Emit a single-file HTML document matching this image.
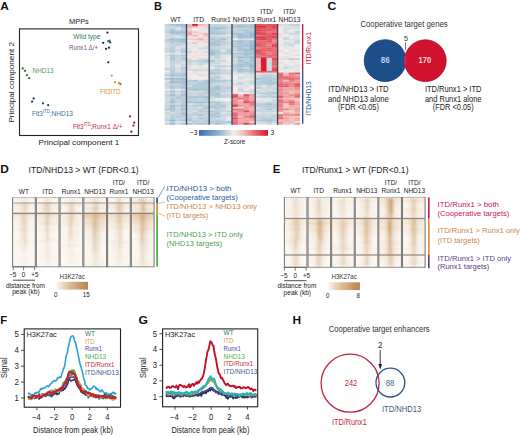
<!DOCTYPE html>
<html><head><meta charset="utf-8"><style>
html,body{margin:0;padding:0;background:#fff;}
svg{display:block;}
text{font-family:"Liberation Sans", sans-serif;}
</style></head><body>
<svg width="520" height="436" viewBox="0 0 520 436" font-family='"Liberation Sans", sans-serif'>
<rect width="520" height="436" fill="#fff"/>
<text x="0.2" y="9.8" font-size="11.8" font-weight="bold" fill="#111" textLength="8.6" lengthAdjust="spacingAndGlyphs">A</text>
<text x="69" y="23.8" font-size="7.7" fill="#222" textLength="19.8" lengthAdjust="spacingAndGlyphs">MPPs</text>
<rect x="19.5" y="28.9" width="119" height="106.6" fill="none" stroke="#222" stroke-width="1.1"/>
<text x="38.5" y="145.0" font-size="7.7" fill="#222" textLength="80.9" lengthAdjust="spacingAndGlyphs">Principal component 1</text>
<text transform="translate(14.4,122.6) rotate(-90)" font-size="7.7" fill="#222" textLength="80.6" lengthAdjust="spacingAndGlyphs">Principal component 2</text>
<text x="73.3" y="38.8" font-size="7.37" fill="#2f7a66" textLength="27.1" lengthAdjust="spacingAndGlyphs">Wild type</text>
<text x="69" y="50.0" font-size="7.37" fill="#6e4f86" textLength="29.1" lengthAdjust="spacingAndGlyphs">Runx1 &#916;/+</text>
<text x="32.6" y="73.3" font-size="7.37" fill="#4f9a4f" textLength="21" lengthAdjust="spacingAndGlyphs">NHD13</text>
<text x="100" y="94.4" font-size="7.37" fill="#d9903a" textLength="20.5" lengthAdjust="spacingAndGlyphs">Flt3ITD</text>
<text x="32" y="115.8" font-size="7.3" fill="#3a6ea5" textLength="41" lengthAdjust="spacingAndGlyphs">Flt3<tspan font-size="4.8" dy="-3.0">ITD</tspan><tspan dy="3.0">;NHD13</tspan></text>
<text x="72.9" y="129.4" font-size="7.3" fill="#c8284a" textLength="49.6" lengthAdjust="spacingAndGlyphs">Flt3<tspan font-size="4.8" dy="-3.0">ITD</tspan><tspan dy="3.0">;Runx1 &#916;/+</tspan></text>
<circle cx="107.4" cy="32.6" r="1.15" fill="#1a2a3a"/>
<circle cx="103.2" cy="42.8" r="1.15" fill="#1a2a3a"/>
<circle cx="108.2" cy="41.2" r="1.15" fill="#2f7a66"/>
<circle cx="109.5" cy="40.6" r="1.15" fill="#2f7a66"/>
<circle cx="110.2" cy="42.3" r="1.15" fill="#1a2a3a"/>
<circle cx="106.1" cy="48.8" r="1.15" fill="#1a2a3a"/>
<circle cx="109.0" cy="47.7" r="1.15" fill="#1a2a3a"/>
<circle cx="108.3" cy="62.3" r="1.15" fill="#3a1f3a"/>
<circle cx="111.7" cy="75.6" r="1.15" fill="#d9903a"/>
<circle cx="114.9" cy="82.2" r="1.15" fill="#d9903a"/>
<circle cx="118.9" cy="83.0" r="1.15" fill="#d9903a"/>
<circle cx="120.5" cy="84.0" r="1.15" fill="#c07030"/>
<circle cx="22.7" cy="68.5" r="1.15" fill="#2a6e35"/>
<circle cx="25.0" cy="70.8" r="1.15" fill="#2a6e35"/>
<circle cx="26.9" cy="75.1" r="1.15" fill="#2a6e35"/>
<circle cx="29.2" cy="78.2" r="1.15" fill="#2a6e35"/>
<circle cx="33.7" cy="98.5" r="1.15" fill="#1d3a6a"/>
<circle cx="32.1" cy="101.7" r="1.15" fill="#1d3a6a"/>
<circle cx="43.0" cy="103.3" r="1.15" fill="#1d3a6a"/>
<circle cx="48.2" cy="105.2" r="1.15" fill="#1d3a6a"/>
<circle cx="130.0" cy="116.4" r="1.15" fill="#b01838"/>
<circle cx="134.2" cy="122.7" r="1.15" fill="#b01838"/>
<circle cx="133.4" cy="125.6" r="1.15" fill="#b01838"/>
<circle cx="131.3" cy="131.7" r="1.15" fill="#8a1030"/>
<text x="153.9" y="9.8" font-size="11.8" font-weight="bold" fill="#111" textLength="7.9" lengthAdjust="spacingAndGlyphs">B</text>
<defs><filter id="hblr" x="-3%" y="-3%" width="106%" height="106%"><feGaussianBlur stdDeviation="0.45"/></filter><clipPath id="hclip"><rect x="164.4" y="24" width="135.8" height="100.8"/></clipPath></defs>
<g clip-path="url(#hclip)"><g filter="url(#hblr)">
<rect x="164.40" y="24.00" width="5.82" height="2.10" fill="#bccfdb"/>
<rect x="164.40" y="25.80" width="5.82" height="2.10" fill="#ced9e1"/>
<rect x="164.40" y="27.60" width="5.82" height="2.10" fill="#ccd9e0"/>
<rect x="164.40" y="29.40" width="5.82" height="2.10" fill="#c8d6df"/>
<rect x="164.40" y="31.20" width="5.82" height="2.10" fill="#b9cdda"/>
<rect x="164.40" y="33.00" width="5.82" height="2.10" fill="#d8dfe4"/>
<rect x="164.40" y="34.80" width="5.82" height="2.10" fill="#c9d7df"/>
<rect x="164.40" y="36.60" width="5.82" height="2.10" fill="#dce2e5"/>
<rect x="164.40" y="38.40" width="5.82" height="2.10" fill="#bbcfdb"/>
<rect x="164.40" y="40.20" width="5.82" height="2.10" fill="#b8cdda"/>
<rect x="164.40" y="42.00" width="5.82" height="2.10" fill="#d3dce2"/>
<rect x="164.40" y="43.80" width="5.82" height="2.10" fill="#cfdae1"/>
<rect x="164.40" y="45.60" width="5.82" height="2.10" fill="#d6dee3"/>
<rect x="164.40" y="47.40" width="5.82" height="2.10" fill="#cad7df"/>
<rect x="164.40" y="49.20" width="5.82" height="2.10" fill="#c1d2dd"/>
<rect x="164.40" y="51.00" width="5.82" height="2.10" fill="#c9d7df"/>
<rect x="164.40" y="52.80" width="5.82" height="2.10" fill="#f2e7e6"/>
<rect x="164.40" y="54.60" width="5.82" height="2.10" fill="#cdd9e0"/>
<rect x="164.40" y="56.40" width="5.82" height="2.10" fill="#dee2e6"/>
<rect x="164.40" y="58.20" width="5.82" height="2.10" fill="#d6dee3"/>
<rect x="164.40" y="60.00" width="5.82" height="2.10" fill="#e6e7e8"/>
<rect x="164.40" y="61.80" width="5.82" height="2.10" fill="#e1e4e7"/>
<rect x="164.40" y="63.60" width="5.82" height="2.10" fill="#e1e4e7"/>
<rect x="164.40" y="65.40" width="5.82" height="2.10" fill="#f0edeb"/>
<rect x="164.40" y="67.20" width="5.82" height="2.10" fill="#c7d5df"/>
<rect x="164.40" y="69.00" width="5.82" height="2.10" fill="#c9d7df"/>
<rect x="164.40" y="70.80" width="5.82" height="2.10" fill="#eceaea"/>
<rect x="164.40" y="72.60" width="5.82" height="2.10" fill="#ccd9e0"/>
<rect x="164.40" y="74.40" width="5.82" height="2.10" fill="#b8cdda"/>
<rect x="164.40" y="76.20" width="5.82" height="2.10" fill="#dae0e5"/>
<rect x="164.40" y="78.00" width="5.82" height="2.10" fill="#a8c3d5"/>
<rect x="164.40" y="79.80" width="5.82" height="2.10" fill="#dfe3e6"/>
<rect x="164.40" y="81.60" width="5.82" height="2.10" fill="#c5d4de"/>
<rect x="164.40" y="83.40" width="5.82" height="2.10" fill="#c9d6df"/>
<rect x="164.40" y="85.20" width="5.82" height="2.10" fill="#c4d4de"/>
<rect x="164.40" y="87.00" width="5.82" height="2.10" fill="#cbd8e0"/>
<rect x="164.40" y="88.80" width="5.82" height="2.10" fill="#ecebea"/>
<rect x="164.40" y="90.60" width="5.82" height="2.10" fill="#c5d4de"/>
<rect x="164.40" y="92.40" width="5.82" height="2.10" fill="#d7dee3"/>
<rect x="164.40" y="94.20" width="5.82" height="2.10" fill="#c0d1dc"/>
<rect x="164.40" y="96.00" width="5.82" height="2.10" fill="#cad7e0"/>
<rect x="164.40" y="97.80" width="5.82" height="2.10" fill="#d1dbe2"/>
<rect x="164.40" y="99.60" width="5.82" height="2.10" fill="#d4dde3"/>
<rect x="164.40" y="101.40" width="5.82" height="2.10" fill="#c4d4dd"/>
<rect x="164.40" y="103.20" width="5.82" height="2.10" fill="#d1dbe2"/>
<rect x="164.40" y="105.00" width="5.82" height="2.10" fill="#c5d4de"/>
<rect x="164.40" y="106.80" width="5.82" height="2.10" fill="#ccd8e0"/>
<rect x="164.40" y="108.60" width="5.82" height="2.10" fill="#a9c4d5"/>
<rect x="164.40" y="110.40" width="5.82" height="2.10" fill="#d7dfe4"/>
<rect x="164.40" y="112.20" width="5.82" height="2.10" fill="#c2d3dd"/>
<rect x="164.40" y="114.00" width="5.82" height="2.10" fill="#d6dee3"/>
<rect x="164.40" y="115.80" width="5.82" height="2.10" fill="#d8dfe4"/>
<rect x="164.40" y="117.60" width="5.82" height="2.10" fill="#c9d7df"/>
<rect x="164.40" y="119.40" width="5.82" height="2.10" fill="#bed0dc"/>
<rect x="164.40" y="121.20" width="5.82" height="2.10" fill="#dce1e5"/>
<rect x="164.40" y="123.00" width="5.82" height="2.10" fill="#c3d3dd"/>
<rect x="169.93" y="24.00" width="5.82" height="2.10" fill="#a7c3d5"/>
<rect x="169.93" y="25.80" width="5.82" height="2.10" fill="#cdd9e0"/>
<rect x="169.93" y="27.60" width="5.82" height="2.10" fill="#c8d6df"/>
<rect x="169.93" y="29.40" width="5.82" height="2.10" fill="#a1bfd4"/>
<rect x="169.93" y="31.20" width="5.82" height="2.10" fill="#9cbcd3"/>
<rect x="169.93" y="33.00" width="5.82" height="2.10" fill="#b0c8d7"/>
<rect x="169.93" y="34.80" width="5.82" height="2.10" fill="#d0dbe1"/>
<rect x="169.93" y="36.60" width="5.82" height="2.10" fill="#c5d4de"/>
<rect x="169.93" y="38.40" width="5.82" height="2.10" fill="#a2bfd4"/>
<rect x="169.93" y="40.20" width="5.82" height="2.10" fill="#adc7d6"/>
<rect x="169.93" y="42.00" width="5.82" height="2.10" fill="#b8cdda"/>
<rect x="169.93" y="43.80" width="5.82" height="2.10" fill="#c9d7df"/>
<rect x="169.93" y="45.60" width="5.82" height="2.10" fill="#bdd0db"/>
<rect x="169.93" y="47.40" width="5.82" height="2.10" fill="#b7ccda"/>
<rect x="169.93" y="49.20" width="5.82" height="2.10" fill="#b5cbd9"/>
<rect x="169.93" y="51.00" width="5.82" height="2.10" fill="#baceda"/>
<rect x="169.93" y="52.80" width="5.82" height="2.10" fill="#dae0e4"/>
<rect x="169.93" y="54.60" width="5.82" height="2.10" fill="#aec7d7"/>
<rect x="169.93" y="56.40" width="5.82" height="2.10" fill="#a8c3d5"/>
<rect x="169.93" y="58.20" width="5.82" height="2.10" fill="#adc7d6"/>
<rect x="169.93" y="60.00" width="5.82" height="2.10" fill="#c0d1dc"/>
<rect x="169.93" y="61.80" width="5.82" height="2.10" fill="#c1d2dd"/>
<rect x="169.93" y="63.60" width="5.82" height="2.10" fill="#c7d5de"/>
<rect x="169.93" y="65.40" width="5.82" height="2.10" fill="#c1d2dc"/>
<rect x="169.93" y="67.20" width="5.82" height="2.10" fill="#bbcfdb"/>
<rect x="169.93" y="69.00" width="5.82" height="2.10" fill="#b9ceda"/>
<rect x="169.93" y="70.80" width="5.82" height="2.10" fill="#bacedb"/>
<rect x="169.93" y="72.60" width="5.82" height="2.10" fill="#b3cad8"/>
<rect x="169.93" y="74.40" width="5.82" height="2.10" fill="#9ebdd4"/>
<rect x="169.93" y="76.20" width="5.82" height="2.10" fill="#c2d2dd"/>
<rect x="169.93" y="78.00" width="5.82" height="2.10" fill="#9bbbd3"/>
<rect x="169.93" y="79.80" width="5.82" height="2.10" fill="#aac5d6"/>
<rect x="169.93" y="81.60" width="5.82" height="2.10" fill="#93b5d2"/>
<rect x="169.93" y="83.40" width="5.82" height="2.10" fill="#c0d1dc"/>
<rect x="169.93" y="85.20" width="5.82" height="2.10" fill="#b3cad8"/>
<rect x="169.93" y="87.00" width="5.82" height="2.10" fill="#b0c8d7"/>
<rect x="169.93" y="88.80" width="5.82" height="2.10" fill="#d8dfe4"/>
<rect x="169.93" y="90.60" width="5.82" height="2.10" fill="#a3c0d5"/>
<rect x="169.93" y="92.40" width="5.82" height="2.10" fill="#bccfdb"/>
<rect x="169.93" y="94.20" width="5.82" height="2.10" fill="#a2bfd4"/>
<rect x="169.93" y="96.00" width="5.82" height="2.10" fill="#c2d3dd"/>
<rect x="169.93" y="97.80" width="5.82" height="2.10" fill="#bbcedb"/>
<rect x="169.93" y="99.60" width="5.82" height="2.10" fill="#a7c2d5"/>
<rect x="169.93" y="101.40" width="5.82" height="2.10" fill="#9ebdd4"/>
<rect x="169.93" y="103.20" width="5.82" height="2.10" fill="#bfd1dc"/>
<rect x="169.93" y="105.00" width="5.82" height="2.10" fill="#a5c1d5"/>
<rect x="169.93" y="106.80" width="5.82" height="2.10" fill="#a7c3d5"/>
<rect x="169.93" y="108.60" width="5.82" height="2.10" fill="#a7c2d5"/>
<rect x="169.93" y="110.40" width="5.82" height="2.10" fill="#b8cdda"/>
<rect x="169.93" y="112.20" width="5.82" height="2.10" fill="#cdd9e0"/>
<rect x="169.93" y="114.00" width="5.82" height="2.10" fill="#c4d4de"/>
<rect x="169.93" y="115.80" width="5.82" height="2.10" fill="#b5cbd9"/>
<rect x="169.93" y="117.60" width="5.82" height="2.10" fill="#baceda"/>
<rect x="169.93" y="119.40" width="5.82" height="2.10" fill="#96b7d2"/>
<rect x="169.93" y="121.20" width="5.82" height="2.10" fill="#bbcfdb"/>
<rect x="169.93" y="123.00" width="5.82" height="2.10" fill="#a0bed4"/>
<rect x="175.45" y="24.00" width="5.82" height="2.10" fill="#9ebdd4"/>
<rect x="175.45" y="25.80" width="5.82" height="2.10" fill="#bed0dc"/>
<rect x="175.45" y="27.60" width="5.82" height="2.10" fill="#dee2e6"/>
<rect x="175.45" y="29.40" width="5.82" height="2.10" fill="#cdd9e0"/>
<rect x="175.45" y="31.20" width="5.82" height="2.10" fill="#a5c1d5"/>
<rect x="175.45" y="33.00" width="5.82" height="2.10" fill="#b1c9d7"/>
<rect x="175.45" y="34.80" width="5.82" height="2.10" fill="#d3dce2"/>
<rect x="175.45" y="36.60" width="5.82" height="2.10" fill="#dbe1e5"/>
<rect x="175.45" y="38.40" width="5.82" height="2.10" fill="#a8c3d5"/>
<rect x="175.45" y="40.20" width="5.82" height="2.10" fill="#a9c4d6"/>
<rect x="175.45" y="42.00" width="5.82" height="2.10" fill="#c5d4de"/>
<rect x="175.45" y="43.80" width="5.82" height="2.10" fill="#bccfdb"/>
<rect x="175.45" y="45.60" width="5.82" height="2.10" fill="#d1dbe2"/>
<rect x="175.45" y="47.40" width="5.82" height="2.10" fill="#dee2e6"/>
<rect x="175.45" y="49.20" width="5.82" height="2.10" fill="#c8d6df"/>
<rect x="175.45" y="51.00" width="5.82" height="2.10" fill="#d5dde3"/>
<rect x="175.45" y="52.80" width="5.82" height="2.10" fill="#e6e7e8"/>
<rect x="175.45" y="54.60" width="5.82" height="2.10" fill="#bdd0db"/>
<rect x="175.45" y="56.40" width="5.82" height="2.10" fill="#c3d3dd"/>
<rect x="175.45" y="58.20" width="5.82" height="2.10" fill="#c7d6df"/>
<rect x="175.45" y="60.00" width="5.82" height="2.10" fill="#ccd8e0"/>
<rect x="175.45" y="61.80" width="5.82" height="2.10" fill="#c8d6df"/>
<rect x="175.45" y="63.60" width="5.82" height="2.10" fill="#dbe1e5"/>
<rect x="175.45" y="65.40" width="5.82" height="2.10" fill="#e8e8e9"/>
<rect x="175.45" y="67.20" width="5.82" height="2.10" fill="#cfdae1"/>
<rect x="175.45" y="69.00" width="5.82" height="2.10" fill="#dbe1e5"/>
<rect x="175.45" y="70.80" width="5.82" height="2.10" fill="#d5dde3"/>
<rect x="175.45" y="72.60" width="5.82" height="2.10" fill="#bdd0db"/>
<rect x="175.45" y="74.40" width="5.82" height="2.10" fill="#aac5d6"/>
<rect x="175.45" y="76.20" width="5.82" height="2.10" fill="#c8d6df"/>
<rect x="175.45" y="78.00" width="5.82" height="2.10" fill="#a5c1d5"/>
<rect x="175.45" y="79.80" width="5.82" height="2.10" fill="#aec7d6"/>
<rect x="175.45" y="81.60" width="5.82" height="2.10" fill="#a1bfd4"/>
<rect x="175.45" y="83.40" width="5.82" height="2.10" fill="#c2d3dd"/>
<rect x="175.45" y="85.20" width="5.82" height="2.10" fill="#b9cdda"/>
<rect x="175.45" y="87.00" width="5.82" height="2.10" fill="#c0d2dc"/>
<rect x="175.45" y="88.80" width="5.82" height="2.10" fill="#f2e4e2"/>
<rect x="175.45" y="90.60" width="5.82" height="2.10" fill="#c4d3dd"/>
<rect x="175.45" y="92.40" width="5.82" height="2.10" fill="#d5dde3"/>
<rect x="175.45" y="94.20" width="5.82" height="2.10" fill="#bdd0db"/>
<rect x="175.45" y="96.00" width="5.82" height="2.10" fill="#b5cbd9"/>
<rect x="175.45" y="97.80" width="5.82" height="2.10" fill="#b6ccd9"/>
<rect x="175.45" y="99.60" width="5.82" height="2.10" fill="#c9d7df"/>
<rect x="175.45" y="101.40" width="5.82" height="2.10" fill="#c0d1dc"/>
<rect x="175.45" y="103.20" width="5.82" height="2.10" fill="#d2dce2"/>
<rect x="175.45" y="105.00" width="5.82" height="2.10" fill="#b8cdda"/>
<rect x="175.45" y="106.80" width="5.82" height="2.10" fill="#d5dee3"/>
<rect x="175.45" y="108.60" width="5.82" height="2.10" fill="#bfd1dc"/>
<rect x="175.45" y="110.40" width="5.82" height="2.10" fill="#c6d5de"/>
<rect x="175.45" y="112.20" width="5.82" height="2.10" fill="#c3d3dd"/>
<rect x="175.45" y="114.00" width="5.82" height="2.10" fill="#c5d4de"/>
<rect x="175.45" y="115.80" width="5.82" height="2.10" fill="#baceda"/>
<rect x="175.45" y="117.60" width="5.82" height="2.10" fill="#cbd8e0"/>
<rect x="175.45" y="119.40" width="5.82" height="2.10" fill="#c2d3dd"/>
<rect x="175.45" y="121.20" width="5.82" height="2.10" fill="#dae0e4"/>
<rect x="175.45" y="123.00" width="5.82" height="2.10" fill="#ccd8e0"/>
<rect x="180.97" y="24.00" width="5.82" height="2.10" fill="#a0bed4"/>
<rect x="180.97" y="25.80" width="5.82" height="2.10" fill="#a2bfd4"/>
<rect x="180.97" y="27.60" width="5.82" height="2.10" fill="#c0d2dc"/>
<rect x="180.97" y="29.40" width="5.82" height="2.10" fill="#b2cad8"/>
<rect x="180.97" y="31.20" width="5.82" height="2.10" fill="#9dbcd4"/>
<rect x="180.97" y="33.00" width="5.82" height="2.10" fill="#b5cbd9"/>
<rect x="180.97" y="34.80" width="5.82" height="2.10" fill="#bdcfdb"/>
<rect x="180.97" y="36.60" width="5.82" height="2.10" fill="#ced9e1"/>
<rect x="180.97" y="38.40" width="5.82" height="2.10" fill="#9ebdd4"/>
<rect x="180.97" y="40.20" width="5.82" height="2.10" fill="#9dbcd3"/>
<rect x="180.97" y="42.00" width="5.82" height="2.10" fill="#b5cbd9"/>
<rect x="180.97" y="43.80" width="5.82" height="2.10" fill="#cdd9e0"/>
<rect x="180.97" y="45.60" width="5.82" height="2.10" fill="#d5dde3"/>
<rect x="180.97" y="47.40" width="5.82" height="2.10" fill="#c0d1dc"/>
<rect x="180.97" y="49.20" width="5.82" height="2.10" fill="#b4cbd9"/>
<rect x="180.97" y="51.00" width="5.82" height="2.10" fill="#b1c9d7"/>
<rect x="180.97" y="52.80" width="5.82" height="2.10" fill="#dae0e4"/>
<rect x="180.97" y="54.60" width="5.82" height="2.10" fill="#adc7d6"/>
<rect x="180.97" y="56.40" width="5.82" height="2.10" fill="#bbcfdb"/>
<rect x="180.97" y="58.20" width="5.82" height="2.10" fill="#acc6d6"/>
<rect x="180.97" y="60.00" width="5.82" height="2.10" fill="#c4d4de"/>
<rect x="180.97" y="61.80" width="5.82" height="2.10" fill="#dee2e6"/>
<rect x="180.97" y="63.60" width="5.82" height="2.10" fill="#cbd8e0"/>
<rect x="180.97" y="65.40" width="5.82" height="2.10" fill="#cad7df"/>
<rect x="180.97" y="67.20" width="5.82" height="2.10" fill="#b5cbd9"/>
<rect x="180.97" y="69.00" width="5.82" height="2.10" fill="#bed0dc"/>
<rect x="180.97" y="70.80" width="5.82" height="2.10" fill="#c7d5de"/>
<rect x="180.97" y="72.60" width="5.82" height="2.10" fill="#afc8d7"/>
<rect x="180.97" y="74.40" width="5.82" height="2.10" fill="#a0bed4"/>
<rect x="180.97" y="76.20" width="5.82" height="2.10" fill="#c0d1dc"/>
<rect x="180.97" y="78.00" width="5.82" height="2.10" fill="#9cbcd3"/>
<rect x="180.97" y="79.80" width="5.82" height="2.10" fill="#a9c4d6"/>
<rect x="180.97" y="81.60" width="5.82" height="2.10" fill="#9abad3"/>
<rect x="180.97" y="83.40" width="5.82" height="2.10" fill="#a9c4d5"/>
<rect x="180.97" y="85.20" width="5.82" height="2.10" fill="#b2c9d8"/>
<rect x="180.97" y="87.00" width="5.82" height="2.10" fill="#a1bed4"/>
<rect x="180.97" y="88.80" width="5.82" height="2.10" fill="#dfe3e6"/>
<rect x="180.97" y="90.60" width="5.82" height="2.10" fill="#acc6d6"/>
<rect x="180.97" y="92.40" width="5.82" height="2.10" fill="#b8cdda"/>
<rect x="180.97" y="94.20" width="5.82" height="2.10" fill="#a4c1d5"/>
<rect x="180.97" y="96.00" width="5.82" height="2.10" fill="#bbcfdb"/>
<rect x="180.97" y="97.80" width="5.82" height="2.10" fill="#bdd0db"/>
<rect x="180.97" y="99.60" width="5.82" height="2.10" fill="#b0c9d7"/>
<rect x="180.97" y="101.40" width="5.82" height="2.10" fill="#b2c9d8"/>
<rect x="180.97" y="103.20" width="5.82" height="2.10" fill="#b3cad8"/>
<rect x="180.97" y="105.00" width="5.82" height="2.10" fill="#afc8d7"/>
<rect x="180.97" y="106.80" width="5.82" height="2.10" fill="#b7ccd9"/>
<rect x="180.97" y="108.60" width="5.82" height="2.10" fill="#a0bed4"/>
<rect x="180.97" y="110.40" width="5.82" height="2.10" fill="#c0d1dc"/>
<rect x="180.97" y="112.20" width="5.82" height="2.10" fill="#a3c0d5"/>
<rect x="180.97" y="114.00" width="5.82" height="2.10" fill="#aec7d7"/>
<rect x="180.97" y="115.80" width="5.82" height="2.10" fill="#bfd1dc"/>
<rect x="180.97" y="117.60" width="5.82" height="2.10" fill="#c5d4de"/>
<rect x="180.97" y="119.40" width="5.82" height="2.10" fill="#a9c4d6"/>
<rect x="180.97" y="121.20" width="5.82" height="2.10" fill="#d1dbe2"/>
<rect x="180.97" y="123.00" width="5.82" height="2.10" fill="#abc5d6"/>
<rect x="186.50" y="24.00" width="5.97" height="2.10" fill="#f1b4b5"/>
<rect x="186.50" y="25.80" width="5.97" height="2.10" fill="#efaaac"/>
<rect x="186.50" y="27.60" width="5.97" height="2.10" fill="#d4dde2"/>
<rect x="186.50" y="29.40" width="5.97" height="2.10" fill="#f2d5d4"/>
<rect x="186.50" y="31.20" width="5.97" height="2.10" fill="#f0afb0"/>
<rect x="186.50" y="33.00" width="5.97" height="2.10" fill="#efa9ab"/>
<rect x="186.50" y="34.80" width="5.97" height="2.10" fill="#f2c8c8"/>
<rect x="186.50" y="36.60" width="5.97" height="2.10" fill="#f2e8e6"/>
<rect x="186.50" y="38.40" width="5.97" height="2.10" fill="#f2cccb"/>
<rect x="186.50" y="40.20" width="5.97" height="2.10" fill="#f2ebe9"/>
<rect x="186.50" y="42.00" width="5.97" height="2.10" fill="#f2d9d8"/>
<rect x="186.50" y="43.80" width="5.97" height="2.10" fill="#e6e7e8"/>
<rect x="186.50" y="45.60" width="5.97" height="2.10" fill="#e9e9e9"/>
<rect x="186.50" y="47.40" width="5.97" height="2.10" fill="#e3e5e7"/>
<rect x="186.50" y="49.20" width="5.97" height="2.10" fill="#dfe3e6"/>
<rect x="186.50" y="51.00" width="5.97" height="2.10" fill="#cedae1"/>
<rect x="186.50" y="52.80" width="5.97" height="2.10" fill="#f2e3e2"/>
<rect x="186.50" y="54.60" width="5.97" height="2.10" fill="#f2e3e2"/>
<rect x="186.50" y="56.40" width="5.97" height="2.10" fill="#f2e7e5"/>
<rect x="186.50" y="58.20" width="5.97" height="2.10" fill="#d4dde3"/>
<rect x="186.50" y="60.00" width="5.97" height="2.10" fill="#bfd1dc"/>
<rect x="186.50" y="61.80" width="5.97" height="2.10" fill="#cad7df"/>
<rect x="186.50" y="63.60" width="5.97" height="2.10" fill="#cbd8e0"/>
<rect x="186.50" y="65.40" width="5.97" height="2.10" fill="#f2dad9"/>
<rect x="186.50" y="67.20" width="5.97" height="2.10" fill="#dce2e5"/>
<rect x="186.50" y="69.00" width="5.97" height="2.10" fill="#cfdae1"/>
<rect x="186.50" y="70.80" width="5.97" height="2.10" fill="#f2edeb"/>
<rect x="186.50" y="72.60" width="5.97" height="2.10" fill="#f2dcdb"/>
<rect x="186.50" y="74.40" width="5.97" height="2.10" fill="#edebeb"/>
<rect x="186.50" y="76.20" width="5.97" height="2.10" fill="#f2e6e4"/>
<rect x="186.50" y="78.00" width="5.97" height="2.10" fill="#e3e6e7"/>
<rect x="186.50" y="79.80" width="5.97" height="2.10" fill="#b4cbd9"/>
<rect x="186.50" y="81.60" width="5.97" height="2.10" fill="#c1d2dd"/>
<rect x="186.50" y="83.40" width="5.97" height="2.10" fill="#bed0dc"/>
<rect x="186.50" y="85.20" width="5.97" height="2.10" fill="#cedae1"/>
<rect x="186.50" y="87.00" width="5.97" height="2.10" fill="#baceda"/>
<rect x="186.50" y="88.80" width="5.97" height="2.10" fill="#aec7d7"/>
<rect x="186.50" y="90.60" width="5.97" height="2.10" fill="#d3dde2"/>
<rect x="186.50" y="92.40" width="5.97" height="2.10" fill="#c0d2dc"/>
<rect x="186.50" y="94.20" width="5.97" height="2.10" fill="#c6d5de"/>
<rect x="186.50" y="96.00" width="5.97" height="2.10" fill="#aec7d7"/>
<rect x="186.50" y="97.80" width="5.97" height="2.10" fill="#b7cdda"/>
<rect x="186.50" y="99.60" width="5.97" height="2.10" fill="#c0d2dc"/>
<rect x="186.50" y="101.40" width="5.97" height="2.10" fill="#a4c1d5"/>
<rect x="186.50" y="103.20" width="5.97" height="2.10" fill="#d9e0e4"/>
<rect x="186.50" y="105.00" width="5.97" height="2.10" fill="#c6d5de"/>
<rect x="186.50" y="106.80" width="5.97" height="2.10" fill="#ced9e1"/>
<rect x="186.50" y="108.60" width="5.97" height="2.10" fill="#c5d4de"/>
<rect x="186.50" y="110.40" width="5.97" height="2.10" fill="#cad7df"/>
<rect x="186.50" y="112.20" width="5.97" height="2.10" fill="#cfdae1"/>
<rect x="186.50" y="114.00" width="5.97" height="2.10" fill="#bfd1dc"/>
<rect x="186.50" y="115.80" width="5.97" height="2.10" fill="#c8d6df"/>
<rect x="186.50" y="117.60" width="5.97" height="2.10" fill="#b0c8d7"/>
<rect x="186.50" y="119.40" width="5.97" height="2.10" fill="#a9c4d6"/>
<rect x="186.50" y="121.20" width="5.97" height="2.10" fill="#cfdae1"/>
<rect x="186.50" y="123.00" width="5.97" height="2.10" fill="#a9c4d6"/>
<rect x="192.18" y="24.00" width="5.97" height="2.10" fill="#da2231"/>
<rect x="192.18" y="25.80" width="5.97" height="2.10" fill="#efa4a7"/>
<rect x="192.18" y="27.60" width="5.97" height="2.10" fill="#f2eeec"/>
<rect x="192.18" y="29.40" width="5.97" height="2.10" fill="#eeeceb"/>
<rect x="192.18" y="31.20" width="5.97" height="2.10" fill="#f2c8c7"/>
<rect x="192.18" y="33.00" width="5.97" height="2.10" fill="#f2dcdb"/>
<rect x="192.18" y="34.80" width="5.97" height="2.10" fill="#f1b7b8"/>
<rect x="192.18" y="36.60" width="5.97" height="2.10" fill="#f2e6e5"/>
<rect x="192.18" y="38.40" width="5.97" height="2.10" fill="#f2c7c7"/>
<rect x="192.18" y="40.20" width="5.97" height="2.10" fill="#e5e6e8"/>
<rect x="192.18" y="42.00" width="5.97" height="2.10" fill="#f2c5c4"/>
<rect x="192.18" y="43.80" width="5.97" height="2.10" fill="#e4e6e8"/>
<rect x="192.18" y="45.60" width="5.97" height="2.10" fill="#e3e5e7"/>
<rect x="192.18" y="47.40" width="5.97" height="2.10" fill="#eeeceb"/>
<rect x="192.18" y="49.20" width="5.97" height="2.10" fill="#ebeaea"/>
<rect x="192.18" y="51.00" width="5.97" height="2.10" fill="#f2e0df"/>
<rect x="192.18" y="52.80" width="5.97" height="2.10" fill="#f2e7e5"/>
<rect x="192.18" y="54.60" width="5.97" height="2.10" fill="#f2dddc"/>
<rect x="192.18" y="56.40" width="5.97" height="2.10" fill="#f2e1e0"/>
<rect x="192.18" y="58.20" width="5.97" height="2.10" fill="#e9e9e9"/>
<rect x="192.18" y="60.00" width="5.97" height="2.10" fill="#c4d4dd"/>
<rect x="192.18" y="61.80" width="5.97" height="2.10" fill="#dce1e5"/>
<rect x="192.18" y="63.60" width="5.97" height="2.10" fill="#d5dde3"/>
<rect x="192.18" y="65.40" width="5.97" height="2.10" fill="#efeceb"/>
<rect x="192.18" y="67.20" width="5.97" height="2.10" fill="#e6e7e8"/>
<rect x="192.18" y="69.00" width="5.97" height="2.10" fill="#cdd9e0"/>
<rect x="192.18" y="70.80" width="5.97" height="2.10" fill="#dce2e5"/>
<rect x="192.18" y="72.60" width="5.97" height="2.10" fill="#f2dad9"/>
<rect x="192.18" y="74.40" width="5.97" height="2.10" fill="#eeeceb"/>
<rect x="192.18" y="76.20" width="5.97" height="2.10" fill="#f2ebe9"/>
<rect x="192.18" y="78.00" width="5.97" height="2.10" fill="#f1edec"/>
<rect x="192.18" y="79.80" width="5.97" height="2.10" fill="#aac5d6"/>
<rect x="192.18" y="81.60" width="5.97" height="2.10" fill="#c6d5de"/>
<rect x="192.18" y="83.40" width="5.97" height="2.10" fill="#b9ceda"/>
<rect x="192.18" y="85.20" width="5.97" height="2.10" fill="#b0c8d7"/>
<rect x="192.18" y="87.00" width="5.97" height="2.10" fill="#b6ccd9"/>
<rect x="192.18" y="88.80" width="5.97" height="2.10" fill="#a5c1d5"/>
<rect x="192.18" y="90.60" width="5.97" height="2.10" fill="#d4dde3"/>
<rect x="192.18" y="92.40" width="5.97" height="2.10" fill="#c6d5de"/>
<rect x="192.18" y="94.20" width="5.97" height="2.10" fill="#c9d7df"/>
<rect x="192.18" y="96.00" width="5.97" height="2.10" fill="#abc6d6"/>
<rect x="192.18" y="97.80" width="5.97" height="2.10" fill="#bfd1dc"/>
<rect x="192.18" y="99.60" width="5.97" height="2.10" fill="#bfd1dc"/>
<rect x="192.18" y="101.40" width="5.97" height="2.10" fill="#aac4d6"/>
<rect x="192.18" y="103.20" width="5.97" height="2.10" fill="#c9d7df"/>
<rect x="192.18" y="105.00" width="5.97" height="2.10" fill="#b7ccda"/>
<rect x="192.18" y="106.80" width="5.97" height="2.10" fill="#c8d6df"/>
<rect x="192.18" y="108.60" width="5.97" height="2.10" fill="#c4d4de"/>
<rect x="192.18" y="110.40" width="5.97" height="2.10" fill="#d4dde3"/>
<rect x="192.18" y="112.20" width="5.97" height="2.10" fill="#b4cbd9"/>
<rect x="192.18" y="114.00" width="5.97" height="2.10" fill="#bed0dc"/>
<rect x="192.18" y="115.80" width="5.97" height="2.10" fill="#d3dce2"/>
<rect x="192.18" y="117.60" width="5.97" height="2.10" fill="#cdd9e0"/>
<rect x="192.18" y="119.40" width="5.97" height="2.10" fill="#bccfdb"/>
<rect x="192.18" y="121.20" width="5.97" height="2.10" fill="#b7cdda"/>
<rect x="192.18" y="123.00" width="5.97" height="2.10" fill="#b5cbd9"/>
<rect x="197.85" y="24.00" width="5.97" height="2.10" fill="#f0b2b3"/>
<rect x="197.85" y="25.80" width="5.97" height="2.10" fill="#f2dedd"/>
<rect x="197.85" y="27.60" width="5.97" height="2.10" fill="#f2e2e1"/>
<rect x="197.85" y="29.40" width="5.97" height="2.10" fill="#f2e3e1"/>
<rect x="197.85" y="31.20" width="5.97" height="2.10" fill="#f2dcdb"/>
<rect x="197.85" y="33.00" width="5.97" height="2.10" fill="#f2d4d3"/>
<rect x="197.85" y="34.80" width="5.97" height="2.10" fill="#f2e9e7"/>
<rect x="197.85" y="36.60" width="5.97" height="2.10" fill="#f2d4d3"/>
<rect x="197.85" y="38.40" width="5.97" height="2.10" fill="#f0aeaf"/>
<rect x="197.85" y="40.20" width="5.97" height="2.10" fill="#f2d6d5"/>
<rect x="197.85" y="42.00" width="5.97" height="2.10" fill="#f2e9e7"/>
<rect x="197.85" y="43.80" width="5.97" height="2.10" fill="#e9e9e9"/>
<rect x="197.85" y="45.60" width="5.97" height="2.10" fill="#f0edeb"/>
<rect x="197.85" y="47.40" width="5.97" height="2.10" fill="#d3dce2"/>
<rect x="197.85" y="49.20" width="5.97" height="2.10" fill="#e0e4e6"/>
<rect x="197.85" y="51.00" width="5.97" height="2.10" fill="#ecebea"/>
<rect x="197.85" y="52.80" width="5.97" height="2.10" fill="#e9e9e9"/>
<rect x="197.85" y="54.60" width="5.97" height="2.10" fill="#f2e0df"/>
<rect x="197.85" y="56.40" width="5.97" height="2.10" fill="#eceaea"/>
<rect x="197.85" y="58.20" width="5.97" height="2.10" fill="#cdd9e0"/>
<rect x="197.85" y="60.00" width="5.97" height="2.10" fill="#b9ceda"/>
<rect x="197.85" y="61.80" width="5.97" height="2.10" fill="#cad7df"/>
<rect x="197.85" y="63.60" width="5.97" height="2.10" fill="#c5d4de"/>
<rect x="197.85" y="65.40" width="5.97" height="2.10" fill="#f2dedd"/>
<rect x="197.85" y="67.20" width="5.97" height="2.10" fill="#e0e4e6"/>
<rect x="197.85" y="69.00" width="5.97" height="2.10" fill="#cedae1"/>
<rect x="197.85" y="70.80" width="5.97" height="2.10" fill="#f2e5e4"/>
<rect x="197.85" y="72.60" width="5.97" height="2.10" fill="#f2e3e2"/>
<rect x="197.85" y="74.40" width="5.97" height="2.10" fill="#d1dbe2"/>
<rect x="197.85" y="76.20" width="5.97" height="2.10" fill="#f2eae8"/>
<rect x="197.85" y="78.00" width="5.97" height="2.10" fill="#edebeb"/>
<rect x="197.85" y="79.80" width="5.97" height="2.10" fill="#cfdae1"/>
<rect x="197.85" y="81.60" width="5.97" height="2.10" fill="#b1c9d8"/>
<rect x="197.85" y="83.40" width="5.97" height="2.10" fill="#b1c9d8"/>
<rect x="197.85" y="85.20" width="5.97" height="2.10" fill="#aec7d7"/>
<rect x="197.85" y="87.00" width="5.97" height="2.10" fill="#b5cbd9"/>
<rect x="197.85" y="88.80" width="5.97" height="2.10" fill="#a7c2d5"/>
<rect x="197.85" y="90.60" width="5.97" height="2.10" fill="#d1dbe2"/>
<rect x="197.85" y="92.40" width="5.97" height="2.10" fill="#bed0dc"/>
<rect x="197.85" y="94.20" width="5.97" height="2.10" fill="#bccfdb"/>
<rect x="197.85" y="96.00" width="5.97" height="2.10" fill="#b0c8d7"/>
<rect x="197.85" y="97.80" width="5.97" height="2.10" fill="#c4d4de"/>
<rect x="197.85" y="99.60" width="5.97" height="2.10" fill="#c9d6df"/>
<rect x="197.85" y="101.40" width="5.97" height="2.10" fill="#a3c0d5"/>
<rect x="197.85" y="103.20" width="5.97" height="2.10" fill="#c0d2dc"/>
<rect x="197.85" y="105.00" width="5.97" height="2.10" fill="#baceda"/>
<rect x="197.85" y="106.80" width="5.97" height="2.10" fill="#dce2e5"/>
<rect x="197.85" y="108.60" width="5.97" height="2.10" fill="#b6ccd9"/>
<rect x="197.85" y="110.40" width="5.97" height="2.10" fill="#b7ccd9"/>
<rect x="197.85" y="112.20" width="5.97" height="2.10" fill="#c6d5de"/>
<rect x="197.85" y="114.00" width="5.97" height="2.10" fill="#abc5d6"/>
<rect x="197.85" y="115.80" width="5.97" height="2.10" fill="#c8d6df"/>
<rect x="197.85" y="117.60" width="5.97" height="2.10" fill="#afc8d7"/>
<rect x="197.85" y="119.40" width="5.97" height="2.10" fill="#bfd1dc"/>
<rect x="197.85" y="121.20" width="5.97" height="2.10" fill="#c7d5de"/>
<rect x="197.85" y="123.00" width="5.97" height="2.10" fill="#a9c4d5"/>
<rect x="203.52" y="24.00" width="5.97" height="2.10" fill="#f2caca"/>
<rect x="203.52" y="25.80" width="5.97" height="2.10" fill="#f2cfce"/>
<rect x="203.52" y="27.60" width="5.97" height="2.10" fill="#dbe1e5"/>
<rect x="203.52" y="29.40" width="5.97" height="2.10" fill="#dfe3e6"/>
<rect x="203.52" y="31.20" width="5.97" height="2.10" fill="#f2e0de"/>
<rect x="203.52" y="33.00" width="5.97" height="2.10" fill="#f1b7b7"/>
<rect x="203.52" y="34.80" width="5.97" height="2.10" fill="#f2bcbc"/>
<rect x="203.52" y="36.60" width="5.97" height="2.10" fill="#f2dedc"/>
<rect x="203.52" y="38.40" width="5.97" height="2.10" fill="#f2d2d1"/>
<rect x="203.52" y="40.20" width="5.97" height="2.10" fill="#f2d3d2"/>
<rect x="203.52" y="42.00" width="5.97" height="2.10" fill="#f2dad9"/>
<rect x="203.52" y="43.80" width="5.97" height="2.10" fill="#f2ebe9"/>
<rect x="203.52" y="45.60" width="5.97" height="2.10" fill="#d6dee3"/>
<rect x="203.52" y="47.40" width="5.97" height="2.10" fill="#c9d7df"/>
<rect x="203.52" y="49.20" width="5.97" height="2.10" fill="#e7e8e8"/>
<rect x="203.52" y="51.00" width="5.97" height="2.10" fill="#d3dce2"/>
<rect x="203.52" y="52.80" width="5.97" height="2.10" fill="#f2e6e4"/>
<rect x="203.52" y="54.60" width="5.97" height="2.10" fill="#f2e1e0"/>
<rect x="203.52" y="56.40" width="5.97" height="2.10" fill="#f2e8e6"/>
<rect x="203.52" y="58.20" width="5.97" height="2.10" fill="#cad7df"/>
<rect x="203.52" y="60.00" width="5.97" height="2.10" fill="#abc6d6"/>
<rect x="203.52" y="61.80" width="5.97" height="2.10" fill="#c2d3dd"/>
<rect x="203.52" y="63.60" width="5.97" height="2.10" fill="#dde2e5"/>
<rect x="203.52" y="65.40" width="5.97" height="2.10" fill="#f2ecea"/>
<rect x="203.52" y="67.20" width="5.97" height="2.10" fill="#e1e4e7"/>
<rect x="203.52" y="69.00" width="5.97" height="2.10" fill="#d2dce2"/>
<rect x="203.52" y="70.80" width="5.97" height="2.10" fill="#e6e7e8"/>
<rect x="203.52" y="72.60" width="5.97" height="2.10" fill="#f2e0df"/>
<rect x="203.52" y="74.40" width="5.97" height="2.10" fill="#dae0e4"/>
<rect x="203.52" y="76.20" width="5.97" height="2.10" fill="#eae9e9"/>
<rect x="203.52" y="78.00" width="5.97" height="2.10" fill="#f2e8e6"/>
<rect x="203.52" y="79.80" width="5.97" height="2.10" fill="#b2c9d8"/>
<rect x="203.52" y="81.60" width="5.97" height="2.10" fill="#aac4d6"/>
<rect x="203.52" y="83.40" width="5.97" height="2.10" fill="#aec7d7"/>
<rect x="203.52" y="85.20" width="5.97" height="2.10" fill="#b2c9d8"/>
<rect x="203.52" y="87.00" width="5.97" height="2.10" fill="#b4cad8"/>
<rect x="203.52" y="88.80" width="5.97" height="2.10" fill="#a4c0d5"/>
<rect x="203.52" y="90.60" width="5.97" height="2.10" fill="#bfd1dc"/>
<rect x="203.52" y="92.40" width="5.97" height="2.10" fill="#b7ccd9"/>
<rect x="203.52" y="94.20" width="5.97" height="2.10" fill="#ccd8e0"/>
<rect x="203.52" y="96.00" width="5.97" height="2.10" fill="#a2bfd4"/>
<rect x="203.52" y="97.80" width="5.97" height="2.10" fill="#b5cbd9"/>
<rect x="203.52" y="99.60" width="5.97" height="2.10" fill="#c1d2dd"/>
<rect x="203.52" y="101.40" width="5.97" height="2.10" fill="#a8c3d5"/>
<rect x="203.52" y="103.20" width="5.97" height="2.10" fill="#cfdae1"/>
<rect x="203.52" y="105.00" width="5.97" height="2.10" fill="#bfd1dc"/>
<rect x="203.52" y="106.80" width="5.97" height="2.10" fill="#aac5d6"/>
<rect x="203.52" y="108.60" width="5.97" height="2.10" fill="#c2d3dd"/>
<rect x="203.52" y="110.40" width="5.97" height="2.10" fill="#b8cdda"/>
<rect x="203.52" y="112.20" width="5.97" height="2.10" fill="#c3d3dd"/>
<rect x="203.52" y="114.00" width="5.97" height="2.10" fill="#cad7df"/>
<rect x="203.52" y="115.80" width="5.97" height="2.10" fill="#cad7df"/>
<rect x="203.52" y="117.60" width="5.97" height="2.10" fill="#bfd1dc"/>
<rect x="203.52" y="119.40" width="5.97" height="2.10" fill="#b3cad8"/>
<rect x="203.52" y="121.20" width="5.97" height="2.10" fill="#b4cbd9"/>
<rect x="203.52" y="123.00" width="5.97" height="2.10" fill="#acc6d6"/>
<rect x="209.20" y="24.00" width="6.00" height="2.10" fill="#ccd8e0"/>
<rect x="209.20" y="25.80" width="6.00" height="2.10" fill="#baceda"/>
<rect x="209.20" y="27.60" width="6.00" height="2.10" fill="#a4c1d5"/>
<rect x="209.20" y="29.40" width="6.00" height="2.10" fill="#b3cad8"/>
<rect x="209.20" y="31.20" width="6.00" height="2.10" fill="#a4c1d5"/>
<rect x="209.20" y="33.00" width="6.00" height="2.10" fill="#aec7d7"/>
<rect x="209.20" y="34.80" width="6.00" height="2.10" fill="#d5dee3"/>
<rect x="209.20" y="36.60" width="6.00" height="2.10" fill="#bbcfdb"/>
<rect x="209.20" y="38.40" width="6.00" height="2.10" fill="#a7c3d5"/>
<rect x="209.20" y="40.20" width="6.00" height="2.10" fill="#b6ccd9"/>
<rect x="209.20" y="42.00" width="6.00" height="2.10" fill="#a8c3d5"/>
<rect x="209.20" y="43.80" width="6.00" height="2.10" fill="#a8c3d5"/>
<rect x="209.20" y="45.60" width="6.00" height="2.10" fill="#bed0dc"/>
<rect x="209.20" y="47.40" width="6.00" height="2.10" fill="#c1d2dd"/>
<rect x="209.20" y="49.20" width="6.00" height="2.10" fill="#a9c4d6"/>
<rect x="209.20" y="51.00" width="6.00" height="2.10" fill="#a7c3d5"/>
<rect x="209.20" y="52.80" width="6.00" height="2.10" fill="#93b5d2"/>
<rect x="209.20" y="54.60" width="6.00" height="2.10" fill="#baceda"/>
<rect x="209.20" y="56.40" width="6.00" height="2.10" fill="#d1dbe2"/>
<rect x="209.20" y="58.20" width="6.00" height="2.10" fill="#d2dce2"/>
<rect x="209.20" y="60.00" width="6.00" height="2.10" fill="#abc5d6"/>
<rect x="209.20" y="61.80" width="6.00" height="2.10" fill="#bfd1dc"/>
<rect x="209.20" y="63.60" width="6.00" height="2.10" fill="#d7dfe4"/>
<rect x="209.20" y="65.40" width="6.00" height="2.10" fill="#d0dbe1"/>
<rect x="209.20" y="67.20" width="6.00" height="2.10" fill="#e9e9e9"/>
<rect x="209.20" y="69.00" width="6.00" height="2.10" fill="#bccfdb"/>
<rect x="209.20" y="70.80" width="6.00" height="2.10" fill="#baceda"/>
<rect x="209.20" y="72.60" width="6.00" height="2.10" fill="#a5c2d5"/>
<rect x="209.20" y="74.40" width="6.00" height="2.10" fill="#cbd8e0"/>
<rect x="209.20" y="76.20" width="6.00" height="2.10" fill="#c9d7df"/>
<rect x="209.20" y="78.00" width="6.00" height="2.10" fill="#b5cbd9"/>
<rect x="209.20" y="79.80" width="6.00" height="2.10" fill="#a8c3d5"/>
<rect x="209.20" y="81.60" width="6.00" height="2.10" fill="#aec7d7"/>
<rect x="209.20" y="83.40" width="6.00" height="2.10" fill="#c5d5de"/>
<rect x="209.20" y="85.20" width="6.00" height="2.10" fill="#c1d2dd"/>
<rect x="209.20" y="87.00" width="6.00" height="2.10" fill="#b0c8d7"/>
<rect x="209.20" y="88.80" width="6.00" height="2.10" fill="#adc6d6"/>
<rect x="209.20" y="90.60" width="6.00" height="2.10" fill="#acc6d6"/>
<rect x="209.20" y="92.40" width="6.00" height="2.10" fill="#aac4d6"/>
<rect x="209.20" y="94.20" width="6.00" height="2.10" fill="#afc7d7"/>
<rect x="209.20" y="96.00" width="6.00" height="2.10" fill="#bfd1dc"/>
<rect x="209.20" y="97.80" width="6.00" height="2.10" fill="#d6dee3"/>
<rect x="209.20" y="99.60" width="6.00" height="2.10" fill="#e0e4e6"/>
<rect x="209.20" y="101.40" width="6.00" height="2.10" fill="#a8c3d5"/>
<rect x="209.20" y="103.20" width="6.00" height="2.10" fill="#c2d3dd"/>
<rect x="209.20" y="105.00" width="6.00" height="2.10" fill="#b7ccd9"/>
<rect x="209.20" y="106.80" width="6.00" height="2.10" fill="#aac5d6"/>
<rect x="209.20" y="108.60" width="6.00" height="2.10" fill="#dee3e6"/>
<rect x="209.20" y="110.40" width="6.00" height="2.10" fill="#a9c4d5"/>
<rect x="209.20" y="112.20" width="6.00" height="2.10" fill="#bed0dc"/>
<rect x="209.20" y="114.00" width="6.00" height="2.10" fill="#aec7d7"/>
<rect x="209.20" y="115.80" width="6.00" height="2.10" fill="#bbcedb"/>
<rect x="209.20" y="117.60" width="6.00" height="2.10" fill="#c3d3dd"/>
<rect x="209.20" y="119.40" width="6.00" height="2.10" fill="#c0d1dc"/>
<rect x="209.20" y="121.20" width="6.00" height="2.10" fill="#b0c8d7"/>
<rect x="209.20" y="123.00" width="6.00" height="2.10" fill="#c8d6df"/>
<rect x="214.90" y="24.00" width="6.00" height="2.10" fill="#c3d3dd"/>
<rect x="214.90" y="25.80" width="6.00" height="2.10" fill="#c1d2dd"/>
<rect x="214.90" y="27.60" width="6.00" height="2.10" fill="#98b8d3"/>
<rect x="214.90" y="29.40" width="6.00" height="2.10" fill="#bccfdb"/>
<rect x="214.90" y="31.20" width="6.00" height="2.10" fill="#adc7d6"/>
<rect x="214.90" y="33.00" width="6.00" height="2.10" fill="#b0c8d7"/>
<rect x="214.90" y="34.80" width="6.00" height="2.10" fill="#d7dfe4"/>
<rect x="214.90" y="36.60" width="6.00" height="2.10" fill="#c2d3dd"/>
<rect x="214.90" y="38.40" width="6.00" height="2.10" fill="#b7ccd9"/>
<rect x="214.90" y="40.20" width="6.00" height="2.10" fill="#a9c4d5"/>
<rect x="214.90" y="42.00" width="6.00" height="2.10" fill="#b5cbd9"/>
<rect x="214.90" y="43.80" width="6.00" height="2.10" fill="#a4c1d5"/>
<rect x="214.90" y="45.60" width="6.00" height="2.10" fill="#c2d3dd"/>
<rect x="214.90" y="47.40" width="6.00" height="2.10" fill="#cdd9e1"/>
<rect x="214.90" y="49.20" width="6.00" height="2.10" fill="#b8cdda"/>
<rect x="214.90" y="51.00" width="6.00" height="2.10" fill="#b1c9d8"/>
<rect x="214.90" y="52.80" width="6.00" height="2.10" fill="#b2c9d8"/>
<rect x="214.90" y="54.60" width="6.00" height="2.10" fill="#c2d3dd"/>
<rect x="214.90" y="56.40" width="6.00" height="2.10" fill="#b7ccd9"/>
<rect x="214.90" y="58.20" width="6.00" height="2.10" fill="#cedae1"/>
<rect x="214.90" y="60.00" width="6.00" height="2.10" fill="#d2dce2"/>
<rect x="214.90" y="61.80" width="6.00" height="2.10" fill="#c5d4de"/>
<rect x="214.90" y="63.60" width="6.00" height="2.10" fill="#d4dde2"/>
<rect x="214.90" y="65.40" width="6.00" height="2.10" fill="#baceda"/>
<rect x="214.90" y="67.20" width="6.00" height="2.10" fill="#c9d7df"/>
<rect x="214.90" y="69.00" width="6.00" height="2.10" fill="#b3cad8"/>
<rect x="214.90" y="70.80" width="6.00" height="2.10" fill="#bccfdb"/>
<rect x="214.90" y="72.60" width="6.00" height="2.10" fill="#b1c9d7"/>
<rect x="214.90" y="74.40" width="6.00" height="2.10" fill="#cdd9e0"/>
<rect x="214.90" y="76.20" width="6.00" height="2.10" fill="#b5cbd9"/>
<rect x="214.90" y="78.00" width="6.00" height="2.10" fill="#cad7df"/>
<rect x="214.90" y="79.80" width="6.00" height="2.10" fill="#adc7d6"/>
<rect x="214.90" y="81.60" width="6.00" height="2.10" fill="#bdd0db"/>
<rect x="214.90" y="83.40" width="6.00" height="2.10" fill="#d0dae1"/>
<rect x="214.90" y="85.20" width="6.00" height="2.10" fill="#adc6d6"/>
<rect x="214.90" y="87.00" width="6.00" height="2.10" fill="#a4c1d5"/>
<rect x="214.90" y="88.80" width="6.00" height="2.10" fill="#abc6d6"/>
<rect x="214.90" y="90.60" width="6.00" height="2.10" fill="#c0d1dc"/>
<rect x="214.90" y="92.40" width="6.00" height="2.10" fill="#a8c3d5"/>
<rect x="214.90" y="94.20" width="6.00" height="2.10" fill="#adc7d6"/>
<rect x="214.90" y="96.00" width="6.00" height="2.10" fill="#b1c9d8"/>
<rect x="214.90" y="97.80" width="6.00" height="2.10" fill="#e6e7e8"/>
<rect x="214.90" y="99.60" width="6.00" height="2.10" fill="#e2e5e7"/>
<rect x="214.90" y="101.40" width="6.00" height="2.10" fill="#a8c3d5"/>
<rect x="214.90" y="103.20" width="6.00" height="2.10" fill="#b0c8d7"/>
<rect x="214.90" y="105.00" width="6.00" height="2.10" fill="#bacedb"/>
<rect x="214.90" y="106.80" width="6.00" height="2.10" fill="#b4cad8"/>
<rect x="214.90" y="108.60" width="6.00" height="2.10" fill="#b7ccd9"/>
<rect x="214.90" y="110.40" width="6.00" height="2.10" fill="#bed0dc"/>
<rect x="214.90" y="112.20" width="6.00" height="2.10" fill="#aec7d7"/>
<rect x="214.90" y="114.00" width="6.00" height="2.10" fill="#bbcedb"/>
<rect x="214.90" y="115.80" width="6.00" height="2.10" fill="#aac5d6"/>
<rect x="214.90" y="117.60" width="6.00" height="2.10" fill="#d7dee3"/>
<rect x="214.90" y="119.40" width="6.00" height="2.10" fill="#b4cbd9"/>
<rect x="214.90" y="121.20" width="6.00" height="2.10" fill="#b1c9d8"/>
<rect x="214.90" y="123.00" width="6.00" height="2.10" fill="#a2bfd4"/>
<rect x="220.60" y="24.00" width="6.00" height="2.10" fill="#ced9e1"/>
<rect x="220.60" y="25.80" width="6.00" height="2.10" fill="#b5cbd9"/>
<rect x="220.60" y="27.60" width="6.00" height="2.10" fill="#a6c2d5"/>
<rect x="220.60" y="29.40" width="6.00" height="2.10" fill="#c6d5de"/>
<rect x="220.60" y="31.20" width="6.00" height="2.10" fill="#baceda"/>
<rect x="220.60" y="33.00" width="6.00" height="2.10" fill="#b2cad8"/>
<rect x="220.60" y="34.80" width="6.00" height="2.10" fill="#e4e6e8"/>
<rect x="220.60" y="36.60" width="6.00" height="2.10" fill="#c2d3dd"/>
<rect x="220.60" y="38.40" width="6.00" height="2.10" fill="#a4c0d5"/>
<rect x="220.60" y="40.20" width="6.00" height="2.10" fill="#bfd1dc"/>
<rect x="220.60" y="42.00" width="6.00" height="2.10" fill="#c1d2dd"/>
<rect x="220.60" y="43.80" width="6.00" height="2.10" fill="#c0d1dc"/>
<rect x="220.60" y="45.60" width="6.00" height="2.10" fill="#d4dde3"/>
<rect x="220.60" y="47.40" width="6.00" height="2.10" fill="#c4d4de"/>
<rect x="220.60" y="49.20" width="6.00" height="2.10" fill="#dce1e5"/>
<rect x="220.60" y="51.00" width="6.00" height="2.10" fill="#cfdae1"/>
<rect x="220.60" y="52.80" width="6.00" height="2.10" fill="#b7ccda"/>
<rect x="220.60" y="54.60" width="6.00" height="2.10" fill="#dbe1e5"/>
<rect x="220.60" y="56.40" width="6.00" height="2.10" fill="#dee2e6"/>
<rect x="220.60" y="58.20" width="6.00" height="2.10" fill="#e2e5e7"/>
<rect x="220.60" y="60.00" width="6.00" height="2.10" fill="#cad7e0"/>
<rect x="220.60" y="61.80" width="6.00" height="2.10" fill="#e2e5e7"/>
<rect x="220.60" y="63.60" width="6.00" height="2.10" fill="#e6e7e8"/>
<rect x="220.60" y="65.40" width="6.00" height="2.10" fill="#b8cdda"/>
<rect x="220.60" y="67.20" width="6.00" height="2.10" fill="#dfe3e6"/>
<rect x="220.60" y="69.00" width="6.00" height="2.10" fill="#ccd8e0"/>
<rect x="220.60" y="70.80" width="6.00" height="2.10" fill="#c8d6df"/>
<rect x="220.60" y="72.60" width="6.00" height="2.10" fill="#c0d2dc"/>
<rect x="220.60" y="74.40" width="6.00" height="2.10" fill="#e5e7e8"/>
<rect x="220.60" y="76.20" width="6.00" height="2.10" fill="#dde2e5"/>
<rect x="220.60" y="78.00" width="6.00" height="2.10" fill="#dde2e5"/>
<rect x="220.60" y="79.80" width="6.00" height="2.10" fill="#aec7d7"/>
<rect x="220.60" y="81.60" width="6.00" height="2.10" fill="#bccfdb"/>
<rect x="220.60" y="83.40" width="6.00" height="2.10" fill="#d4dde2"/>
<rect x="220.60" y="85.20" width="6.00" height="2.10" fill="#c8d6df"/>
<rect x="220.60" y="87.00" width="6.00" height="2.10" fill="#bfd1dc"/>
<rect x="220.60" y="88.80" width="6.00" height="2.10" fill="#c7d5de"/>
<rect x="220.60" y="90.60" width="6.00" height="2.10" fill="#b7cdda"/>
<rect x="220.60" y="92.40" width="6.00" height="2.10" fill="#d4dde3"/>
<rect x="220.60" y="94.20" width="6.00" height="2.10" fill="#c3d3dd"/>
<rect x="220.60" y="96.00" width="6.00" height="2.10" fill="#bccfdb"/>
<rect x="220.60" y="97.80" width="6.00" height="2.10" fill="#eeebeb"/>
<rect x="220.60" y="99.60" width="6.00" height="2.10" fill="#f2eae9"/>
<rect x="220.60" y="101.40" width="6.00" height="2.10" fill="#c1d2dd"/>
<rect x="220.60" y="103.20" width="6.00" height="2.10" fill="#c7d6df"/>
<rect x="220.60" y="105.00" width="6.00" height="2.10" fill="#afc8d7"/>
<rect x="220.60" y="106.80" width="6.00" height="2.10" fill="#bed0dc"/>
<rect x="220.60" y="108.60" width="6.00" height="2.10" fill="#cfdae1"/>
<rect x="220.60" y="110.40" width="6.00" height="2.10" fill="#c4d4dd"/>
<rect x="220.60" y="112.20" width="6.00" height="2.10" fill="#dce1e5"/>
<rect x="220.60" y="114.00" width="6.00" height="2.10" fill="#cad7e0"/>
<rect x="220.60" y="115.80" width="6.00" height="2.10" fill="#cad7df"/>
<rect x="220.60" y="117.60" width="6.00" height="2.10" fill="#d0dae1"/>
<rect x="220.60" y="119.40" width="6.00" height="2.10" fill="#c6d5de"/>
<rect x="220.60" y="121.20" width="6.00" height="2.10" fill="#b2cad8"/>
<rect x="220.60" y="123.00" width="6.00" height="2.10" fill="#bccfdb"/>
<rect x="226.30" y="24.00" width="6.00" height="2.10" fill="#d8dfe4"/>
<rect x="226.30" y="25.80" width="6.00" height="2.10" fill="#cad7df"/>
<rect x="226.30" y="27.60" width="6.00" height="2.10" fill="#bed0dc"/>
<rect x="226.30" y="29.40" width="6.00" height="2.10" fill="#cedae1"/>
<rect x="226.30" y="31.20" width="6.00" height="2.10" fill="#c2d3dd"/>
<rect x="226.30" y="33.00" width="6.00" height="2.10" fill="#d1dbe2"/>
<rect x="226.30" y="34.80" width="6.00" height="2.10" fill="#e9e9e9"/>
<rect x="226.30" y="36.60" width="6.00" height="2.10" fill="#c1d2dc"/>
<rect x="226.30" y="38.40" width="6.00" height="2.10" fill="#d0dbe1"/>
<rect x="226.30" y="40.20" width="6.00" height="2.10" fill="#d3dde2"/>
<rect x="226.30" y="42.00" width="6.00" height="2.10" fill="#c4d3dd"/>
<rect x="226.30" y="43.80" width="6.00" height="2.10" fill="#cfdae1"/>
<rect x="226.30" y="45.60" width="6.00" height="2.10" fill="#dde2e5"/>
<rect x="226.30" y="47.40" width="6.00" height="2.10" fill="#cdd9e0"/>
<rect x="226.30" y="49.20" width="6.00" height="2.10" fill="#b5cbd9"/>
<rect x="226.30" y="51.00" width="6.00" height="2.10" fill="#b7ccda"/>
<rect x="226.30" y="52.80" width="6.00" height="2.10" fill="#bdd0db"/>
<rect x="226.30" y="54.60" width="6.00" height="2.10" fill="#e7e8e9"/>
<rect x="226.30" y="56.40" width="6.00" height="2.10" fill="#e9e9e9"/>
<rect x="226.30" y="58.20" width="6.00" height="2.10" fill="#f2e8e6"/>
<rect x="226.30" y="60.00" width="6.00" height="2.10" fill="#f0edeb"/>
<rect x="226.30" y="61.80" width="6.00" height="2.10" fill="#e2e5e7"/>
<rect x="226.30" y="63.60" width="6.00" height="2.10" fill="#f2eae8"/>
<rect x="226.30" y="65.40" width="6.00" height="2.10" fill="#c7d6df"/>
<rect x="226.30" y="67.20" width="6.00" height="2.10" fill="#f2e7e5"/>
<rect x="226.30" y="69.00" width="6.00" height="2.10" fill="#d6dee3"/>
<rect x="226.30" y="70.80" width="6.00" height="2.10" fill="#d0dbe1"/>
<rect x="226.30" y="72.60" width="6.00" height="2.10" fill="#c3d3dd"/>
<rect x="226.30" y="74.40" width="6.00" height="2.10" fill="#dde2e5"/>
<rect x="226.30" y="76.20" width="6.00" height="2.10" fill="#e8e8e9"/>
<rect x="226.30" y="78.00" width="6.00" height="2.10" fill="#e4e6e8"/>
<rect x="226.30" y="79.80" width="6.00" height="2.10" fill="#bbcfdb"/>
<rect x="226.30" y="81.60" width="6.00" height="2.10" fill="#d1dbe2"/>
<rect x="226.30" y="83.40" width="6.00" height="2.10" fill="#d4dde3"/>
<rect x="226.30" y="85.20" width="6.00" height="2.10" fill="#ced9e1"/>
<rect x="226.30" y="87.00" width="6.00" height="2.10" fill="#b7ccd9"/>
<rect x="226.30" y="88.80" width="6.00" height="2.10" fill="#c6d5de"/>
<rect x="226.30" y="90.60" width="6.00" height="2.10" fill="#c5d4de"/>
<rect x="226.30" y="92.40" width="6.00" height="2.10" fill="#d6dee3"/>
<rect x="226.30" y="94.20" width="6.00" height="2.10" fill="#c3d3dd"/>
<rect x="226.30" y="96.00" width="6.00" height="2.10" fill="#c6d5de"/>
<rect x="226.30" y="97.80" width="6.00" height="2.10" fill="#f2ebe9"/>
<rect x="226.30" y="99.60" width="6.00" height="2.10" fill="#f2ebe9"/>
<rect x="226.30" y="101.40" width="6.00" height="2.10" fill="#d5dde3"/>
<rect x="226.30" y="103.20" width="6.00" height="2.10" fill="#d4dde2"/>
<rect x="226.30" y="105.00" width="6.00" height="2.10" fill="#dce2e5"/>
<rect x="226.30" y="106.80" width="6.00" height="2.10" fill="#d9e0e4"/>
<rect x="226.30" y="108.60" width="6.00" height="2.10" fill="#e5e7e8"/>
<rect x="226.30" y="110.40" width="6.00" height="2.10" fill="#bdd0db"/>
<rect x="226.30" y="112.20" width="6.00" height="2.10" fill="#d1dbe2"/>
<rect x="226.30" y="114.00" width="6.00" height="2.10" fill="#c3d3dd"/>
<rect x="226.30" y="115.80" width="6.00" height="2.10" fill="#dee2e6"/>
<rect x="226.30" y="117.60" width="6.00" height="2.10" fill="#edebea"/>
<rect x="226.30" y="119.40" width="6.00" height="2.10" fill="#e4e6e8"/>
<rect x="226.30" y="121.20" width="6.00" height="2.10" fill="#a6c2d5"/>
<rect x="226.30" y="123.00" width="6.00" height="2.10" fill="#d3dce2"/>
<rect x="232.00" y="24.00" width="6.10" height="2.10" fill="#c3d3dd"/>
<rect x="232.00" y="25.80" width="6.10" height="2.10" fill="#a4c0d5"/>
<rect x="232.00" y="27.60" width="6.10" height="2.10" fill="#bccfdb"/>
<rect x="232.00" y="29.40" width="6.10" height="2.10" fill="#c6d5de"/>
<rect x="232.00" y="31.20" width="6.10" height="2.10" fill="#baceda"/>
<rect x="232.00" y="33.00" width="6.10" height="2.10" fill="#a9c4d6"/>
<rect x="232.00" y="34.80" width="6.10" height="2.10" fill="#baceda"/>
<rect x="232.00" y="36.60" width="6.10" height="2.10" fill="#bdd0db"/>
<rect x="232.00" y="38.40" width="6.10" height="2.10" fill="#edebeb"/>
<rect x="232.00" y="40.20" width="6.10" height="2.10" fill="#abc5d6"/>
<rect x="232.00" y="42.00" width="6.10" height="2.10" fill="#bdd0db"/>
<rect x="232.00" y="43.80" width="6.10" height="2.10" fill="#b9cdda"/>
<rect x="232.00" y="45.60" width="6.10" height="2.10" fill="#a7c3d5"/>
<rect x="232.00" y="47.40" width="6.10" height="2.10" fill="#bdd0db"/>
<rect x="232.00" y="49.20" width="6.10" height="2.10" fill="#bed0dc"/>
<rect x="232.00" y="51.00" width="6.10" height="2.10" fill="#d3dce2"/>
<rect x="232.00" y="52.80" width="6.10" height="2.10" fill="#afc8d7"/>
<rect x="232.00" y="54.60" width="6.10" height="2.10" fill="#c0d1dc"/>
<rect x="232.00" y="56.40" width="6.10" height="2.10" fill="#b5cbd9"/>
<rect x="232.00" y="58.20" width="6.10" height="2.10" fill="#d3dce2"/>
<rect x="232.00" y="60.00" width="6.10" height="2.10" fill="#c8d6df"/>
<rect x="232.00" y="61.80" width="6.10" height="2.10" fill="#d1dbe2"/>
<rect x="232.00" y="63.60" width="6.10" height="2.10" fill="#b8cdda"/>
<rect x="232.00" y="65.40" width="6.10" height="2.10" fill="#abc5d6"/>
<rect x="232.00" y="67.20" width="6.10" height="2.10" fill="#b8cdda"/>
<rect x="232.00" y="69.00" width="6.10" height="2.10" fill="#bdd0db"/>
<rect x="232.00" y="70.80" width="6.10" height="2.10" fill="#d2dbe2"/>
<rect x="232.00" y="72.60" width="6.10" height="2.10" fill="#dbe1e5"/>
<rect x="232.00" y="74.40" width="6.10" height="2.10" fill="#ebeaea"/>
<rect x="232.00" y="76.20" width="6.10" height="2.10" fill="#efeceb"/>
<rect x="232.00" y="78.00" width="6.10" height="2.10" fill="#f2ecea"/>
<rect x="232.00" y="79.80" width="6.10" height="2.10" fill="#e3e5e7"/>
<rect x="232.00" y="81.60" width="6.10" height="2.10" fill="#dce1e5"/>
<rect x="232.00" y="83.40" width="6.10" height="2.10" fill="#cdd9e0"/>
<rect x="232.00" y="85.20" width="6.10" height="2.10" fill="#f2dedd"/>
<rect x="232.00" y="87.00" width="6.10" height="2.10" fill="#f2eeec"/>
<rect x="232.00" y="88.80" width="6.10" height="2.10" fill="#f2e4e3"/>
<rect x="232.00" y="90.60" width="6.10" height="2.10" fill="#f2eeec"/>
<rect x="232.00" y="92.40" width="6.10" height="2.10" fill="#f2dddc"/>
<rect x="232.00" y="94.20" width="6.10" height="2.10" fill="#e3555f"/>
<rect x="232.00" y="96.00" width="6.10" height="2.10" fill="#e3515b"/>
<rect x="232.00" y="97.80" width="6.10" height="2.10" fill="#ee9da1"/>
<rect x="232.00" y="99.60" width="6.10" height="2.10" fill="#ec8e93"/>
<rect x="232.00" y="101.40" width="6.10" height="2.10" fill="#ec9296"/>
<rect x="232.00" y="103.20" width="6.10" height="2.10" fill="#ea7b82"/>
<rect x="232.00" y="105.00" width="6.10" height="2.10" fill="#e0414e"/>
<rect x="232.00" y="106.80" width="6.10" height="2.10" fill="#f2c3c2"/>
<rect x="232.00" y="108.60" width="6.10" height="2.10" fill="#e87178"/>
<rect x="232.00" y="110.40" width="6.10" height="2.10" fill="#eea1a4"/>
<rect x="232.00" y="112.20" width="6.10" height="2.10" fill="#e9737a"/>
<rect x="232.00" y="114.00" width="6.10" height="2.10" fill="#e6656e"/>
<rect x="232.00" y="115.80" width="6.10" height="2.10" fill="#eb868c"/>
<rect x="232.00" y="117.60" width="6.10" height="2.10" fill="#e14b56"/>
<rect x="232.00" y="119.40" width="6.10" height="2.10" fill="#ea7c83"/>
<rect x="232.00" y="121.20" width="6.10" height="2.10" fill="#e86c74"/>
<rect x="232.00" y="123.00" width="6.10" height="2.10" fill="#e76a73"/>
<rect x="237.80" y="24.00" width="6.10" height="2.10" fill="#b1c9d8"/>
<rect x="237.80" y="25.80" width="6.10" height="2.10" fill="#9dbcd4"/>
<rect x="237.80" y="27.60" width="6.10" height="2.10" fill="#c0d1dc"/>
<rect x="237.80" y="29.40" width="6.10" height="2.10" fill="#aec7d7"/>
<rect x="237.80" y="31.20" width="6.10" height="2.10" fill="#c3d3dd"/>
<rect x="237.80" y="33.00" width="6.10" height="2.10" fill="#a3c0d4"/>
<rect x="237.80" y="34.80" width="6.10" height="2.10" fill="#9dbcd4"/>
<rect x="237.80" y="36.60" width="6.10" height="2.10" fill="#a1bfd4"/>
<rect x="237.80" y="38.40" width="6.10" height="2.10" fill="#cfdae1"/>
<rect x="237.80" y="40.20" width="6.10" height="2.10" fill="#a2bfd4"/>
<rect x="237.80" y="42.00" width="6.10" height="2.10" fill="#a6c2d5"/>
<rect x="237.80" y="43.80" width="6.10" height="2.10" fill="#acc6d6"/>
<rect x="237.80" y="45.60" width="6.10" height="2.10" fill="#a6c2d5"/>
<rect x="237.80" y="47.40" width="6.10" height="2.10" fill="#a4c1d5"/>
<rect x="237.80" y="49.20" width="6.10" height="2.10" fill="#a5c1d5"/>
<rect x="237.80" y="51.00" width="6.10" height="2.10" fill="#c4d3dd"/>
<rect x="237.80" y="52.80" width="6.10" height="2.10" fill="#aec7d7"/>
<rect x="237.80" y="54.60" width="6.10" height="2.10" fill="#c0d2dc"/>
<rect x="237.80" y="56.40" width="6.10" height="2.10" fill="#9bbbd3"/>
<rect x="237.80" y="58.20" width="6.10" height="2.10" fill="#b6ccd9"/>
<rect x="237.80" y="60.00" width="6.10" height="2.10" fill="#a5c1d5"/>
<rect x="237.80" y="61.80" width="6.10" height="2.10" fill="#b4cbd9"/>
<rect x="237.80" y="63.60" width="6.10" height="2.10" fill="#a4c1d5"/>
<rect x="237.80" y="65.40" width="6.10" height="2.10" fill="#9fbdd4"/>
<rect x="237.80" y="67.20" width="6.10" height="2.10" fill="#bbcedb"/>
<rect x="237.80" y="69.00" width="6.10" height="2.10" fill="#a5c2d5"/>
<rect x="237.80" y="70.80" width="6.10" height="2.10" fill="#a8c3d5"/>
<rect x="237.80" y="72.60" width="6.10" height="2.10" fill="#ccd8e0"/>
<rect x="237.80" y="74.40" width="6.10" height="2.10" fill="#efeceb"/>
<rect x="237.80" y="76.20" width="6.10" height="2.10" fill="#d4dde3"/>
<rect x="237.80" y="78.00" width="6.10" height="2.10" fill="#d7dee3"/>
<rect x="237.80" y="79.80" width="6.10" height="2.10" fill="#e5e6e8"/>
<rect x="237.80" y="81.60" width="6.10" height="2.10" fill="#c8d6df"/>
<rect x="237.80" y="83.40" width="6.10" height="2.10" fill="#bed0dc"/>
<rect x="237.80" y="85.20" width="6.10" height="2.10" fill="#e5e6e8"/>
<rect x="237.80" y="87.00" width="6.10" height="2.10" fill="#d9dfe4"/>
<rect x="237.80" y="88.80" width="6.10" height="2.10" fill="#c5d4de"/>
<rect x="237.80" y="90.60" width="6.10" height="2.10" fill="#d0dbe1"/>
<rect x="237.80" y="92.40" width="6.10" height="2.10" fill="#f1eeec"/>
<rect x="237.80" y="94.20" width="6.10" height="2.10" fill="#f2babb"/>
<rect x="237.80" y="96.00" width="6.10" height="2.10" fill="#efa5a8"/>
<rect x="237.80" y="97.80" width="6.10" height="2.10" fill="#e9787f"/>
<rect x="237.80" y="99.60" width="6.10" height="2.10" fill="#f2c9c8"/>
<rect x="237.80" y="101.40" width="6.10" height="2.10" fill="#efa5a8"/>
<rect x="237.80" y="103.20" width="6.10" height="2.10" fill="#efa5a7"/>
<rect x="237.80" y="105.00" width="6.10" height="2.10" fill="#ee9c9f"/>
<rect x="237.80" y="106.80" width="6.10" height="2.10" fill="#f2d3d2"/>
<rect x="237.80" y="108.60" width="6.10" height="2.10" fill="#e9767d"/>
<rect x="237.80" y="110.40" width="6.10" height="2.10" fill="#ec9095"/>
<rect x="237.80" y="112.20" width="6.10" height="2.10" fill="#eea0a3"/>
<rect x="237.80" y="114.00" width="6.10" height="2.10" fill="#efa2a5"/>
<rect x="237.80" y="115.80" width="6.10" height="2.10" fill="#f2c2c2"/>
<rect x="237.80" y="117.60" width="6.10" height="2.10" fill="#ed959a"/>
<rect x="237.80" y="119.40" width="6.10" height="2.10" fill="#f1b5b6"/>
<rect x="237.80" y="121.20" width="6.10" height="2.10" fill="#eea0a3"/>
<rect x="237.80" y="123.00" width="6.10" height="2.10" fill="#ee9b9e"/>
<rect x="243.60" y="24.00" width="6.10" height="2.10" fill="#b5cbd9"/>
<rect x="243.60" y="25.80" width="6.10" height="2.10" fill="#a6c2d5"/>
<rect x="243.60" y="27.60" width="6.10" height="2.10" fill="#c3d3dd"/>
<rect x="243.60" y="29.40" width="6.10" height="2.10" fill="#a6c2d5"/>
<rect x="243.60" y="31.20" width="6.10" height="2.10" fill="#abc5d6"/>
<rect x="243.60" y="33.00" width="6.10" height="2.10" fill="#b3cad8"/>
<rect x="243.60" y="34.80" width="6.10" height="2.10" fill="#a6c2d5"/>
<rect x="243.60" y="36.60" width="6.10" height="2.10" fill="#a2c0d4"/>
<rect x="243.60" y="38.40" width="6.10" height="2.10" fill="#d8dfe4"/>
<rect x="243.60" y="40.20" width="6.10" height="2.10" fill="#acc6d6"/>
<rect x="243.60" y="42.00" width="6.10" height="2.10" fill="#bacedb"/>
<rect x="243.60" y="43.80" width="6.10" height="2.10" fill="#a6c2d5"/>
<rect x="243.60" y="45.60" width="6.10" height="2.10" fill="#a9c4d6"/>
<rect x="243.60" y="47.40" width="6.10" height="2.10" fill="#bdd0db"/>
<rect x="243.60" y="49.20" width="6.10" height="2.10" fill="#98b9d3"/>
<rect x="243.60" y="51.00" width="6.10" height="2.10" fill="#afc8d7"/>
<rect x="243.60" y="52.80" width="6.10" height="2.10" fill="#9cbbd3"/>
<rect x="243.60" y="54.60" width="6.10" height="2.10" fill="#a9c4d6"/>
<rect x="243.60" y="56.40" width="6.10" height="2.10" fill="#a8c3d5"/>
<rect x="243.60" y="58.20" width="6.10" height="2.10" fill="#bed0dc"/>
<rect x="243.60" y="60.00" width="6.10" height="2.10" fill="#bfd1dc"/>
<rect x="243.60" y="61.80" width="6.10" height="2.10" fill="#a4c1d5"/>
<rect x="243.60" y="63.60" width="6.10" height="2.10" fill="#a5c1d5"/>
<rect x="243.60" y="65.40" width="6.10" height="2.10" fill="#b0c8d7"/>
<rect x="243.60" y="67.20" width="6.10" height="2.10" fill="#cad7df"/>
<rect x="243.60" y="69.00" width="6.10" height="2.10" fill="#b1c9d7"/>
<rect x="243.60" y="70.80" width="6.10" height="2.10" fill="#b5cbd9"/>
<rect x="243.60" y="72.60" width="6.10" height="2.10" fill="#d3dce2"/>
<rect x="243.60" y="74.40" width="6.10" height="2.10" fill="#e2e5e7"/>
<rect x="243.60" y="76.20" width="6.10" height="2.10" fill="#dae0e4"/>
<rect x="243.60" y="78.00" width="6.10" height="2.10" fill="#ecebea"/>
<rect x="243.60" y="79.80" width="6.10" height="2.10" fill="#e2e5e7"/>
<rect x="243.60" y="81.60" width="6.10" height="2.10" fill="#d9e0e4"/>
<rect x="243.60" y="83.40" width="6.10" height="2.10" fill="#dbe1e5"/>
<rect x="243.60" y="85.20" width="6.10" height="2.10" fill="#d9e0e4"/>
<rect x="243.60" y="87.00" width="6.10" height="2.10" fill="#e4e6e8"/>
<rect x="243.60" y="88.80" width="6.10" height="2.10" fill="#efeceb"/>
<rect x="243.60" y="90.60" width="6.10" height="2.10" fill="#ccd8e0"/>
<rect x="243.60" y="92.40" width="6.10" height="2.10" fill="#e6e7e8"/>
<rect x="243.60" y="94.20" width="6.10" height="2.10" fill="#e2505a"/>
<rect x="243.60" y="96.00" width="6.10" height="2.10" fill="#ea7d84"/>
<rect x="243.60" y="97.80" width="6.10" height="2.10" fill="#ed9398"/>
<rect x="243.60" y="99.60" width="6.10" height="2.10" fill="#e87279"/>
<rect x="243.60" y="101.40" width="6.10" height="2.10" fill="#e14753"/>
<rect x="243.60" y="103.20" width="6.10" height="2.10" fill="#eea1a3"/>
<rect x="243.60" y="105.00" width="6.10" height="2.10" fill="#efa8aa"/>
<rect x="243.60" y="106.80" width="6.10" height="2.10" fill="#ee9ea1"/>
<rect x="243.60" y="108.60" width="6.10" height="2.10" fill="#eea1a4"/>
<rect x="243.60" y="110.40" width="6.10" height="2.10" fill="#e2505b"/>
<rect x="243.60" y="112.20" width="6.10" height="2.10" fill="#ed989c"/>
<rect x="243.60" y="114.00" width="6.10" height="2.10" fill="#efa2a5"/>
<rect x="243.60" y="115.80" width="6.10" height="2.10" fill="#e9777e"/>
<rect x="243.60" y="117.60" width="6.10" height="2.10" fill="#efa7a9"/>
<rect x="243.60" y="119.40" width="6.10" height="2.10" fill="#ee9ea1"/>
<rect x="243.60" y="121.20" width="6.10" height="2.10" fill="#ee9c9f"/>
<rect x="243.60" y="123.00" width="6.10" height="2.10" fill="#e0424e"/>
<rect x="249.40" y="24.00" width="6.10" height="2.10" fill="#afc8d7"/>
<rect x="249.40" y="25.80" width="6.10" height="2.10" fill="#a1bed4"/>
<rect x="249.40" y="27.60" width="6.10" height="2.10" fill="#b6ccd9"/>
<rect x="249.40" y="29.40" width="6.10" height="2.10" fill="#b6ccd9"/>
<rect x="249.40" y="31.20" width="6.10" height="2.10" fill="#a5c1d5"/>
<rect x="249.40" y="33.00" width="6.10" height="2.10" fill="#9dbcd3"/>
<rect x="249.40" y="34.80" width="6.10" height="2.10" fill="#97b8d3"/>
<rect x="249.40" y="36.60" width="6.10" height="2.10" fill="#98b8d3"/>
<rect x="249.40" y="38.40" width="6.10" height="2.10" fill="#dee2e6"/>
<rect x="249.40" y="40.20" width="6.10" height="2.10" fill="#9cbbd3"/>
<rect x="249.40" y="42.00" width="6.10" height="2.10" fill="#a4c1d5"/>
<rect x="249.40" y="43.80" width="6.10" height="2.10" fill="#98b9d3"/>
<rect x="249.40" y="45.60" width="6.10" height="2.10" fill="#96b8d2"/>
<rect x="249.40" y="47.40" width="6.10" height="2.10" fill="#8bb0d1"/>
<rect x="249.40" y="49.20" width="6.10" height="2.10" fill="#97b8d2"/>
<rect x="249.40" y="51.00" width="6.10" height="2.10" fill="#aec7d7"/>
<rect x="249.40" y="52.80" width="6.10" height="2.10" fill="#a2bfd4"/>
<rect x="249.40" y="54.60" width="6.10" height="2.10" fill="#b6ccd9"/>
<rect x="249.40" y="56.40" width="6.10" height="2.10" fill="#96b7d2"/>
<rect x="249.40" y="58.20" width="6.10" height="2.10" fill="#a8c3d5"/>
<rect x="249.40" y="60.00" width="6.10" height="2.10" fill="#a5c2d5"/>
<rect x="249.40" y="61.80" width="6.10" height="2.10" fill="#b1c9d8"/>
<rect x="249.40" y="63.60" width="6.10" height="2.10" fill="#9bbbd3"/>
<rect x="249.40" y="65.40" width="6.10" height="2.10" fill="#8db2d1"/>
<rect x="249.40" y="67.20" width="6.10" height="2.10" fill="#a8c3d5"/>
<rect x="249.40" y="69.00" width="6.10" height="2.10" fill="#a7c3d5"/>
<rect x="249.40" y="70.80" width="6.10" height="2.10" fill="#aac5d6"/>
<rect x="249.40" y="72.60" width="6.10" height="2.10" fill="#bccfdb"/>
<rect x="249.40" y="74.40" width="6.10" height="2.10" fill="#d6dee3"/>
<rect x="249.40" y="76.20" width="6.10" height="2.10" fill="#d6dee3"/>
<rect x="249.40" y="78.00" width="6.10" height="2.10" fill="#e5e6e8"/>
<rect x="249.40" y="79.80" width="6.10" height="2.10" fill="#d0dbe1"/>
<rect x="249.40" y="81.60" width="6.10" height="2.10" fill="#c6d5de"/>
<rect x="249.40" y="83.40" width="6.10" height="2.10" fill="#ced9e1"/>
<rect x="249.40" y="85.20" width="6.10" height="2.10" fill="#f2eeec"/>
<rect x="249.40" y="87.00" width="6.10" height="2.10" fill="#f0edeb"/>
<rect x="249.40" y="88.80" width="6.10" height="2.10" fill="#d0dae1"/>
<rect x="249.40" y="90.60" width="6.10" height="2.10" fill="#c7d5de"/>
<rect x="249.40" y="92.40" width="6.10" height="2.10" fill="#d8dfe4"/>
<rect x="249.40" y="94.20" width="6.10" height="2.10" fill="#ed969a"/>
<rect x="249.40" y="96.00" width="6.10" height="2.10" fill="#efa9ac"/>
<rect x="249.40" y="97.80" width="6.10" height="2.10" fill="#efa2a5"/>
<rect x="249.40" y="99.60" width="6.10" height="2.10" fill="#ee9fa2"/>
<rect x="249.40" y="101.40" width="6.10" height="2.10" fill="#e6646d"/>
<rect x="249.40" y="103.20" width="6.10" height="2.10" fill="#e97980"/>
<rect x="249.40" y="105.00" width="6.10" height="2.10" fill="#ed9599"/>
<rect x="249.40" y="106.80" width="6.10" height="2.10" fill="#f0aeaf"/>
<rect x="249.40" y="108.60" width="6.10" height="2.10" fill="#f0b2b3"/>
<rect x="249.40" y="110.40" width="6.10" height="2.10" fill="#ee9ea1"/>
<rect x="249.40" y="112.20" width="6.10" height="2.10" fill="#ec9095"/>
<rect x="249.40" y="114.00" width="6.10" height="2.10" fill="#ec8c91"/>
<rect x="249.40" y="115.80" width="6.10" height="2.10" fill="#e55c65"/>
<rect x="249.40" y="117.60" width="6.10" height="2.10" fill="#ed9599"/>
<rect x="249.40" y="119.40" width="6.10" height="2.10" fill="#ed999d"/>
<rect x="249.40" y="121.20" width="6.10" height="2.10" fill="#f2d2d1"/>
<rect x="249.40" y="123.00" width="6.10" height="2.10" fill="#ea8288"/>
<rect x="255.20" y="24.00" width="5.90" height="2.10" fill="#e3535e"/>
<rect x="255.20" y="25.80" width="5.90" height="2.10" fill="#de3744"/>
<rect x="255.20" y="27.60" width="5.90" height="2.10" fill="#e24d58"/>
<rect x="255.20" y="29.40" width="5.90" height="2.10" fill="#e0434f"/>
<rect x="255.20" y="31.20" width="5.90" height="2.10" fill="#e24c57"/>
<rect x="255.20" y="33.00" width="5.90" height="2.10" fill="#e14a55"/>
<rect x="255.20" y="34.80" width="5.90" height="2.10" fill="#ea7d83"/>
<rect x="255.20" y="36.60" width="5.90" height="2.10" fill="#dd3543"/>
<rect x="255.20" y="38.40" width="5.90" height="2.10" fill="#e14b56"/>
<rect x="255.20" y="40.20" width="5.90" height="2.10" fill="#e86c74"/>
<rect x="255.20" y="42.00" width="5.90" height="2.10" fill="#e6646d"/>
<rect x="255.20" y="43.80" width="5.90" height="2.10" fill="#e3525d"/>
<rect x="255.20" y="45.60" width="5.90" height="2.10" fill="#e55e68"/>
<rect x="255.20" y="47.40" width="5.90" height="2.10" fill="#eb878d"/>
<rect x="255.20" y="49.20" width="5.90" height="2.10" fill="#e2505a"/>
<rect x="255.20" y="51.00" width="5.90" height="2.10" fill="#e3525c"/>
<rect x="255.20" y="52.80" width="5.90" height="2.10" fill="#e45a63"/>
<rect x="255.20" y="54.60" width="5.90" height="2.10" fill="#ea8187"/>
<rect x="255.20" y="56.40" width="5.90" height="2.10" fill="#e45a64"/>
<rect x="255.20" y="58.20" width="5.90" height="2.10" fill="#e3555f"/>
<rect x="255.20" y="60.00" width="5.90" height="2.10" fill="#e86d75"/>
<rect x="255.20" y="61.80" width="5.90" height="2.10" fill="#e24e59"/>
<rect x="255.20" y="63.60" width="5.90" height="2.10" fill="#e55f69"/>
<rect x="255.20" y="65.40" width="5.90" height="2.10" fill="#eb8288"/>
<rect x="255.20" y="67.20" width="5.90" height="2.10" fill="#e3555f"/>
<rect x="255.20" y="69.00" width="5.90" height="2.10" fill="#e45862"/>
<rect x="255.20" y="70.80" width="5.90" height="2.10" fill="#e45a64"/>
<rect x="255.20" y="72.60" width="5.90" height="2.10" fill="#f2e5e4"/>
<rect x="255.20" y="74.40" width="5.90" height="2.10" fill="#cdd9e0"/>
<rect x="255.20" y="76.20" width="5.90" height="2.10" fill="#cad7e0"/>
<rect x="255.20" y="78.00" width="5.90" height="2.10" fill="#a7c2d5"/>
<rect x="255.20" y="79.80" width="5.90" height="2.10" fill="#bdd0db"/>
<rect x="255.20" y="81.60" width="5.90" height="2.10" fill="#b7ccda"/>
<rect x="255.20" y="83.40" width="5.90" height="2.10" fill="#b5cbd9"/>
<rect x="255.20" y="85.20" width="5.90" height="2.10" fill="#cad7df"/>
<rect x="255.20" y="87.00" width="5.90" height="2.10" fill="#b8cdda"/>
<rect x="255.20" y="88.80" width="5.90" height="2.10" fill="#dfe3e6"/>
<rect x="255.20" y="90.60" width="5.90" height="2.10" fill="#c4d4de"/>
<rect x="255.20" y="92.40" width="5.90" height="2.10" fill="#c2d3dd"/>
<rect x="255.20" y="94.20" width="5.90" height="2.10" fill="#dee2e6"/>
<rect x="255.20" y="96.00" width="5.90" height="2.10" fill="#c5d4de"/>
<rect x="255.20" y="97.80" width="5.90" height="2.10" fill="#edebea"/>
<rect x="255.20" y="99.60" width="5.90" height="2.10" fill="#e7e8e9"/>
<rect x="255.20" y="101.40" width="5.90" height="2.10" fill="#d4dde3"/>
<rect x="255.20" y="103.20" width="5.90" height="2.10" fill="#b6ccd9"/>
<rect x="255.20" y="105.00" width="5.90" height="2.10" fill="#b8cdda"/>
<rect x="255.20" y="106.80" width="5.90" height="2.10" fill="#d9e0e4"/>
<rect x="255.20" y="108.60" width="5.90" height="2.10" fill="#c8d6df"/>
<rect x="255.20" y="110.40" width="5.90" height="2.10" fill="#c5d4de"/>
<rect x="255.20" y="112.20" width="5.90" height="2.10" fill="#dce1e5"/>
<rect x="255.20" y="114.00" width="5.90" height="2.10" fill="#cdd9e0"/>
<rect x="255.20" y="115.80" width="5.90" height="2.10" fill="#bccfdb"/>
<rect x="255.20" y="117.60" width="5.90" height="2.10" fill="#c9d7df"/>
<rect x="255.20" y="119.40" width="5.90" height="2.10" fill="#afc8d7"/>
<rect x="255.20" y="121.20" width="5.90" height="2.10" fill="#d4dde3"/>
<rect x="255.20" y="123.00" width="5.90" height="2.10" fill="#dee2e6"/>
<rect x="260.80" y="24.00" width="5.90" height="2.10" fill="#e55f69"/>
<rect x="260.80" y="25.80" width="5.90" height="2.10" fill="#dc2d3b"/>
<rect x="260.80" y="27.60" width="5.90" height="2.10" fill="#e45661"/>
<rect x="260.80" y="29.40" width="5.90" height="2.10" fill="#e24b56"/>
<rect x="260.80" y="31.20" width="5.90" height="2.10" fill="#e6626b"/>
<rect x="260.80" y="33.00" width="5.90" height="2.10" fill="#e14955"/>
<rect x="260.80" y="34.80" width="5.90" height="2.10" fill="#e76a72"/>
<rect x="260.80" y="36.60" width="5.90" height="2.10" fill="#de3845"/>
<rect x="260.80" y="38.40" width="5.90" height="2.10" fill="#de3b48"/>
<rect x="260.80" y="40.20" width="5.90" height="2.10" fill="#e76971"/>
<rect x="260.80" y="42.00" width="5.90" height="2.10" fill="#e76a72"/>
<rect x="260.80" y="43.80" width="5.90" height="2.10" fill="#e6656e"/>
<rect x="260.80" y="45.60" width="5.90" height="2.10" fill="#e7666f"/>
<rect x="260.80" y="47.40" width="5.90" height="2.10" fill="#e6656e"/>
<rect x="260.80" y="49.20" width="5.90" height="2.10" fill="#e55c65"/>
<rect x="260.80" y="51.00" width="5.90" height="2.10" fill="#e87077"/>
<rect x="260.80" y="52.80" width="5.90" height="2.10" fill="#e55d67"/>
<rect x="260.80" y="54.60" width="5.90" height="2.10" fill="#e6626b"/>
<rect x="260.80" y="56.40" width="5.90" height="2.10" fill="#e5606a"/>
<rect x="260.80" y="58.20" width="5.90" height="2.10" fill="#e45963"/>
<rect x="260.80" y="60.00" width="5.90" height="2.10" fill="#ed9a9e"/>
<rect x="260.80" y="61.80" width="5.90" height="2.10" fill="#df404c"/>
<rect x="260.80" y="63.60" width="5.90" height="2.10" fill="#e56069"/>
<rect x="260.80" y="65.40" width="5.90" height="2.10" fill="#eb898e"/>
<rect x="260.80" y="67.20" width="5.90" height="2.10" fill="#e76871"/>
<rect x="260.80" y="69.00" width="5.90" height="2.10" fill="#e24e59"/>
<rect x="260.80" y="70.80" width="5.90" height="2.10" fill="#e3525c"/>
<rect x="260.80" y="72.60" width="5.90" height="2.10" fill="#d3dce2"/>
<rect x="260.80" y="74.40" width="5.90" height="2.10" fill="#c2d3dd"/>
<rect x="260.80" y="76.20" width="5.90" height="2.10" fill="#b3cad8"/>
<rect x="260.80" y="78.00" width="5.90" height="2.10" fill="#b4cad8"/>
<rect x="260.80" y="79.80" width="5.90" height="2.10" fill="#b6ccd9"/>
<rect x="260.80" y="81.60" width="5.90" height="2.10" fill="#a7c3d5"/>
<rect x="260.80" y="83.40" width="5.90" height="2.10" fill="#c1d2dd"/>
<rect x="260.80" y="85.20" width="5.90" height="2.10" fill="#dbe1e5"/>
<rect x="260.80" y="87.00" width="5.90" height="2.10" fill="#d7dfe3"/>
<rect x="260.80" y="88.80" width="5.90" height="2.10" fill="#ccd8e0"/>
<rect x="260.80" y="90.60" width="5.90" height="2.10" fill="#d7dee3"/>
<rect x="260.80" y="92.40" width="5.90" height="2.10" fill="#b3cad8"/>
<rect x="260.80" y="94.20" width="5.90" height="2.10" fill="#cad7df"/>
<rect x="260.80" y="96.00" width="5.90" height="2.10" fill="#bccfdb"/>
<rect x="260.80" y="97.80" width="5.90" height="2.10" fill="#e3e5e7"/>
<rect x="260.80" y="99.60" width="5.90" height="2.10" fill="#e6e7e8"/>
<rect x="260.80" y="101.40" width="5.90" height="2.10" fill="#d4dde2"/>
<rect x="260.80" y="103.20" width="5.90" height="2.10" fill="#b2c9d8"/>
<rect x="260.80" y="105.00" width="5.90" height="2.10" fill="#bbcfdb"/>
<rect x="260.80" y="106.80" width="5.90" height="2.10" fill="#c3d3dd"/>
<rect x="260.80" y="108.60" width="5.90" height="2.10" fill="#c5d4de"/>
<rect x="260.80" y="110.40" width="5.90" height="2.10" fill="#c6d5de"/>
<rect x="260.80" y="112.20" width="5.90" height="2.10" fill="#ccd9e0"/>
<rect x="260.80" y="114.00" width="5.90" height="2.10" fill="#ced9e1"/>
<rect x="260.80" y="115.80" width="5.90" height="2.10" fill="#bfd1dc"/>
<rect x="260.80" y="117.60" width="5.90" height="2.10" fill="#b5cbd9"/>
<rect x="260.80" y="119.40" width="5.90" height="2.10" fill="#a9c4d6"/>
<rect x="260.80" y="121.20" width="5.90" height="2.10" fill="#c7d5de"/>
<rect x="260.80" y="123.00" width="5.90" height="2.10" fill="#dde2e5"/>
<rect x="266.40" y="24.00" width="5.90" height="2.10" fill="#e3545e"/>
<rect x="266.40" y="25.80" width="5.90" height="2.10" fill="#e45761"/>
<rect x="266.40" y="27.60" width="5.90" height="2.10" fill="#e45a63"/>
<rect x="266.40" y="29.40" width="5.90" height="2.10" fill="#e3545e"/>
<rect x="266.40" y="31.20" width="5.90" height="2.10" fill="#e97980"/>
<rect x="266.40" y="33.00" width="5.90" height="2.10" fill="#e76871"/>
<rect x="266.40" y="34.80" width="5.90" height="2.10" fill="#e45a64"/>
<rect x="266.40" y="36.60" width="5.90" height="2.10" fill="#e2505b"/>
<rect x="266.40" y="38.40" width="5.90" height="2.10" fill="#e45862"/>
<rect x="266.40" y="40.20" width="5.90" height="2.10" fill="#e35660"/>
<rect x="266.40" y="42.00" width="5.90" height="2.10" fill="#e9767d"/>
<rect x="266.40" y="43.80" width="5.90" height="2.10" fill="#eb8389"/>
<rect x="266.40" y="45.60" width="5.90" height="2.10" fill="#e9767e"/>
<rect x="266.40" y="47.40" width="5.90" height="2.10" fill="#e6616b"/>
<rect x="266.40" y="49.20" width="5.90" height="2.10" fill="#e55f68"/>
<rect x="266.40" y="51.00" width="5.90" height="2.10" fill="#ea7c82"/>
<rect x="266.40" y="52.80" width="5.90" height="2.10" fill="#ec8b90"/>
<rect x="266.40" y="54.60" width="5.90" height="2.10" fill="#e76770"/>
<rect x="266.40" y="56.40" width="5.90" height="2.10" fill="#e3525d"/>
<rect x="266.40" y="58.20" width="5.90" height="2.10" fill="#eb868c"/>
<rect x="266.40" y="60.00" width="5.90" height="2.10" fill="#efaaac"/>
<rect x="266.40" y="61.80" width="5.90" height="2.10" fill="#e45762"/>
<rect x="266.40" y="63.60" width="5.90" height="2.10" fill="#e86d75"/>
<rect x="266.40" y="65.40" width="5.90" height="2.10" fill="#eb878c"/>
<rect x="266.40" y="67.20" width="5.90" height="2.10" fill="#e86e76"/>
<rect x="266.40" y="69.00" width="5.90" height="2.10" fill="#e86d75"/>
<rect x="266.40" y="70.80" width="5.90" height="2.10" fill="#e5606a"/>
<rect x="266.40" y="72.60" width="5.90" height="2.10" fill="#d9dfe4"/>
<rect x="266.40" y="74.40" width="5.90" height="2.10" fill="#bccfdb"/>
<rect x="266.40" y="76.20" width="5.90" height="2.10" fill="#b6ccd9"/>
<rect x="266.40" y="78.00" width="5.90" height="2.10" fill="#b5cbd9"/>
<rect x="266.40" y="79.80" width="5.90" height="2.10" fill="#aec7d7"/>
<rect x="266.40" y="81.60" width="5.90" height="2.10" fill="#aac4d6"/>
<rect x="266.40" y="83.40" width="5.90" height="2.10" fill="#a7c3d5"/>
<rect x="266.40" y="85.20" width="5.90" height="2.10" fill="#c7d5de"/>
<rect x="266.40" y="87.00" width="5.90" height="2.10" fill="#ccd8e0"/>
<rect x="266.40" y="88.80" width="5.90" height="2.10" fill="#dbe1e5"/>
<rect x="266.40" y="90.60" width="5.90" height="2.10" fill="#bed1dc"/>
<rect x="266.40" y="92.40" width="5.90" height="2.10" fill="#b3cad8"/>
<rect x="266.40" y="94.20" width="5.90" height="2.10" fill="#bccfdb"/>
<rect x="266.40" y="96.00" width="5.90" height="2.10" fill="#c4d4dd"/>
<rect x="266.40" y="97.80" width="5.90" height="2.10" fill="#dee3e6"/>
<rect x="266.40" y="99.60" width="5.90" height="2.10" fill="#e4e6e8"/>
<rect x="266.40" y="101.40" width="5.90" height="2.10" fill="#c6d5de"/>
<rect x="266.40" y="103.20" width="5.90" height="2.10" fill="#a2c0d4"/>
<rect x="266.40" y="105.00" width="5.90" height="2.10" fill="#b4cbd9"/>
<rect x="266.40" y="106.80" width="5.90" height="2.10" fill="#bdd0db"/>
<rect x="266.40" y="108.60" width="5.90" height="2.10" fill="#abc5d6"/>
<rect x="266.40" y="110.40" width="5.90" height="2.10" fill="#cad7e0"/>
<rect x="266.40" y="112.20" width="5.90" height="2.10" fill="#d0dbe1"/>
<rect x="266.40" y="114.00" width="5.90" height="2.10" fill="#ccd9e0"/>
<rect x="266.40" y="115.80" width="5.90" height="2.10" fill="#ccd8e0"/>
<rect x="266.40" y="117.60" width="5.90" height="2.10" fill="#b4cbd9"/>
<rect x="266.40" y="119.40" width="5.90" height="2.10" fill="#a7c3d5"/>
<rect x="266.40" y="121.20" width="5.90" height="2.10" fill="#b4cbd9"/>
<rect x="266.40" y="123.00" width="5.90" height="2.10" fill="#cbd8e0"/>
<rect x="272.00" y="24.00" width="5.90" height="2.10" fill="#e45a63"/>
<rect x="272.00" y="25.80" width="5.90" height="2.10" fill="#e0414d"/>
<rect x="272.00" y="27.60" width="5.90" height="2.10" fill="#e24c57"/>
<rect x="272.00" y="29.40" width="5.90" height="2.10" fill="#e6656e"/>
<rect x="272.00" y="31.20" width="5.90" height="2.10" fill="#e76a72"/>
<rect x="272.00" y="33.00" width="5.90" height="2.10" fill="#e04450"/>
<rect x="272.00" y="34.80" width="5.90" height="2.10" fill="#e55c66"/>
<rect x="272.00" y="36.60" width="5.90" height="2.10" fill="#de3946"/>
<rect x="272.00" y="38.40" width="5.90" height="2.10" fill="#ea7a81"/>
<rect x="272.00" y="40.20" width="5.90" height="2.10" fill="#ec8b90"/>
<rect x="272.00" y="42.00" width="5.90" height="2.10" fill="#eb858b"/>
<rect x="272.00" y="43.80" width="5.90" height="2.10" fill="#e14b56"/>
<rect x="272.00" y="45.60" width="5.90" height="2.10" fill="#e14651"/>
<rect x="272.00" y="47.40" width="5.90" height="2.10" fill="#e9777e"/>
<rect x="272.00" y="49.20" width="5.90" height="2.10" fill="#e76871"/>
<rect x="272.00" y="51.00" width="5.90" height="2.10" fill="#e9737b"/>
<rect x="272.00" y="52.80" width="5.90" height="2.10" fill="#e86e76"/>
<rect x="272.00" y="54.60" width="5.90" height="2.10" fill="#e55d67"/>
<rect x="272.00" y="56.40" width="5.90" height="2.10" fill="#e86d75"/>
<rect x="272.00" y="58.20" width="5.90" height="2.10" fill="#e04551"/>
<rect x="272.00" y="60.00" width="5.90" height="2.10" fill="#e76871"/>
<rect x="272.00" y="61.80" width="5.90" height="2.10" fill="#e7676f"/>
<rect x="272.00" y="63.60" width="5.90" height="2.10" fill="#e45a64"/>
<rect x="272.00" y="65.40" width="5.90" height="2.10" fill="#ea7d84"/>
<rect x="272.00" y="67.20" width="5.90" height="2.10" fill="#e3555f"/>
<rect x="272.00" y="69.00" width="5.90" height="2.10" fill="#e14752"/>
<rect x="272.00" y="70.80" width="5.90" height="2.10" fill="#e76971"/>
<rect x="272.00" y="72.60" width="5.90" height="2.10" fill="#dfe3e6"/>
<rect x="272.00" y="74.40" width="5.90" height="2.10" fill="#c5d4de"/>
<rect x="272.00" y="76.20" width="5.90" height="2.10" fill="#c2d3dd"/>
<rect x="272.00" y="78.00" width="5.90" height="2.10" fill="#b3cad8"/>
<rect x="272.00" y="79.80" width="5.90" height="2.10" fill="#bdd0db"/>
<rect x="272.00" y="81.60" width="5.90" height="2.10" fill="#a7c3d5"/>
<rect x="272.00" y="83.40" width="5.90" height="2.10" fill="#afc8d7"/>
<rect x="272.00" y="85.20" width="5.90" height="2.10" fill="#d4dde3"/>
<rect x="272.00" y="87.00" width="5.90" height="2.10" fill="#cad7e0"/>
<rect x="272.00" y="88.80" width="5.90" height="2.10" fill="#cdd9e0"/>
<rect x="272.00" y="90.60" width="5.90" height="2.10" fill="#cad7df"/>
<rect x="272.00" y="92.40" width="5.90" height="2.10" fill="#a7c3d5"/>
<rect x="272.00" y="94.20" width="5.90" height="2.10" fill="#cad7df"/>
<rect x="272.00" y="96.00" width="5.90" height="2.10" fill="#b2cad8"/>
<rect x="272.00" y="97.80" width="5.90" height="2.10" fill="#d8dfe4"/>
<rect x="272.00" y="99.60" width="5.90" height="2.10" fill="#ccd8e0"/>
<rect x="272.00" y="101.40" width="5.90" height="2.10" fill="#c9d6df"/>
<rect x="272.00" y="103.20" width="5.90" height="2.10" fill="#bccfdb"/>
<rect x="272.00" y="105.00" width="5.90" height="2.10" fill="#baceda"/>
<rect x="272.00" y="106.80" width="5.90" height="2.10" fill="#b9cdda"/>
<rect x="272.00" y="108.60" width="5.90" height="2.10" fill="#cbd8e0"/>
<rect x="272.00" y="110.40" width="5.90" height="2.10" fill="#c4d3dd"/>
<rect x="272.00" y="112.20" width="5.90" height="2.10" fill="#dce2e5"/>
<rect x="272.00" y="114.00" width="5.90" height="2.10" fill="#c9d7df"/>
<rect x="272.00" y="115.80" width="5.90" height="2.10" fill="#b7ccd9"/>
<rect x="272.00" y="117.60" width="5.90" height="2.10" fill="#cad7df"/>
<rect x="272.00" y="119.40" width="5.90" height="2.10" fill="#b2cad8"/>
<rect x="272.00" y="121.20" width="5.90" height="2.10" fill="#c9d7df"/>
<rect x="272.00" y="123.00" width="5.90" height="2.10" fill="#e2e5e7"/>
<rect x="277.60" y="24.00" width="5.95" height="2.10" fill="#d4dde3"/>
<rect x="277.60" y="25.80" width="5.95" height="2.10" fill="#f2e1e0"/>
<rect x="277.60" y="27.60" width="5.95" height="2.10" fill="#f1edec"/>
<rect x="277.60" y="29.40" width="5.95" height="2.10" fill="#f2e5e4"/>
<rect x="277.60" y="31.20" width="5.95" height="2.10" fill="#f2ecea"/>
<rect x="277.60" y="33.00" width="5.95" height="2.10" fill="#dee3e6"/>
<rect x="277.60" y="34.80" width="5.95" height="2.10" fill="#f2e1df"/>
<rect x="277.60" y="36.60" width="5.95" height="2.10" fill="#f2e2e0"/>
<rect x="277.60" y="38.40" width="5.95" height="2.10" fill="#efeceb"/>
<rect x="277.60" y="40.20" width="5.95" height="2.10" fill="#f2e8e7"/>
<rect x="277.60" y="42.00" width="5.95" height="2.10" fill="#eeeceb"/>
<rect x="277.60" y="43.80" width="5.95" height="2.10" fill="#e7e8e9"/>
<rect x="277.60" y="45.60" width="5.95" height="2.10" fill="#f2ecea"/>
<rect x="277.60" y="47.40" width="5.95" height="2.10" fill="#efeceb"/>
<rect x="277.60" y="49.20" width="5.95" height="2.10" fill="#f2dcdb"/>
<rect x="277.60" y="51.00" width="5.95" height="2.10" fill="#f2dfde"/>
<rect x="277.60" y="52.80" width="5.95" height="2.10" fill="#eceaea"/>
<rect x="277.60" y="54.60" width="5.95" height="2.10" fill="#f2e8e6"/>
<rect x="277.60" y="56.40" width="5.95" height="2.10" fill="#f2e4e3"/>
<rect x="277.60" y="58.20" width="5.95" height="2.10" fill="#d6dee3"/>
<rect x="277.60" y="60.00" width="5.95" height="2.10" fill="#f2ebe9"/>
<rect x="277.60" y="61.80" width="5.95" height="2.10" fill="#f2d5d4"/>
<rect x="277.60" y="63.60" width="5.95" height="2.10" fill="#f2ecea"/>
<rect x="277.60" y="65.40" width="5.95" height="2.10" fill="#ebeaea"/>
<rect x="277.60" y="67.20" width="5.95" height="2.10" fill="#e6e7e8"/>
<rect x="277.60" y="69.00" width="5.95" height="2.10" fill="#f2e0df"/>
<rect x="277.60" y="70.80" width="5.95" height="2.10" fill="#f2eeec"/>
<rect x="277.60" y="72.60" width="5.95" height="2.10" fill="#e86d75"/>
<rect x="277.60" y="74.40" width="5.95" height="2.10" fill="#e55f69"/>
<rect x="277.60" y="76.20" width="5.95" height="2.10" fill="#e6616b"/>
<rect x="277.60" y="78.00" width="5.95" height="2.10" fill="#e9777e"/>
<rect x="277.60" y="79.80" width="5.95" height="2.10" fill="#eb888d"/>
<rect x="277.60" y="81.60" width="5.95" height="2.10" fill="#e97a81"/>
<rect x="277.60" y="83.40" width="5.95" height="2.10" fill="#e6616a"/>
<rect x="277.60" y="85.20" width="5.95" height="2.10" fill="#e6616a"/>
<rect x="277.60" y="87.00" width="5.95" height="2.10" fill="#ed9a9d"/>
<rect x="277.60" y="88.80" width="5.95" height="2.10" fill="#ec8b90"/>
<rect x="277.60" y="90.60" width="5.95" height="2.10" fill="#ec8f94"/>
<rect x="277.60" y="92.40" width="5.95" height="2.10" fill="#ec9095"/>
<rect x="277.60" y="94.20" width="5.95" height="2.10" fill="#ec8b90"/>
<rect x="277.60" y="96.00" width="5.95" height="2.10" fill="#e3555f"/>
<rect x="277.60" y="97.80" width="5.95" height="2.10" fill="#efa6a8"/>
<rect x="277.60" y="99.60" width="5.95" height="2.10" fill="#e76971"/>
<rect x="277.60" y="101.40" width="5.95" height="2.10" fill="#e87078"/>
<rect x="277.60" y="103.20" width="5.95" height="2.10" fill="#eb888d"/>
<rect x="277.60" y="105.00" width="5.95" height="2.10" fill="#ea7d84"/>
<rect x="277.60" y="106.80" width="5.95" height="2.10" fill="#ed999c"/>
<rect x="277.60" y="108.60" width="5.95" height="2.10" fill="#e97980"/>
<rect x="277.60" y="110.40" width="5.95" height="2.10" fill="#efa2a5"/>
<rect x="277.60" y="112.20" width="5.95" height="2.10" fill="#f2eeec"/>
<rect x="277.60" y="114.00" width="5.95" height="2.10" fill="#ea8086"/>
<rect x="277.60" y="115.80" width="5.95" height="2.10" fill="#eb848a"/>
<rect x="277.60" y="117.60" width="5.95" height="2.10" fill="#e6656e"/>
<rect x="277.60" y="119.40" width="5.95" height="2.10" fill="#f2c2c1"/>
<rect x="277.60" y="121.20" width="5.95" height="2.10" fill="#eea0a3"/>
<rect x="277.60" y="123.00" width="5.95" height="2.10" fill="#ee9c9f"/>
<rect x="283.25" y="24.00" width="5.95" height="2.10" fill="#d6dee3"/>
<rect x="283.25" y="25.80" width="5.95" height="2.10" fill="#e1e4e7"/>
<rect x="283.25" y="27.60" width="5.95" height="2.10" fill="#cbd8e0"/>
<rect x="283.25" y="29.40" width="5.95" height="2.10" fill="#d7dfe3"/>
<rect x="283.25" y="31.20" width="5.95" height="2.10" fill="#d7dee3"/>
<rect x="283.25" y="33.00" width="5.95" height="2.10" fill="#e3e5e7"/>
<rect x="283.25" y="34.80" width="5.95" height="2.10" fill="#f2edeb"/>
<rect x="283.25" y="36.60" width="5.95" height="2.10" fill="#ccd8e0"/>
<rect x="283.25" y="38.40" width="5.95" height="2.10" fill="#c4d4dd"/>
<rect x="283.25" y="40.20" width="5.95" height="2.10" fill="#eaeaea"/>
<rect x="283.25" y="42.00" width="5.95" height="2.10" fill="#d3dce2"/>
<rect x="283.25" y="43.80" width="5.95" height="2.10" fill="#d4dde3"/>
<rect x="283.25" y="45.60" width="5.95" height="2.10" fill="#e6e7e8"/>
<rect x="283.25" y="47.40" width="5.95" height="2.10" fill="#dee3e6"/>
<rect x="283.25" y="49.20" width="5.95" height="2.10" fill="#f0edeb"/>
<rect x="283.25" y="51.00" width="5.95" height="2.10" fill="#ebeaea"/>
<rect x="283.25" y="52.80" width="5.95" height="2.10" fill="#dbe1e5"/>
<rect x="283.25" y="54.60" width="5.95" height="2.10" fill="#f2edeb"/>
<rect x="283.25" y="56.40" width="5.95" height="2.10" fill="#d9dfe4"/>
<rect x="283.25" y="58.20" width="5.95" height="2.10" fill="#d7dfe4"/>
<rect x="283.25" y="60.00" width="5.95" height="2.10" fill="#f1eeec"/>
<rect x="283.25" y="61.80" width="5.95" height="2.10" fill="#f2edeb"/>
<rect x="283.25" y="63.60" width="5.95" height="2.10" fill="#e0e4e6"/>
<rect x="283.25" y="65.40" width="5.95" height="2.10" fill="#d7dfe4"/>
<rect x="283.25" y="67.20" width="5.95" height="2.10" fill="#c7d6df"/>
<rect x="283.25" y="69.00" width="5.95" height="2.10" fill="#e9e9e9"/>
<rect x="283.25" y="70.80" width="5.95" height="2.10" fill="#e4e6e8"/>
<rect x="283.25" y="72.60" width="5.95" height="2.10" fill="#f1b9ba"/>
<rect x="283.25" y="74.40" width="5.95" height="2.10" fill="#f0acae"/>
<rect x="283.25" y="76.20" width="5.95" height="2.10" fill="#e86d75"/>
<rect x="283.25" y="78.00" width="5.95" height="2.10" fill="#e86f77"/>
<rect x="283.25" y="79.80" width="5.95" height="2.10" fill="#f2bebe"/>
<rect x="283.25" y="81.60" width="5.95" height="2.10" fill="#eb868c"/>
<rect x="283.25" y="83.40" width="5.95" height="2.10" fill="#e9767d"/>
<rect x="283.25" y="85.20" width="5.95" height="2.10" fill="#e6626c"/>
<rect x="283.25" y="87.00" width="5.95" height="2.10" fill="#f0adae"/>
<rect x="283.25" y="88.80" width="5.95" height="2.10" fill="#efa3a6"/>
<rect x="283.25" y="90.60" width="5.95" height="2.10" fill="#f0adae"/>
<rect x="283.25" y="92.40" width="5.95" height="2.10" fill="#ed9397"/>
<rect x="283.25" y="94.20" width="5.95" height="2.10" fill="#f0acad"/>
<rect x="283.25" y="96.00" width="5.95" height="2.10" fill="#ee9da0"/>
<rect x="283.25" y="97.80" width="5.95" height="2.10" fill="#f1b9b9"/>
<rect x="283.25" y="99.60" width="5.95" height="2.10" fill="#efa6a9"/>
<rect x="283.25" y="101.40" width="5.95" height="2.10" fill="#ea8187"/>
<rect x="283.25" y="103.20" width="5.95" height="2.10" fill="#f2c0c0"/>
<rect x="283.25" y="105.00" width="5.95" height="2.10" fill="#f2cece"/>
<rect x="283.25" y="106.80" width="5.95" height="2.10" fill="#f2bdbd"/>
<rect x="283.25" y="108.60" width="5.95" height="2.10" fill="#eb8389"/>
<rect x="283.25" y="110.40" width="5.95" height="2.10" fill="#f2cccb"/>
<rect x="283.25" y="112.20" width="5.95" height="2.10" fill="#efa7a9"/>
<rect x="283.25" y="114.00" width="5.95" height="2.10" fill="#ec8e92"/>
<rect x="283.25" y="115.80" width="5.95" height="2.10" fill="#f2bcbc"/>
<rect x="283.25" y="117.60" width="5.95" height="2.10" fill="#ee9ea1"/>
<rect x="283.25" y="119.40" width="5.95" height="2.10" fill="#f0afb1"/>
<rect x="283.25" y="121.20" width="5.95" height="2.10" fill="#f2bdbd"/>
<rect x="283.25" y="123.00" width="5.95" height="2.10" fill="#f2cccb"/>
<rect x="288.90" y="24.00" width="5.95" height="2.10" fill="#c1d2dd"/>
<rect x="288.90" y="25.80" width="5.95" height="2.10" fill="#dfe3e6"/>
<rect x="288.90" y="27.60" width="5.95" height="2.10" fill="#d3dce2"/>
<rect x="288.90" y="29.40" width="5.95" height="2.10" fill="#eeeceb"/>
<rect x="288.90" y="31.20" width="5.95" height="2.10" fill="#e5e6e8"/>
<rect x="288.90" y="33.00" width="5.95" height="2.10" fill="#c9d6df"/>
<rect x="288.90" y="34.80" width="5.95" height="2.10" fill="#ebeaea"/>
<rect x="288.90" y="36.60" width="5.95" height="2.10" fill="#f2eae8"/>
<rect x="288.90" y="38.40" width="5.95" height="2.10" fill="#dee2e6"/>
<rect x="288.90" y="40.20" width="5.95" height="2.10" fill="#e1e4e7"/>
<rect x="288.90" y="42.00" width="5.95" height="2.10" fill="#dfe3e6"/>
<rect x="288.90" y="43.80" width="5.95" height="2.10" fill="#c6d5de"/>
<rect x="288.90" y="45.60" width="5.95" height="2.10" fill="#e0e4e6"/>
<rect x="288.90" y="47.40" width="5.95" height="2.10" fill="#e9e9e9"/>
<rect x="288.90" y="49.20" width="5.95" height="2.10" fill="#f2dfdd"/>
<rect x="288.90" y="51.00" width="5.95" height="2.10" fill="#e6e7e8"/>
<rect x="288.90" y="52.80" width="5.95" height="2.10" fill="#f2e6e5"/>
<rect x="288.90" y="54.60" width="5.95" height="2.10" fill="#f2e2e0"/>
<rect x="288.90" y="56.40" width="5.95" height="2.10" fill="#f2eae8"/>
<rect x="288.90" y="58.20" width="5.95" height="2.10" fill="#b8cdda"/>
<rect x="288.90" y="60.00" width="5.95" height="2.10" fill="#f2e7e6"/>
<rect x="288.90" y="61.80" width="5.95" height="2.10" fill="#f2e8e6"/>
<rect x="288.90" y="63.60" width="5.95" height="2.10" fill="#efeceb"/>
<rect x="288.90" y="65.40" width="5.95" height="2.10" fill="#dce1e5"/>
<rect x="288.90" y="67.20" width="5.95" height="2.10" fill="#dae0e4"/>
<rect x="288.90" y="69.00" width="5.95" height="2.10" fill="#efedeb"/>
<rect x="288.90" y="70.80" width="5.95" height="2.10" fill="#f2ecea"/>
<rect x="288.90" y="72.60" width="5.95" height="2.10" fill="#e86d75"/>
<rect x="288.90" y="74.40" width="5.95" height="2.10" fill="#eb848a"/>
<rect x="288.90" y="76.20" width="5.95" height="2.10" fill="#ea7b82"/>
<rect x="288.90" y="78.00" width="5.95" height="2.10" fill="#e76871"/>
<rect x="288.90" y="79.80" width="5.95" height="2.10" fill="#ea7b82"/>
<rect x="288.90" y="81.60" width="5.95" height="2.10" fill="#ec8f93"/>
<rect x="288.90" y="83.40" width="5.95" height="2.10" fill="#ea8288"/>
<rect x="288.90" y="85.20" width="5.95" height="2.10" fill="#ec8c91"/>
<rect x="288.90" y="87.00" width="5.95" height="2.10" fill="#f0aaac"/>
<rect x="288.90" y="88.80" width="5.95" height="2.10" fill="#efa7a9"/>
<rect x="288.90" y="90.60" width="5.95" height="2.10" fill="#f2bfbe"/>
<rect x="288.90" y="92.40" width="5.95" height="2.10" fill="#f2bbbb"/>
<rect x="288.90" y="94.20" width="5.95" height="2.10" fill="#eb898e"/>
<rect x="288.90" y="96.00" width="5.95" height="2.10" fill="#efa5a7"/>
<rect x="288.90" y="97.80" width="5.95" height="2.10" fill="#f2cac9"/>
<rect x="288.90" y="99.60" width="5.95" height="2.10" fill="#ec8c91"/>
<rect x="288.90" y="101.40" width="5.95" height="2.10" fill="#e6656e"/>
<rect x="288.90" y="103.20" width="5.95" height="2.10" fill="#e97980"/>
<rect x="288.90" y="105.00" width="5.95" height="2.10" fill="#f0b0b1"/>
<rect x="288.90" y="106.80" width="5.95" height="2.10" fill="#f1b9ba"/>
<rect x="288.90" y="108.60" width="5.95" height="2.10" fill="#f0acae"/>
<rect x="288.90" y="110.40" width="5.95" height="2.10" fill="#f2d0cf"/>
<rect x="288.90" y="112.20" width="5.95" height="2.10" fill="#f2c2c2"/>
<rect x="288.90" y="114.00" width="5.95" height="2.10" fill="#ec8f94"/>
<rect x="288.90" y="115.80" width="5.95" height="2.10" fill="#f2c4c4"/>
<rect x="288.90" y="117.60" width="5.95" height="2.10" fill="#f2c2c2"/>
<rect x="288.90" y="119.40" width="5.95" height="2.10" fill="#f2bfbf"/>
<rect x="288.90" y="121.20" width="5.95" height="2.10" fill="#f1b6b7"/>
<rect x="288.90" y="123.00" width="5.95" height="2.10" fill="#f2c9c9"/>
<rect x="294.55" y="24.00" width="5.95" height="2.10" fill="#bed0dc"/>
<rect x="294.55" y="25.80" width="5.95" height="2.10" fill="#d5dee3"/>
<rect x="294.55" y="27.60" width="5.95" height="2.10" fill="#dae0e4"/>
<rect x="294.55" y="29.40" width="5.95" height="2.10" fill="#e2e5e7"/>
<rect x="294.55" y="31.20" width="5.95" height="2.10" fill="#bbcedb"/>
<rect x="294.55" y="33.00" width="5.95" height="2.10" fill="#d1dbe2"/>
<rect x="294.55" y="34.80" width="5.95" height="2.10" fill="#dce2e5"/>
<rect x="294.55" y="36.60" width="5.95" height="2.10" fill="#dde2e6"/>
<rect x="294.55" y="38.40" width="5.95" height="2.10" fill="#d5dee3"/>
<rect x="294.55" y="40.20" width="5.95" height="2.10" fill="#c3d3dd"/>
<rect x="294.55" y="42.00" width="5.95" height="2.10" fill="#c3d3dd"/>
<rect x="294.55" y="43.80" width="5.95" height="2.10" fill="#e8e8e9"/>
<rect x="294.55" y="45.60" width="5.95" height="2.10" fill="#f2eae8"/>
<rect x="294.55" y="47.40" width="5.95" height="2.10" fill="#f2ebea"/>
<rect x="294.55" y="49.20" width="5.95" height="2.10" fill="#e6e7e8"/>
<rect x="294.55" y="51.00" width="5.95" height="2.10" fill="#eae9e9"/>
<rect x="294.55" y="52.80" width="5.95" height="2.10" fill="#f0edeb"/>
<rect x="294.55" y="54.60" width="5.95" height="2.10" fill="#d9e0e4"/>
<rect x="294.55" y="56.40" width="5.95" height="2.10" fill="#f1eeec"/>
<rect x="294.55" y="58.20" width="5.95" height="2.10" fill="#c4d4de"/>
<rect x="294.55" y="60.00" width="5.95" height="2.10" fill="#efeceb"/>
<rect x="294.55" y="61.80" width="5.95" height="2.10" fill="#e8e8e9"/>
<rect x="294.55" y="63.60" width="5.95" height="2.10" fill="#e3e6e7"/>
<rect x="294.55" y="65.40" width="5.95" height="2.10" fill="#d9dfe4"/>
<rect x="294.55" y="67.20" width="5.95" height="2.10" fill="#e7e8e9"/>
<rect x="294.55" y="69.00" width="5.95" height="2.10" fill="#e1e4e7"/>
<rect x="294.55" y="70.80" width="5.95" height="2.10" fill="#e0e4e6"/>
<rect x="294.55" y="72.60" width="5.95" height="2.10" fill="#e45963"/>
<rect x="294.55" y="74.40" width="5.95" height="2.10" fill="#efa4a6"/>
<rect x="294.55" y="76.20" width="5.95" height="2.10" fill="#ea8187"/>
<rect x="294.55" y="78.00" width="5.95" height="2.10" fill="#e9787f"/>
<rect x="294.55" y="79.80" width="5.95" height="2.10" fill="#ee9fa2"/>
<rect x="294.55" y="81.60" width="5.95" height="2.10" fill="#ee9a9e"/>
<rect x="294.55" y="83.40" width="5.95" height="2.10" fill="#e24f5a"/>
<rect x="294.55" y="85.20" width="5.95" height="2.10" fill="#e55d67"/>
<rect x="294.55" y="87.00" width="5.95" height="2.10" fill="#ec9296"/>
<rect x="294.55" y="88.80" width="5.95" height="2.10" fill="#ed9498"/>
<rect x="294.55" y="90.60" width="5.95" height="2.10" fill="#f1b7b8"/>
<rect x="294.55" y="92.40" width="5.95" height="2.10" fill="#ed9599"/>
<rect x="294.55" y="94.20" width="5.95" height="2.10" fill="#e9737a"/>
<rect x="294.55" y="96.00" width="5.95" height="2.10" fill="#e76b73"/>
<rect x="294.55" y="97.80" width="5.95" height="2.10" fill="#f2cece"/>
<rect x="294.55" y="99.60" width="5.95" height="2.10" fill="#f2c8c7"/>
<rect x="294.55" y="101.40" width="5.95" height="2.10" fill="#efa5a8"/>
<rect x="294.55" y="103.20" width="5.95" height="2.10" fill="#ee9ea1"/>
<rect x="294.55" y="105.00" width="5.95" height="2.10" fill="#f1b9b9"/>
<rect x="294.55" y="106.80" width="5.95" height="2.10" fill="#efa9ac"/>
<rect x="294.55" y="108.60" width="5.95" height="2.10" fill="#ed979b"/>
<rect x="294.55" y="110.40" width="5.95" height="2.10" fill="#efa8aa"/>
<rect x="294.55" y="112.20" width="5.95" height="2.10" fill="#f1b2b4"/>
<rect x="294.55" y="114.00" width="5.95" height="2.10" fill="#ea7d84"/>
<rect x="294.55" y="115.80" width="5.95" height="2.10" fill="#f2cece"/>
<rect x="294.55" y="117.60" width="5.95" height="2.10" fill="#efa5a8"/>
<rect x="294.55" y="119.40" width="5.95" height="2.10" fill="#f0b0b2"/>
<rect x="294.55" y="121.20" width="5.95" height="2.10" fill="#f2d9d8"/>
<rect x="294.55" y="123.00" width="5.95" height="2.10" fill="#ed999d"/>
<rect x="266.40" y="57.7" width="5.4" height="13.3" fill="#ccd9e0"/>
<rect x="260.80" y="57.7" width="5.6" height="13.3" fill="#d91f2e"/>
<rect x="255.20" y="57.7" width="5.6" height="13.3" fill="#f1b9ba"/>
</g></g>
<line x1="186.5" y1="24.0" x2="186.5" y2="124.8" stroke="#3b4654" stroke-width="1.35"/>
<line x1="209.2" y1="24.0" x2="209.2" y2="124.8" stroke="#3b4654" stroke-width="1.35"/>
<line x1="232.0" y1="24.0" x2="232.0" y2="124.8" stroke="#3b4654" stroke-width="1.35"/>
<line x1="255.2" y1="24.0" x2="255.2" y2="124.8" stroke="#3b4654" stroke-width="1.35"/>
<line x1="277.6" y1="24.0" x2="277.6" y2="124.8" stroke="#3b4654" stroke-width="1.35"/>
<line x1="302.7" y1="24" x2="302.7" y2="70.8" stroke="#c0153f" stroke-width="1.3"/>
<line x1="302.7" y1="70.8" x2="302.7" y2="123.8" stroke="#22508a" stroke-width="1.3"/>
<text transform="translate(310.8,64.4) rotate(-90)" font-size="7.37" fill="#c0153f" textLength="32.3" lengthAdjust="spacingAndGlyphs">ITD/Runx1</text>
<text transform="translate(310.8,115.8) rotate(-90)" font-size="7.37" fill="#2b5c9a" textLength="34.5" lengthAdjust="spacingAndGlyphs">ITD/NHD13</text>
<text x="175.6" y="22.0" font-size="7.37" fill="#222" text-anchor="middle" textLength="10.42" lengthAdjust="spacingAndGlyphs">WT</text>
<text x="198.6" y="22.0" font-size="7.37" fill="#222" text-anchor="middle" textLength="10.79" lengthAdjust="spacingAndGlyphs">ITD</text>
<text x="221.0" y="22.0" font-size="7.37" fill="#222" text-anchor="middle" textLength="19.37" lengthAdjust="spacingAndGlyphs">Runx1</text>
<text x="243.8" y="22.0" font-size="7.37" fill="#222" text-anchor="middle" textLength="21.97" lengthAdjust="spacingAndGlyphs">NHD13</text>
<text x="266.6" y="14.0" font-size="7.37" fill="#222" text-anchor="middle" textLength="12.65" lengthAdjust="spacingAndGlyphs">ITD/</text>
<text x="266.6" y="22.0" font-size="7.37" fill="#222" text-anchor="middle" textLength="19.37" lengthAdjust="spacingAndGlyphs">Runx1</text>
<text x="289.6" y="14.0" font-size="7.37" fill="#222" text-anchor="middle" textLength="12.65" lengthAdjust="spacingAndGlyphs">ITD/</text>
<text x="289.6" y="22.0" font-size="7.37" fill="#222" text-anchor="middle" textLength="21.97" lengthAdjust="spacingAndGlyphs">NHD13</text>
<defs><linearGradient id="zg" x1="0" x2="1" y1="0" y2="0"><stop offset="0.0" stop-color="rgb(58, 109, 181)"/><stop offset="0.2" stop-color="rgb(112, 158, 204)"/><stop offset="0.36" stop-color="rgb(172, 198, 214)"/><stop offset="0.5" stop-color="rgb(242, 238, 236)"/><stop offset="0.64" stop-color="rgb(242, 190, 190)"/><stop offset="0.8" stop-color="rgb(232, 110, 118)"/><stop offset="1.0" stop-color="rgb(216, 24, 40)"/></linearGradient></defs>
<rect x="199" y="130" width="69" height="5.8" fill="url(#zg)"/>
<text x="197.4" y="135.3" font-size="7.37" fill="#222" text-anchor="end" textLength="7.64" lengthAdjust="spacingAndGlyphs">&#8722;3</text>
<text x="270.6" y="135.3" font-size="7.37" fill="#222" textLength="3.73" lengthAdjust="spacingAndGlyphs">3</text>
<text x="234.7" y="144.0" font-size="6.93" fill="#222" text-anchor="middle" textLength="21.35" lengthAdjust="spacingAndGlyphs">Z-score</text>
<text x="327.6" y="9.8" font-size="11.8" font-weight="bold" fill="#111" textLength="8.9" lengthAdjust="spacingAndGlyphs">C</text>
<text x="360.4" y="27.4" font-size="8.58" fill="#333" textLength="87.3" lengthAdjust="spacingAndGlyphs">Cooperative target genes</text>
<defs><clipPath id="cb"><circle cx="385.1" cy="60.6" r="21.2"/></clipPath></defs>
<circle cx="385.1" cy="60.6" r="20.9" fill="#1f4f8b" stroke="#173e6c" stroke-width="0.8"/>
<circle cx="425.3" cy="60.7" r="20.9" fill="#d0122e" stroke="#a80f28" stroke-width="0.8"/>
<circle cx="425.3" cy="60.7" r="21.2" fill="#c42a80" clip-path="url(#cb)"/>
<text x="405.9" y="41.2" font-size="7.92" fill="#333" text-anchor="middle" textLength="4.0" lengthAdjust="spacingAndGlyphs">5</text>
<line x1="405.5" y1="42.3" x2="405.5" y2="49.9" stroke="#333" stroke-width="0.7"/>
<text x="385.3" y="62.9" font-size="9.02" fill="#b8d0f0" text-anchor="middle" textLength="9.0" lengthAdjust="spacingAndGlyphs" font-weight="bold">86</text>
<text x="424.8" y="62.9" font-size="9.02" fill="#fbd6dc" text-anchor="middle" textLength="12.5" lengthAdjust="spacingAndGlyphs" font-weight="bold">170</text>
<text x="358.4" y="92.3" font-size="8.36" fill="#222" text-anchor="middle" textLength="60.5" lengthAdjust="spacingAndGlyphs">ITD/NHD13 &gt; ITD</text>
<text x="453.2" y="92.3" font-size="8.36" fill="#222" text-anchor="middle" textLength="56.5" lengthAdjust="spacingAndGlyphs">ITD/Runx1 &gt; ITD</text>
<text x="358.4" y="101.5" font-size="8.36" fill="#222" text-anchor="middle" textLength="61.0" lengthAdjust="spacingAndGlyphs">and NHD13 alone</text>
<text x="453.2" y="101.5" font-size="8.36" fill="#222" text-anchor="middle" textLength="56.5" lengthAdjust="spacingAndGlyphs">and Runx1 alone</text>
<text x="358.4" y="110.0" font-size="8.36" fill="#222" text-anchor="middle" textLength="41.0" lengthAdjust="spacingAndGlyphs">(FDR &lt;0.05)</text>
<text x="453.2" y="110.0" font-size="8.36" fill="#222" text-anchor="middle" textLength="40.8" lengthAdjust="spacingAndGlyphs">(FDR &lt;0.05)</text>
<defs>
<linearGradient id="hg" x1="0" x2="1" y1="0" y2="0"><stop offset="0" stop-color="#fbf8f4"/><stop offset="0.35" stop-color="#e2c4a0"/><stop offset="0.75" stop-color="#c99a6c"/><stop offset="1" stop-color="#b9834f"/></linearGradient>
<linearGradient id="st" x1="0" x2="1" y1="0" y2="0">
<stop offset="0" stop-color="#c98e4e" stop-opacity="0.0"/>
<stop offset="0.2" stop-color="#c98e4e" stop-opacity="0.05"/>
<stop offset="0.35" stop-color="#c98e4e" stop-opacity="0.18"/>
<stop offset="0.44" stop-color="#c98e4e" stop-opacity="0.5"/>
<stop offset="0.5" stop-color="#c98e4e" stop-opacity="0.8"/>
<stop offset="0.56" stop-color="#c98e4e" stop-opacity="0.5"/>
<stop offset="0.65" stop-color="#c98e4e" stop-opacity="0.18"/>
<stop offset="0.8" stop-color="#c98e4e" stop-opacity="0.05"/>
<stop offset="1" stop-color="#c98e4e" stop-opacity="0.0"/>
</linearGradient>
<linearGradient id="topband" x1="0" x2="0" y1="0" y2="1"><stop offset="0" stop-color="#d8a868" stop-opacity="0.55"/><stop offset="0.35" stop-color="#d8a868" stop-opacity="0.25"/><stop offset="1" stop-color="#d8a868" stop-opacity="0"/></linearGradient>
<filter id="blr" x="-5%" y="-5%" width="110%" height="110%"><feGaussianBlur stdDeviation="0.8"/></filter>
<linearGradient id="fade" x1="0" x2="0" y1="0" y2="1"><stop offset="0" stop-color="#fff" stop-opacity="1"/><stop offset="1" stop-color="#fff" stop-opacity="0"/></linearGradient>
<linearGradient id="fadeD" x1="0" x2="0" y1="0" y2="1"><stop offset="0" stop-color="#fff" stop-opacity="0"/><stop offset="1" stop-color="#fff" stop-opacity="1"/></linearGradient>
</defs>
<text x="0.3" y="172.7" font-size="11.8" font-weight="bold" fill="#111" textLength="8.6" lengthAdjust="spacingAndGlyphs">D</text>
<text x="28.6" y="173.1" font-size="8.36" fill="#222" textLength="110" lengthAdjust="spacingAndGlyphs">ITD/NHD13 &gt; WT (FDR&lt;0.1)</text>
<g clip-path="url(#tc0_12)"><g filter="url(#blr)">
<clipPath id="tc0_12"><rect x="12.60" y="197.60" width="22.70" height="69.20"/></clipPath>
<rect x="12.60" y="197.60" width="22.70" height="69.20" fill="#fbf8f3"/>
<rect x="12.60" y="197.60" width="22.70" height="2.75" fill="url(#st)" opacity="0.13"/>
<rect x="12.60" y="200.30" width="22.70" height="2.75" fill="url(#st)" opacity="0.13"/>
<rect x="12.60" y="203.00" width="22.70" height="2.65" fill="url(#st)" opacity="0.37"/>
<rect x="12.60" y="205.60" width="22.70" height="2.65" fill="url(#st)" opacity="0.26"/>
<rect x="12.60" y="208.20" width="22.70" height="2.65" fill="url(#st)" opacity="0.31"/>
<rect x="12.60" y="210.80" width="22.70" height="2.65" fill="url(#st)" opacity="0.24"/>
<rect x="12.60" y="213.40" width="22.70" height="2.27" fill="url(#st)" opacity="0.56"/>
<rect x="12.60" y="215.62" width="22.70" height="2.27" fill="url(#st)" opacity="0.44"/>
<rect x="12.60" y="217.85" width="22.70" height="2.27" fill="url(#st)" opacity="0.42"/>
<rect x="12.60" y="220.08" width="22.70" height="2.27" fill="url(#st)" opacity="0.31"/>
<rect x="12.60" y="222.30" width="22.70" height="2.27" fill="url(#st)" opacity="0.29"/>
<rect x="12.60" y="224.53" width="22.70" height="2.27" fill="url(#st)" opacity="0.24"/>
<rect x="12.60" y="226.75" width="22.70" height="2.27" fill="url(#st)" opacity="0.20"/>
<rect x="12.60" y="228.97" width="22.70" height="2.27" fill="url(#st)" opacity="0.20"/>
<rect x="12.60" y="231.20" width="22.70" height="2.27" fill="url(#st)" opacity="0.15"/>
<rect x="12.60" y="233.43" width="22.70" height="2.27" fill="url(#st)" opacity="0.15"/>
<rect x="12.60" y="235.65" width="22.70" height="2.27" fill="url(#st)" opacity="0.15"/>
<rect x="12.60" y="237.88" width="22.70" height="2.27" fill="url(#st)" opacity="0.13"/>
<rect x="12.60" y="240.10" width="22.70" height="2.27" fill="url(#st)" opacity="0.12"/>
<rect x="12.60" y="242.33" width="22.70" height="2.27" fill="url(#st)" opacity="0.14"/>
<rect x="12.60" y="244.55" width="22.70" height="2.27" fill="url(#st)" opacity="0.11"/>
<rect x="12.60" y="246.78" width="22.70" height="2.27" fill="url(#st)" opacity="0.10"/>
<rect x="12.60" y="249.00" width="22.70" height="2.27" fill="url(#st)" opacity="0.10"/>
<rect x="12.60" y="251.23" width="22.70" height="2.27" fill="url(#st)" opacity="0.09"/>
<rect x="12.60" y="253.45" width="22.70" height="2.27" fill="url(#st)" opacity="0.09"/>
<rect x="12.60" y="255.68" width="22.70" height="2.27" fill="url(#st)" opacity="0.09"/>
<rect x="12.60" y="257.90" width="22.70" height="2.27" fill="url(#st)" opacity="0.11"/>
<rect x="12.60" y="260.12" width="22.70" height="2.27" fill="url(#st)" opacity="0.09"/>
<rect x="12.60" y="262.35" width="22.70" height="2.27" fill="url(#st)" opacity="0.09"/>
<rect x="12.60" y="264.57" width="22.70" height="2.27" fill="url(#st)" opacity="0.09"/>
<rect x="28.45" y="198.38" width="0.67" height="3.75" fill="#c08a50" opacity="0.05"/>
<rect x="23.10" y="198.36" width="0.62" height="3.52" fill="#c08a50" opacity="0.06"/>
<rect x="25.18" y="197.73" width="0.72" height="5.03" fill="#c08a50" opacity="0.02"/>
<rect x="22.36" y="198.09" width="0.68" height="4.91" fill="#c08a50" opacity="0.05"/>
<rect x="22.37" y="197.99" width="0.99" height="4.50" fill="#c08a50" opacity="0.04"/>
<rect x="25.25" y="197.65" width="0.92" height="3.77" fill="#c08a50" opacity="0.02"/>
<rect x="23.69" y="198.24" width="0.51" height="4.17" fill="#c08a50" opacity="0.04"/>
<rect x="19.06" y="197.64" width="0.51" height="5.07" fill="#c08a50" opacity="0.06"/>
<rect x="24.75" y="198.36" width="1.06" height="4.08" fill="#c08a50" opacity="0.03"/>
<rect x="27.35" y="198.23" width="0.81" height="4.60" fill="#c08a50" opacity="0.05"/>
<rect x="25.08" y="204.48" width="0.52" height="8.64" fill="#c08a50" opacity="0.07"/>
<rect x="18.97" y="204.43" width="0.87" height="7.91" fill="#c08a50" opacity="0.12"/>
<rect x="21.61" y="203.28" width="0.69" height="9.88" fill="#c08a50" opacity="0.05"/>
<rect x="22.91" y="204.55" width="0.91" height="8.34" fill="#c08a50" opacity="0.04"/>
<rect x="26.53" y="203.37" width="0.74" height="8.18" fill="#c08a50" opacity="0.11"/>
<rect x="23.32" y="203.66" width="0.77" height="9.57" fill="#c08a50" opacity="0.12"/>
<rect x="26.19" y="203.20" width="1.00" height="7.91" fill="#c08a50" opacity="0.13"/>
<rect x="24.08" y="204.23" width="0.88" height="8.84" fill="#c08a50" opacity="0.08"/>
<rect x="26.35" y="203.71" width="0.68" height="6.58" fill="#c08a50" opacity="0.12"/>
<rect x="27.14" y="203.71" width="1.09" height="8.17" fill="#c08a50" opacity="0.11"/>
<rect x="21.61" y="214.57" width="0.74" height="36.82" fill="#c08a50" opacity="0.12"/>
<rect x="23.67" y="218.42" width="1.08" height="29.71" fill="#c08a50" opacity="0.07"/>
<rect x="25.09" y="220.35" width="0.97" height="31.46" fill="#c08a50" opacity="0.11"/>
<rect x="24.48" y="218.96" width="0.96" height="24.77" fill="#c08a50" opacity="0.10"/>
<rect x="21.17" y="217.29" width="0.67" height="23.62" fill="#c08a50" opacity="0.10"/>
<rect x="26.45" y="220.97" width="0.68" height="23.14" fill="#c08a50" opacity="0.09"/>
<rect x="26.64" y="218.78" width="0.65" height="30.32" fill="#c08a50" opacity="0.11"/>
<rect x="23.73" y="219.79" width="0.89" height="32.38" fill="#c08a50" opacity="0.09"/>
<rect x="23.25" y="220.15" width="0.71" height="18.08" fill="#c08a50" opacity="0.10"/>
<rect x="18.92" y="221.06" width="1.09" height="26.56" fill="#c08a50" opacity="0.08"/>
<rect x="12.60" y="203.00" width="22.70" height="10.40" fill="url(#topband)" opacity="0.15"/>
<rect x="12.60" y="213.40" width="22.70" height="20.00" fill="url(#topband)" opacity="0.25"/>
<rect x="12.60" y="209.10" width="22.70" height="0.7" fill="#c09060" opacity="0.11"/>
<rect x="12.60" y="262.47" width="22.70" height="0.7" fill="#c09060" opacity="0.04"/>
<rect x="12.60" y="245.45" width="22.70" height="0.7" fill="#c09060" opacity="0.07"/>
<rect x="12.60" y="248.14" width="22.70" height="0.7" fill="#c09060" opacity="0.04"/>
<rect x="12.60" y="251.60" width="22.70" height="0.7" fill="#c09060" opacity="0.05"/>
<rect x="12.60" y="243.66" width="22.70" height="0.7" fill="#c09060" opacity="0.05"/>
<rect x="12.60" y="240.76" width="22.70" height="0.7" fill="#c09060" opacity="0.07"/>
<rect x="12.60" y="241.67" width="22.70" height="0.7" fill="#c09060" opacity="0.07"/>
<rect x="12.60" y="199.51" width="22.70" height="0.7" fill="#c09060" opacity="0.06"/>
<rect x="12.60" y="228.12" width="22.70" height="0.7" fill="#c09060" opacity="0.08"/>
<rect x="12.60" y="212.76" width="22.70" height="0.7" fill="#c09060" opacity="0.09"/>
<rect x="12.60" y="241.26" width="22.70" height="0.7" fill="#c09060" opacity="0.03"/>
<rect x="12.60" y="230.23" width="22.70" height="0.7" fill="#c09060" opacity="0.05"/>
<rect x="12.60" y="201.35" width="22.70" height="0.7" fill="#c09060" opacity="0.05"/>
<rect x="12.60" y="219.56" width="22.70" height="0.7" fill="#c09060" opacity="0.05"/>
<rect x="12.60" y="210.98" width="22.70" height="0.7" fill="#c09060" opacity="0.04"/>
<rect x="12.60" y="229.80" width="22.70" height="0.7" fill="#c09060" opacity="0.06"/>
<rect x="12.60" y="239.94" width="22.70" height="0.7" fill="#c09060" opacity="0.06"/>
<rect x="12.60" y="214.06" width="22.70" height="0.7" fill="#c09060" opacity="0.11"/>
<rect x="12.60" y="197.65" width="22.70" height="0.7" fill="#c09060" opacity="0.08"/>
<rect x="12.60" y="216.87" width="22.70" height="0.7" fill="#c09060" opacity="0.07"/>
<rect x="12.60" y="205.56" width="22.70" height="0.7" fill="#c09060" opacity="0.11"/>
<rect x="12.60" y="223.47" width="22.70" height="0.7" fill="#c09060" opacity="0.04"/>
<rect x="12.60" y="240.06" width="22.70" height="0.7" fill="#c09060" opacity="0.03"/>
<rect x="12.60" y="235.33" width="22.70" height="0.7" fill="#c09060" opacity="0.05"/>
</g></g>
<line x1="12.60" y1="197.60" x2="35.30" y2="197.60" stroke="#aaa6a2" stroke-width="0.8"/>
<line x1="12.60" y1="266.80" x2="35.30" y2="266.80" stroke="#8f8b88" stroke-width="1.0"/>
<line x1="12.60" y1="197.20" x2="12.60" y2="267.30" stroke="#7f7b78" stroke-width="1.1"/>
<line x1="35.30" y1="197.20" x2="35.30" y2="267.30" stroke="#7f7b78" stroke-width="1.1"/>
<line x1="12.60" y1="203.00" x2="35.30" y2="203.00" stroke="#8a8683" stroke-width="0.8"/>
<line x1="12.60" y1="213.40" x2="35.30" y2="213.40" stroke="#8a8683" stroke-width="1.4"/>
<g clip-path="url(#tc1_36)"><g filter="url(#blr)">
<clipPath id="tc1_36"><rect x="36.35" y="197.60" width="22.70" height="69.20"/></clipPath>
<rect x="36.35" y="197.60" width="22.70" height="69.20" fill="#fbf8f3"/>
<rect x="36.35" y="197.60" width="22.70" height="2.75" fill="url(#st)" opacity="0.13"/>
<rect x="36.35" y="200.30" width="22.70" height="2.75" fill="url(#st)" opacity="0.14"/>
<rect x="36.35" y="203.00" width="22.70" height="2.65" fill="url(#st)" opacity="0.46"/>
<rect x="36.35" y="205.60" width="22.70" height="2.65" fill="url(#st)" opacity="0.37"/>
<rect x="36.35" y="208.20" width="22.70" height="2.65" fill="url(#st)" opacity="0.41"/>
<rect x="36.35" y="210.80" width="22.70" height="2.65" fill="url(#st)" opacity="0.31"/>
<rect x="36.35" y="213.40" width="22.70" height="2.27" fill="url(#st)" opacity="0.49"/>
<rect x="36.35" y="215.62" width="22.70" height="2.27" fill="url(#st)" opacity="0.46"/>
<rect x="36.35" y="217.85" width="22.70" height="2.27" fill="url(#st)" opacity="0.34"/>
<rect x="36.35" y="220.08" width="22.70" height="2.27" fill="url(#st)" opacity="0.31"/>
<rect x="36.35" y="222.30" width="22.70" height="2.27" fill="url(#st)" opacity="0.37"/>
<rect x="36.35" y="224.53" width="22.70" height="2.27" fill="url(#st)" opacity="0.24"/>
<rect x="36.35" y="226.75" width="22.70" height="2.27" fill="url(#st)" opacity="0.21"/>
<rect x="36.35" y="228.97" width="22.70" height="2.27" fill="url(#st)" opacity="0.20"/>
<rect x="36.35" y="231.20" width="22.70" height="2.27" fill="url(#st)" opacity="0.19"/>
<rect x="36.35" y="233.43" width="22.70" height="2.27" fill="url(#st)" opacity="0.17"/>
<rect x="36.35" y="235.65" width="22.70" height="2.27" fill="url(#st)" opacity="0.18"/>
<rect x="36.35" y="237.88" width="22.70" height="2.27" fill="url(#st)" opacity="0.16"/>
<rect x="36.35" y="240.10" width="22.70" height="2.27" fill="url(#st)" opacity="0.14"/>
<rect x="36.35" y="242.33" width="22.70" height="2.27" fill="url(#st)" opacity="0.13"/>
<rect x="36.35" y="244.55" width="22.70" height="2.27" fill="url(#st)" opacity="0.11"/>
<rect x="36.35" y="246.78" width="22.70" height="2.27" fill="url(#st)" opacity="0.10"/>
<rect x="36.35" y="249.00" width="22.70" height="2.27" fill="url(#st)" opacity="0.11"/>
<rect x="36.35" y="251.23" width="22.70" height="2.27" fill="url(#st)" opacity="0.13"/>
<rect x="36.35" y="253.45" width="22.70" height="2.27" fill="url(#st)" opacity="0.11"/>
<rect x="36.35" y="255.68" width="22.70" height="2.27" fill="url(#st)" opacity="0.12"/>
<rect x="36.35" y="257.90" width="22.70" height="2.27" fill="url(#st)" opacity="0.12"/>
<rect x="36.35" y="260.12" width="22.70" height="2.27" fill="url(#st)" opacity="0.11"/>
<rect x="36.35" y="262.35" width="22.70" height="2.27" fill="url(#st)" opacity="0.13"/>
<rect x="36.35" y="264.57" width="22.70" height="2.27" fill="url(#st)" opacity="0.10"/>
<rect x="45.62" y="198.00" width="1.09" height="4.32" fill="#c08a50" opacity="0.03"/>
<rect x="46.10" y="198.00" width="1.09" height="4.54" fill="#c08a50" opacity="0.04"/>
<rect x="49.73" y="197.84" width="0.77" height="3.90" fill="#c08a50" opacity="0.06"/>
<rect x="49.77" y="198.03" width="0.51" height="4.53" fill="#c08a50" opacity="0.06"/>
<rect x="47.73" y="197.73" width="0.66" height="3.67" fill="#c08a50" opacity="0.03"/>
<rect x="45.50" y="197.98" width="0.86" height="3.97" fill="#c08a50" opacity="0.05"/>
<rect x="47.17" y="197.84" width="0.96" height="4.29" fill="#c08a50" opacity="0.04"/>
<rect x="46.16" y="198.03" width="0.68" height="4.22" fill="#c08a50" opacity="0.04"/>
<rect x="47.34" y="197.80" width="0.52" height="4.46" fill="#c08a50" opacity="0.06"/>
<rect x="43.98" y="198.04" width="1.03" height="4.93" fill="#c08a50" opacity="0.06"/>
<rect x="44.41" y="203.99" width="0.92" height="7.91" fill="#c08a50" opacity="0.15"/>
<rect x="48.71" y="203.61" width="0.73" height="7.13" fill="#c08a50" opacity="0.07"/>
<rect x="46.13" y="204.30" width="0.54" height="6.93" fill="#c08a50" opacity="0.10"/>
<rect x="51.69" y="204.22" width="0.67" height="6.34" fill="#c08a50" opacity="0.06"/>
<rect x="44.30" y="203.52" width="0.80" height="9.41" fill="#c08a50" opacity="0.11"/>
<rect x="47.62" y="203.11" width="0.99" height="9.58" fill="#c08a50" opacity="0.14"/>
<rect x="48.36" y="204.13" width="0.52" height="6.22" fill="#c08a50" opacity="0.16"/>
<rect x="43.82" y="203.08" width="0.92" height="7.70" fill="#c08a50" opacity="0.07"/>
<rect x="43.63" y="203.21" width="0.93" height="9.28" fill="#c08a50" opacity="0.15"/>
<rect x="42.71" y="203.95" width="0.59" height="8.16" fill="#c08a50" opacity="0.07"/>
<rect x="46.90" y="216.44" width="0.56" height="43.10" fill="#c08a50" opacity="0.04"/>
<rect x="46.78" y="219.35" width="0.85" height="18.66" fill="#c08a50" opacity="0.05"/>
<rect x="45.37" y="217.32" width="0.86" height="19.08" fill="#c08a50" opacity="0.07"/>
<rect x="48.30" y="218.99" width="0.53" height="38.44" fill="#c08a50" opacity="0.10"/>
<rect x="42.02" y="218.37" width="0.83" height="36.06" fill="#c08a50" opacity="0.09"/>
<rect x="47.18" y="219.41" width="0.65" height="28.24" fill="#c08a50" opacity="0.05"/>
<rect x="47.45" y="214.84" width="0.94" height="27.58" fill="#c08a50" opacity="0.10"/>
<rect x="49.73" y="218.75" width="0.55" height="40.28" fill="#c08a50" opacity="0.05"/>
<rect x="45.71" y="217.25" width="1.03" height="35.58" fill="#c08a50" opacity="0.11"/>
<rect x="46.45" y="219.21" width="0.52" height="40.82" fill="#c08a50" opacity="0.05"/>
<rect x="36.35" y="203.00" width="22.70" height="10.40" fill="url(#topband)" opacity="0.20"/>
<rect x="36.35" y="213.40" width="22.70" height="20.00" fill="url(#topband)" opacity="0.35"/>
<rect x="36.35" y="263.48" width="22.70" height="0.7" fill="#c09060" opacity="0.05"/>
<rect x="36.35" y="213.04" width="22.70" height="0.7" fill="#c09060" opacity="0.05"/>
<rect x="36.35" y="264.91" width="22.70" height="0.7" fill="#c09060" opacity="0.05"/>
<rect x="36.35" y="254.39" width="22.70" height="0.7" fill="#c09060" opacity="0.03"/>
<rect x="36.35" y="240.84" width="22.70" height="0.7" fill="#c09060" opacity="0.05"/>
<rect x="36.35" y="213.86" width="22.70" height="0.7" fill="#c09060" opacity="0.07"/>
<rect x="36.35" y="240.07" width="22.70" height="0.7" fill="#c09060" opacity="0.05"/>
<rect x="36.35" y="224.29" width="22.70" height="0.7" fill="#c09060" opacity="0.05"/>
<rect x="36.35" y="255.11" width="22.70" height="0.7" fill="#c09060" opacity="0.06"/>
<rect x="36.35" y="253.27" width="22.70" height="0.7" fill="#c09060" opacity="0.05"/>
<rect x="36.35" y="256.53" width="22.70" height="0.7" fill="#c09060" opacity="0.05"/>
<rect x="36.35" y="238.61" width="22.70" height="0.7" fill="#c09060" opacity="0.07"/>
<rect x="36.35" y="248.82" width="22.70" height="0.7" fill="#c09060" opacity="0.05"/>
<rect x="36.35" y="204.31" width="22.70" height="0.7" fill="#c09060" opacity="0.05"/>
<rect x="36.35" y="211.61" width="22.70" height="0.7" fill="#c09060" opacity="0.04"/>
<rect x="36.35" y="259.14" width="22.70" height="0.7" fill="#c09060" opacity="0.05"/>
<rect x="36.35" y="250.22" width="22.70" height="0.7" fill="#c09060" opacity="0.03"/>
<rect x="36.35" y="230.14" width="22.70" height="0.7" fill="#c09060" opacity="0.09"/>
<rect x="36.35" y="240.47" width="22.70" height="0.7" fill="#c09060" opacity="0.06"/>
<rect x="36.35" y="229.82" width="22.70" height="0.7" fill="#c09060" opacity="0.04"/>
<rect x="36.35" y="208.30" width="22.70" height="0.7" fill="#c09060" opacity="0.06"/>
<rect x="36.35" y="223.52" width="22.70" height="0.7" fill="#c09060" opacity="0.06"/>
<rect x="36.35" y="258.52" width="22.70" height="0.7" fill="#c09060" opacity="0.03"/>
<rect x="36.35" y="215.18" width="22.70" height="0.7" fill="#c09060" opacity="0.06"/>
<rect x="36.35" y="208.78" width="22.70" height="0.7" fill="#c09060" opacity="0.07"/>
<rect x="36.35" y="213.87" width="22.70" height="0.7" fill="#c09060" opacity="0.08"/>
<rect x="36.35" y="199.82" width="22.70" height="0.7" fill="#c09060" opacity="0.13"/>
<rect x="36.35" y="223.13" width="22.70" height="0.7" fill="#c09060" opacity="0.11"/>
</g></g>
<line x1="36.35" y1="197.60" x2="59.05" y2="197.60" stroke="#aaa6a2" stroke-width="0.8"/>
<line x1="36.35" y1="266.80" x2="59.05" y2="266.80" stroke="#8f8b88" stroke-width="1.0"/>
<line x1="36.35" y1="197.20" x2="36.35" y2="267.30" stroke="#7f7b78" stroke-width="1.1"/>
<line x1="59.05" y1="197.20" x2="59.05" y2="267.30" stroke="#7f7b78" stroke-width="1.1"/>
<line x1="36.35" y1="203.00" x2="59.05" y2="203.00" stroke="#8a8683" stroke-width="0.8"/>
<line x1="36.35" y1="213.40" x2="59.05" y2="213.40" stroke="#8a8683" stroke-width="1.4"/>
<g clip-path="url(#tc2_60)"><g filter="url(#blr)">
<clipPath id="tc2_60"><rect x="60.10" y="197.60" width="22.70" height="69.20"/></clipPath>
<rect x="60.10" y="197.60" width="22.70" height="69.20" fill="#fbf8f3"/>
<rect x="60.10" y="197.60" width="22.70" height="2.75" fill="url(#st)" opacity="0.14"/>
<rect x="60.10" y="200.30" width="22.70" height="2.75" fill="url(#st)" opacity="0.13"/>
<rect x="60.10" y="203.00" width="22.70" height="2.65" fill="url(#st)" opacity="0.26"/>
<rect x="60.10" y="205.60" width="22.70" height="2.65" fill="url(#st)" opacity="0.35"/>
<rect x="60.10" y="208.20" width="22.70" height="2.65" fill="url(#st)" opacity="0.35"/>
<rect x="60.10" y="210.80" width="22.70" height="2.65" fill="url(#st)" opacity="0.34"/>
<rect x="60.10" y="213.40" width="22.70" height="2.27" fill="url(#st)" opacity="0.45"/>
<rect x="60.10" y="215.62" width="22.70" height="2.27" fill="url(#st)" opacity="0.46"/>
<rect x="60.10" y="217.85" width="22.70" height="2.27" fill="url(#st)" opacity="0.35"/>
<rect x="60.10" y="220.08" width="22.70" height="2.27" fill="url(#st)" opacity="0.29"/>
<rect x="60.10" y="222.30" width="22.70" height="2.27" fill="url(#st)" opacity="0.27"/>
<rect x="60.10" y="224.53" width="22.70" height="2.27" fill="url(#st)" opacity="0.25"/>
<rect x="60.10" y="226.75" width="22.70" height="2.27" fill="url(#st)" opacity="0.22"/>
<rect x="60.10" y="228.97" width="22.70" height="2.27" fill="url(#st)" opacity="0.20"/>
<rect x="60.10" y="231.20" width="22.70" height="2.27" fill="url(#st)" opacity="0.14"/>
<rect x="60.10" y="233.43" width="22.70" height="2.27" fill="url(#st)" opacity="0.19"/>
<rect x="60.10" y="235.65" width="22.70" height="2.27" fill="url(#st)" opacity="0.15"/>
<rect x="60.10" y="237.88" width="22.70" height="2.27" fill="url(#st)" opacity="0.15"/>
<rect x="60.10" y="240.10" width="22.70" height="2.27" fill="url(#st)" opacity="0.13"/>
<rect x="60.10" y="242.33" width="22.70" height="2.27" fill="url(#st)" opacity="0.13"/>
<rect x="60.10" y="244.55" width="22.70" height="2.27" fill="url(#st)" opacity="0.12"/>
<rect x="60.10" y="246.78" width="22.70" height="2.27" fill="url(#st)" opacity="0.10"/>
<rect x="60.10" y="249.00" width="22.70" height="2.27" fill="url(#st)" opacity="0.12"/>
<rect x="60.10" y="251.23" width="22.70" height="2.27" fill="url(#st)" opacity="0.12"/>
<rect x="60.10" y="253.45" width="22.70" height="2.27" fill="url(#st)" opacity="0.10"/>
<rect x="60.10" y="255.68" width="22.70" height="2.27" fill="url(#st)" opacity="0.09"/>
<rect x="60.10" y="257.90" width="22.70" height="2.27" fill="url(#st)" opacity="0.10"/>
<rect x="60.10" y="260.12" width="22.70" height="2.27" fill="url(#st)" opacity="0.10"/>
<rect x="60.10" y="262.35" width="22.70" height="2.27" fill="url(#st)" opacity="0.11"/>
<rect x="60.10" y="264.57" width="22.70" height="2.27" fill="url(#st)" opacity="0.10"/>
<rect x="74.95" y="197.64" width="0.75" height="4.48" fill="#c08a50" opacity="0.06"/>
<rect x="72.60" y="197.88" width="0.81" height="4.96" fill="#c08a50" opacity="0.02"/>
<rect x="73.16" y="197.64" width="1.06" height="4.96" fill="#c08a50" opacity="0.02"/>
<rect x="69.42" y="197.65" width="0.74" height="4.94" fill="#c08a50" opacity="0.04"/>
<rect x="70.92" y="198.39" width="0.52" height="4.32" fill="#c08a50" opacity="0.04"/>
<rect x="71.81" y="198.03" width="0.74" height="4.83" fill="#c08a50" opacity="0.03"/>
<rect x="73.26" y="198.08" width="1.05" height="3.53" fill="#c08a50" opacity="0.03"/>
<rect x="73.08" y="198.04" width="0.51" height="4.17" fill="#c08a50" opacity="0.04"/>
<rect x="68.58" y="198.34" width="0.94" height="4.16" fill="#c08a50" opacity="0.04"/>
<rect x="73.30" y="197.78" width="1.00" height="5.03" fill="#c08a50" opacity="0.03"/>
<rect x="74.47" y="203.49" width="0.99" height="9.51" fill="#c08a50" opacity="0.05"/>
<rect x="73.29" y="203.13" width="0.65" height="8.93" fill="#c08a50" opacity="0.09"/>
<rect x="71.01" y="203.07" width="0.92" height="9.70" fill="#c08a50" opacity="0.07"/>
<rect x="71.94" y="203.15" width="0.72" height="8.93" fill="#c08a50" opacity="0.07"/>
<rect x="70.98" y="204.02" width="1.04" height="7.01" fill="#c08a50" opacity="0.09"/>
<rect x="68.01" y="204.27" width="0.77" height="7.08" fill="#c08a50" opacity="0.13"/>
<rect x="70.61" y="204.27" width="0.66" height="7.94" fill="#c08a50" opacity="0.05"/>
<rect x="67.49" y="203.26" width="0.54" height="9.32" fill="#c08a50" opacity="0.10"/>
<rect x="70.78" y="203.87" width="0.96" height="9.45" fill="#c08a50" opacity="0.04"/>
<rect x="72.01" y="203.56" width="0.58" height="7.16" fill="#c08a50" opacity="0.13"/>
<rect x="69.74" y="216.30" width="0.76" height="36.34" fill="#c08a50" opacity="0.04"/>
<rect x="69.90" y="220.02" width="0.85" height="22.03" fill="#c08a50" opacity="0.04"/>
<rect x="69.54" y="216.97" width="0.93" height="19.43" fill="#c08a50" opacity="0.10"/>
<rect x="70.89" y="215.94" width="0.57" height="21.09" fill="#c08a50" opacity="0.07"/>
<rect x="68.60" y="220.90" width="0.96" height="26.34" fill="#c08a50" opacity="0.12"/>
<rect x="72.06" y="214.23" width="0.86" height="25.49" fill="#c08a50" opacity="0.07"/>
<rect x="77.47" y="218.02" width="0.52" height="30.57" fill="#c08a50" opacity="0.11"/>
<rect x="73.22" y="215.13" width="0.74" height="38.94" fill="#c08a50" opacity="0.05"/>
<rect x="68.89" y="215.33" width="0.95" height="36.73" fill="#c08a50" opacity="0.06"/>
<rect x="70.04" y="220.13" width="1.09" height="18.64" fill="#c08a50" opacity="0.09"/>
<rect x="60.10" y="203.00" width="22.70" height="10.40" fill="url(#topband)" opacity="0.15"/>
<rect x="60.10" y="213.40" width="22.70" height="20.00" fill="url(#topband)" opacity="0.30"/>
<rect x="60.10" y="225.34" width="22.70" height="0.7" fill="#c09060" opacity="0.04"/>
<rect x="60.10" y="255.15" width="22.70" height="0.7" fill="#c09060" opacity="0.05"/>
<rect x="60.10" y="200.21" width="22.70" height="0.7" fill="#c09060" opacity="0.06"/>
<rect x="60.10" y="204.43" width="22.70" height="0.7" fill="#c09060" opacity="0.10"/>
<rect x="60.10" y="259.89" width="22.70" height="0.7" fill="#c09060" opacity="0.03"/>
<rect x="60.10" y="252.75" width="22.70" height="0.7" fill="#c09060" opacity="0.04"/>
<rect x="60.10" y="244.86" width="22.70" height="0.7" fill="#c09060" opacity="0.07"/>
<rect x="60.10" y="240.72" width="22.70" height="0.7" fill="#c09060" opacity="0.08"/>
<rect x="60.10" y="223.65" width="22.70" height="0.7" fill="#c09060" opacity="0.04"/>
<rect x="60.10" y="233.01" width="22.70" height="0.7" fill="#c09060" opacity="0.07"/>
<rect x="60.10" y="210.38" width="22.70" height="0.7" fill="#c09060" opacity="0.07"/>
<rect x="60.10" y="219.55" width="22.70" height="0.7" fill="#c09060" opacity="0.04"/>
<rect x="60.10" y="219.20" width="22.70" height="0.7" fill="#c09060" opacity="0.06"/>
<rect x="60.10" y="230.55" width="22.70" height="0.7" fill="#c09060" opacity="0.08"/>
<rect x="60.10" y="225.22" width="22.70" height="0.7" fill="#c09060" opacity="0.10"/>
<rect x="60.10" y="254.03" width="22.70" height="0.7" fill="#c09060" opacity="0.07"/>
<rect x="60.10" y="245.54" width="22.70" height="0.7" fill="#c09060" opacity="0.06"/>
<rect x="60.10" y="234.74" width="22.70" height="0.7" fill="#c09060" opacity="0.08"/>
<rect x="60.10" y="222.71" width="22.70" height="0.7" fill="#c09060" opacity="0.08"/>
<rect x="60.10" y="244.62" width="22.70" height="0.7" fill="#c09060" opacity="0.06"/>
<rect x="60.10" y="217.26" width="22.70" height="0.7" fill="#c09060" opacity="0.04"/>
<rect x="60.10" y="203.64" width="22.70" height="0.7" fill="#c09060" opacity="0.07"/>
<rect x="60.10" y="237.76" width="22.70" height="0.7" fill="#c09060" opacity="0.08"/>
<rect x="60.10" y="247.04" width="22.70" height="0.7" fill="#c09060" opacity="0.04"/>
<rect x="60.10" y="261.90" width="22.70" height="0.7" fill="#c09060" opacity="0.03"/>
</g></g>
<line x1="60.10" y1="197.60" x2="82.80" y2="197.60" stroke="#aaa6a2" stroke-width="0.8"/>
<line x1="60.10" y1="266.80" x2="82.80" y2="266.80" stroke="#8f8b88" stroke-width="1.0"/>
<line x1="60.10" y1="197.20" x2="60.10" y2="267.30" stroke="#7f7b78" stroke-width="1.1"/>
<line x1="82.80" y1="197.20" x2="82.80" y2="267.30" stroke="#7f7b78" stroke-width="1.1"/>
<line x1="60.10" y1="203.00" x2="82.80" y2="203.00" stroke="#8a8683" stroke-width="0.8"/>
<line x1="60.10" y1="213.40" x2="82.80" y2="213.40" stroke="#8a8683" stroke-width="1.4"/>
<g clip-path="url(#tc3_83)"><g filter="url(#blr)">
<clipPath id="tc3_83"><rect x="83.85" y="197.60" width="22.70" height="69.20"/></clipPath>
<rect x="83.85" y="197.60" width="22.70" height="69.20" fill="#fbf8f3"/>
<rect x="83.85" y="197.60" width="22.70" height="2.75" fill="url(#st)" opacity="0.24"/>
<rect x="83.85" y="200.30" width="22.70" height="2.75" fill="url(#st)" opacity="0.20"/>
<rect x="83.85" y="203.00" width="22.70" height="2.65" fill="url(#st)" opacity="0.34"/>
<rect x="83.85" y="205.60" width="22.70" height="2.65" fill="url(#st)" opacity="0.28"/>
<rect x="83.85" y="208.20" width="22.70" height="2.65" fill="url(#st)" opacity="0.38"/>
<rect x="83.85" y="210.80" width="22.70" height="2.65" fill="url(#st)" opacity="0.29"/>
<rect x="83.85" y="213.40" width="22.70" height="2.27" fill="url(#st)" opacity="0.82"/>
<rect x="83.85" y="215.62" width="22.70" height="2.27" fill="url(#st)" opacity="0.63"/>
<rect x="83.85" y="217.85" width="22.70" height="2.27" fill="url(#st)" opacity="0.66"/>
<rect x="83.85" y="220.08" width="22.70" height="2.27" fill="url(#st)" opacity="0.51"/>
<rect x="83.85" y="222.30" width="22.70" height="2.27" fill="url(#st)" opacity="0.54"/>
<rect x="83.85" y="224.53" width="22.70" height="2.27" fill="url(#st)" opacity="0.52"/>
<rect x="83.85" y="226.75" width="22.70" height="2.27" fill="url(#st)" opacity="0.44"/>
<rect x="83.85" y="228.97" width="22.70" height="2.27" fill="url(#st)" opacity="0.36"/>
<rect x="83.85" y="231.20" width="22.70" height="2.27" fill="url(#st)" opacity="0.39"/>
<rect x="83.85" y="233.43" width="22.70" height="2.27" fill="url(#st)" opacity="0.32"/>
<rect x="83.85" y="235.65" width="22.70" height="2.27" fill="url(#st)" opacity="0.30"/>
<rect x="83.85" y="237.88" width="22.70" height="2.27" fill="url(#st)" opacity="0.29"/>
<rect x="83.85" y="240.10" width="22.70" height="2.27" fill="url(#st)" opacity="0.26"/>
<rect x="83.85" y="242.33" width="22.70" height="2.27" fill="url(#st)" opacity="0.27"/>
<rect x="83.85" y="244.55" width="22.70" height="2.27" fill="url(#st)" opacity="0.22"/>
<rect x="83.85" y="246.78" width="22.70" height="2.27" fill="url(#st)" opacity="0.20"/>
<rect x="83.85" y="249.00" width="22.70" height="2.27" fill="url(#st)" opacity="0.26"/>
<rect x="83.85" y="251.23" width="22.70" height="2.27" fill="url(#st)" opacity="0.21"/>
<rect x="83.85" y="253.45" width="22.70" height="2.27" fill="url(#st)" opacity="0.21"/>
<rect x="83.85" y="255.68" width="22.70" height="2.27" fill="url(#st)" opacity="0.23"/>
<rect x="83.85" y="257.90" width="22.70" height="2.27" fill="url(#st)" opacity="0.21"/>
<rect x="83.85" y="260.12" width="22.70" height="2.27" fill="url(#st)" opacity="0.19"/>
<rect x="83.85" y="262.35" width="22.70" height="2.27" fill="url(#st)" opacity="0.21"/>
<rect x="83.85" y="264.57" width="22.70" height="2.27" fill="url(#st)" opacity="0.19"/>
<rect x="96.12" y="197.82" width="0.68" height="4.18" fill="#c08a50" opacity="0.08"/>
<rect x="93.82" y="198.11" width="0.60" height="3.65" fill="#c08a50" opacity="0.04"/>
<rect x="97.56" y="198.31" width="1.00" height="3.51" fill="#c08a50" opacity="0.05"/>
<rect x="96.01" y="198.03" width="0.76" height="3.51" fill="#c08a50" opacity="0.05"/>
<rect x="94.03" y="197.75" width="1.08" height="5.20" fill="#c08a50" opacity="0.03"/>
<rect x="97.99" y="198.09" width="0.84" height="4.61" fill="#c08a50" opacity="0.04"/>
<rect x="91.88" y="198.19" width="0.91" height="4.71" fill="#c08a50" opacity="0.06"/>
<rect x="92.76" y="198.38" width="1.00" height="4.11" fill="#c08a50" opacity="0.08"/>
<rect x="91.52" y="198.16" width="0.64" height="3.47" fill="#c08a50" opacity="0.06"/>
<rect x="90.58" y="197.76" width="0.56" height="4.99" fill="#c08a50" opacity="0.03"/>
<rect x="96.84" y="204.18" width="0.56" height="6.92" fill="#c08a50" opacity="0.11"/>
<rect x="97.42" y="204.11" width="0.98" height="6.40" fill="#c08a50" opacity="0.13"/>
<rect x="90.53" y="203.16" width="0.56" height="10.04" fill="#c08a50" opacity="0.06"/>
<rect x="90.44" y="203.72" width="0.72" height="7.56" fill="#c08a50" opacity="0.11"/>
<rect x="96.90" y="203.59" width="0.83" height="9.45" fill="#c08a50" opacity="0.09"/>
<rect x="96.06" y="204.07" width="0.72" height="7.79" fill="#c08a50" opacity="0.13"/>
<rect x="95.60" y="204.13" width="0.96" height="8.35" fill="#c08a50" opacity="0.05"/>
<rect x="94.49" y="203.55" width="0.79" height="7.55" fill="#c08a50" opacity="0.12"/>
<rect x="93.33" y="204.09" width="0.80" height="6.85" fill="#c08a50" opacity="0.09"/>
<rect x="96.20" y="203.53" width="0.68" height="7.23" fill="#c08a50" opacity="0.09"/>
<rect x="97.26" y="218.74" width="0.64" height="40.76" fill="#c08a50" opacity="0.11"/>
<rect x="95.70" y="217.23" width="0.56" height="17.94" fill="#c08a50" opacity="0.16"/>
<rect x="90.70" y="216.25" width="0.56" height="23.56" fill="#c08a50" opacity="0.07"/>
<rect x="98.39" y="216.29" width="0.96" height="44.73" fill="#c08a50" opacity="0.11"/>
<rect x="92.52" y="213.83" width="0.81" height="41.80" fill="#c08a50" opacity="0.23"/>
<rect x="95.43" y="217.18" width="0.77" height="42.00" fill="#c08a50" opacity="0.11"/>
<rect x="98.31" y="213.82" width="0.80" height="37.15" fill="#c08a50" opacity="0.19"/>
<rect x="93.79" y="218.15" width="0.76" height="19.21" fill="#c08a50" opacity="0.17"/>
<rect x="94.52" y="219.56" width="0.51" height="30.86" fill="#c08a50" opacity="0.21"/>
<rect x="94.21" y="220.73" width="1.00" height="30.62" fill="#c08a50" opacity="0.23"/>
<rect x="83.85" y="203.00" width="22.70" height="10.40" fill="url(#topband)" opacity="0.20"/>
<rect x="83.85" y="213.40" width="22.70" height="20.00" fill="url(#topband)" opacity="0.95"/>
<rect x="83.85" y="249.93" width="22.70" height="0.7" fill="#c09060" opacity="0.09"/>
<rect x="83.85" y="207.86" width="22.70" height="0.7" fill="#c09060" opacity="0.14"/>
<rect x="83.85" y="226.81" width="22.70" height="0.7" fill="#c09060" opacity="0.13"/>
<rect x="83.85" y="266.40" width="22.70" height="0.7" fill="#c09060" opacity="0.04"/>
<rect x="83.85" y="226.76" width="22.70" height="0.7" fill="#c09060" opacity="0.07"/>
<rect x="83.85" y="230.11" width="22.70" height="0.7" fill="#c09060" opacity="0.07"/>
<rect x="83.85" y="243.72" width="22.70" height="0.7" fill="#c09060" opacity="0.05"/>
<rect x="83.85" y="209.31" width="22.70" height="0.7" fill="#c09060" opacity="0.10"/>
<rect x="83.85" y="202.71" width="22.70" height="0.7" fill="#c09060" opacity="0.10"/>
<rect x="83.85" y="259.70" width="22.70" height="0.7" fill="#c09060" opacity="0.08"/>
<rect x="83.85" y="211.20" width="22.70" height="0.7" fill="#c09060" opacity="0.05"/>
<rect x="83.85" y="254.92" width="22.70" height="0.7" fill="#c09060" opacity="0.09"/>
<rect x="83.85" y="239.04" width="22.70" height="0.7" fill="#c09060" opacity="0.05"/>
<rect x="83.85" y="213.97" width="22.70" height="0.7" fill="#c09060" opacity="0.14"/>
<rect x="83.85" y="262.48" width="22.70" height="0.7" fill="#c09060" opacity="0.03"/>
<rect x="83.85" y="210.39" width="22.70" height="0.7" fill="#c09060" opacity="0.10"/>
<rect x="83.85" y="216.06" width="22.70" height="0.7" fill="#c09060" opacity="0.12"/>
<rect x="83.85" y="223.41" width="22.70" height="0.7" fill="#c09060" opacity="0.12"/>
<rect x="83.85" y="208.12" width="22.70" height="0.7" fill="#c09060" opacity="0.11"/>
<rect x="83.85" y="265.07" width="22.70" height="0.7" fill="#c09060" opacity="0.06"/>
<rect x="83.85" y="203.83" width="22.70" height="0.7" fill="#c09060" opacity="0.07"/>
<rect x="83.85" y="242.13" width="22.70" height="0.7" fill="#c09060" opacity="0.07"/>
<rect x="83.85" y="223.11" width="22.70" height="0.7" fill="#c09060" opacity="0.09"/>
<rect x="83.85" y="237.85" width="22.70" height="0.7" fill="#c09060" opacity="0.12"/>
<rect x="83.85" y="214.27" width="22.70" height="0.7" fill="#c09060" opacity="0.11"/>
<rect x="83.85" y="215.80" width="22.70" height="0.7" fill="#c09060" opacity="0.10"/>
<rect x="83.85" y="248.22" width="22.70" height="0.7" fill="#c09060" opacity="0.04"/>
<rect x="83.85" y="230.90" width="22.70" height="0.7" fill="#c09060" opacity="0.10"/>
<rect x="83.85" y="198.16" width="22.70" height="0.7" fill="#c09060" opacity="0.15"/>
<rect x="83.85" y="226.58" width="22.70" height="0.7" fill="#c09060" opacity="0.09"/>
<rect x="83.85" y="239.85" width="22.70" height="0.7" fill="#c09060" opacity="0.10"/>
<rect x="83.85" y="201.48" width="22.70" height="0.7" fill="#c09060" opacity="0.11"/>
<rect x="83.85" y="200.25" width="22.70" height="0.7" fill="#c09060" opacity="0.10"/>
<rect x="83.85" y="221.53" width="22.70" height="0.7" fill="#c09060" opacity="0.05"/>
<rect x="83.85" y="218.20" width="22.70" height="0.7" fill="#c09060" opacity="0.09"/>
<rect x="83.85" y="242.92" width="22.70" height="0.7" fill="#c09060" opacity="0.11"/>
<rect x="83.85" y="223.24" width="22.70" height="0.7" fill="#c09060" opacity="0.10"/>
<rect x="83.85" y="246.95" width="22.70" height="0.7" fill="#c09060" opacity="0.10"/>
<rect x="83.85" y="263.32" width="22.70" height="0.7" fill="#c09060" opacity="0.08"/>
<rect x="83.85" y="218.48" width="22.70" height="0.7" fill="#c09060" opacity="0.06"/>
<rect x="83.85" y="262.09" width="22.70" height="0.7" fill="#c09060" opacity="0.03"/>
<rect x="83.85" y="228.65" width="22.70" height="0.7" fill="#c09060" opacity="0.11"/>
<rect x="83.85" y="234.19" width="22.70" height="0.7" fill="#c09060" opacity="0.07"/>
<rect x="83.85" y="261.58" width="22.70" height="0.7" fill="#c09060" opacity="0.05"/>
<rect x="83.85" y="235.78" width="22.70" height="0.7" fill="#c09060" opacity="0.11"/>
<rect x="83.85" y="207.15" width="22.70" height="0.7" fill="#c09060" opacity="0.09"/>
<rect x="83.85" y="231.80" width="22.70" height="0.7" fill="#c09060" opacity="0.09"/>
</g></g>
<line x1="83.85" y1="197.60" x2="106.55" y2="197.60" stroke="#aaa6a2" stroke-width="0.8"/>
<line x1="83.85" y1="266.80" x2="106.55" y2="266.80" stroke="#8f8b88" stroke-width="1.0"/>
<line x1="83.85" y1="197.20" x2="83.85" y2="267.30" stroke="#7f7b78" stroke-width="1.1"/>
<line x1="106.55" y1="197.20" x2="106.55" y2="267.30" stroke="#7f7b78" stroke-width="1.1"/>
<line x1="83.85" y1="203.00" x2="106.55" y2="203.00" stroke="#8a8683" stroke-width="0.8"/>
<line x1="83.85" y1="213.40" x2="106.55" y2="213.40" stroke="#8a8683" stroke-width="1.4"/>
<g clip-path="url(#tc4_107)"><g filter="url(#blr)">
<clipPath id="tc4_107"><rect x="107.60" y="197.60" width="22.70" height="69.20"/></clipPath>
<rect x="107.60" y="197.60" width="22.70" height="69.20" fill="#fbf8f3"/>
<rect x="107.60" y="197.60" width="22.70" height="2.75" fill="url(#st)" opacity="0.30"/>
<rect x="107.60" y="200.30" width="22.70" height="2.75" fill="url(#st)" opacity="0.29"/>
<rect x="107.60" y="203.00" width="22.70" height="2.65" fill="url(#st)" opacity="0.51"/>
<rect x="107.60" y="205.60" width="22.70" height="2.65" fill="url(#st)" opacity="0.47"/>
<rect x="107.60" y="208.20" width="22.70" height="2.65" fill="url(#st)" opacity="0.42"/>
<rect x="107.60" y="210.80" width="22.70" height="2.65" fill="url(#st)" opacity="0.43"/>
<rect x="107.60" y="213.40" width="22.70" height="2.27" fill="url(#st)" opacity="0.60"/>
<rect x="107.60" y="215.62" width="22.70" height="2.27" fill="url(#st)" opacity="0.47"/>
<rect x="107.60" y="217.85" width="22.70" height="2.27" fill="url(#st)" opacity="0.41"/>
<rect x="107.60" y="220.08" width="22.70" height="2.27" fill="url(#st)" opacity="0.43"/>
<rect x="107.60" y="222.30" width="22.70" height="2.27" fill="url(#st)" opacity="0.32"/>
<rect x="107.60" y="224.53" width="22.70" height="2.27" fill="url(#st)" opacity="0.27"/>
<rect x="107.60" y="226.75" width="22.70" height="2.27" fill="url(#st)" opacity="0.28"/>
<rect x="107.60" y="228.97" width="22.70" height="2.27" fill="url(#st)" opacity="0.21"/>
<rect x="107.60" y="231.20" width="22.70" height="2.27" fill="url(#st)" opacity="0.19"/>
<rect x="107.60" y="233.43" width="22.70" height="2.27" fill="url(#st)" opacity="0.22"/>
<rect x="107.60" y="235.65" width="22.70" height="2.27" fill="url(#st)" opacity="0.19"/>
<rect x="107.60" y="237.88" width="22.70" height="2.27" fill="url(#st)" opacity="0.19"/>
<rect x="107.60" y="240.10" width="22.70" height="2.27" fill="url(#st)" opacity="0.18"/>
<rect x="107.60" y="242.33" width="22.70" height="2.27" fill="url(#st)" opacity="0.15"/>
<rect x="107.60" y="244.55" width="22.70" height="2.27" fill="url(#st)" opacity="0.16"/>
<rect x="107.60" y="246.78" width="22.70" height="2.27" fill="url(#st)" opacity="0.14"/>
<rect x="107.60" y="249.00" width="22.70" height="2.27" fill="url(#st)" opacity="0.14"/>
<rect x="107.60" y="251.23" width="22.70" height="2.27" fill="url(#st)" opacity="0.14"/>
<rect x="107.60" y="253.45" width="22.70" height="2.27" fill="url(#st)" opacity="0.13"/>
<rect x="107.60" y="255.68" width="22.70" height="2.27" fill="url(#st)" opacity="0.12"/>
<rect x="107.60" y="257.90" width="22.70" height="2.27" fill="url(#st)" opacity="0.13"/>
<rect x="107.60" y="260.12" width="22.70" height="2.27" fill="url(#st)" opacity="0.13"/>
<rect x="107.60" y="262.35" width="22.70" height="2.27" fill="url(#st)" opacity="0.13"/>
<rect x="107.60" y="264.57" width="22.70" height="2.27" fill="url(#st)" opacity="0.11"/>
<rect x="119.00" y="197.70" width="0.85" height="4.14" fill="#c08a50" opacity="0.08"/>
<rect x="118.02" y="197.78" width="0.87" height="3.68" fill="#c08a50" opacity="0.04"/>
<rect x="122.02" y="197.65" width="0.56" height="4.60" fill="#c08a50" opacity="0.08"/>
<rect x="119.86" y="198.18" width="1.04" height="4.70" fill="#c08a50" opacity="0.08"/>
<rect x="119.15" y="197.81" width="0.95" height="4.71" fill="#c08a50" opacity="0.03"/>
<rect x="117.46" y="198.02" width="0.95" height="3.52" fill="#c08a50" opacity="0.07"/>
<rect x="119.56" y="198.37" width="0.66" height="4.30" fill="#c08a50" opacity="0.04"/>
<rect x="119.98" y="197.66" width="0.71" height="4.65" fill="#c08a50" opacity="0.08"/>
<rect x="117.79" y="198.00" width="0.58" height="3.89" fill="#c08a50" opacity="0.07"/>
<rect x="117.32" y="198.34" width="0.84" height="4.43" fill="#c08a50" opacity="0.05"/>
<rect x="115.46" y="203.87" width="1.04" height="7.47" fill="#c08a50" opacity="0.11"/>
<rect x="118.58" y="204.30" width="0.97" height="8.18" fill="#c08a50" opacity="0.07"/>
<rect x="118.30" y="203.41" width="1.03" height="8.02" fill="#c08a50" opacity="0.13"/>
<rect x="120.67" y="203.18" width="1.07" height="7.82" fill="#c08a50" opacity="0.10"/>
<rect x="121.15" y="203.91" width="1.01" height="9.34" fill="#c08a50" opacity="0.18"/>
<rect x="120.63" y="203.99" width="0.73" height="7.15" fill="#c08a50" opacity="0.09"/>
<rect x="116.87" y="203.10" width="0.56" height="8.06" fill="#c08a50" opacity="0.11"/>
<rect x="119.61" y="203.10" width="1.02" height="9.36" fill="#c08a50" opacity="0.08"/>
<rect x="122.41" y="203.79" width="1.04" height="9.29" fill="#c08a50" opacity="0.11"/>
<rect x="117.15" y="203.04" width="0.64" height="8.60" fill="#c08a50" opacity="0.09"/>
<rect x="120.66" y="220.98" width="1.06" height="28.04" fill="#c08a50" opacity="0.05"/>
<rect x="120.27" y="214.32" width="0.96" height="32.79" fill="#c08a50" opacity="0.05"/>
<rect x="121.56" y="215.58" width="0.76" height="31.17" fill="#c08a50" opacity="0.14"/>
<rect x="118.33" y="215.08" width="0.76" height="32.64" fill="#c08a50" opacity="0.14"/>
<rect x="115.92" y="216.01" width="1.05" height="23.80" fill="#c08a50" opacity="0.10"/>
<rect x="120.96" y="213.83" width="0.58" height="22.56" fill="#c08a50" opacity="0.09"/>
<rect x="113.50" y="217.41" width="0.84" height="36.47" fill="#c08a50" opacity="0.12"/>
<rect x="120.50" y="217.17" width="0.65" height="24.04" fill="#c08a50" opacity="0.10"/>
<rect x="119.57" y="219.24" width="0.92" height="39.48" fill="#c08a50" opacity="0.14"/>
<rect x="119.87" y="214.74" width="0.58" height="44.32" fill="#c08a50" opacity="0.09"/>
<rect x="107.60" y="203.00" width="22.70" height="10.40" fill="url(#topband)" opacity="0.25"/>
<rect x="107.60" y="213.40" width="22.70" height="20.00" fill="url(#topband)" opacity="0.50"/>
<rect x="107.60" y="240.48" width="22.70" height="0.7" fill="#c09060" opacity="0.09"/>
<rect x="107.60" y="208.89" width="22.70" height="0.7" fill="#c09060" opacity="0.10"/>
<rect x="107.60" y="204.88" width="22.70" height="0.7" fill="#c09060" opacity="0.10"/>
<rect x="107.60" y="215.03" width="22.70" height="0.7" fill="#c09060" opacity="0.07"/>
<rect x="107.60" y="201.23" width="22.70" height="0.7" fill="#c09060" opacity="0.11"/>
<rect x="107.60" y="206.06" width="22.70" height="0.7" fill="#c09060" opacity="0.11"/>
<rect x="107.60" y="220.88" width="22.70" height="0.7" fill="#c09060" opacity="0.09"/>
<rect x="107.60" y="241.83" width="22.70" height="0.7" fill="#c09060" opacity="0.06"/>
<rect x="107.60" y="258.06" width="22.70" height="0.7" fill="#c09060" opacity="0.07"/>
<rect x="107.60" y="217.12" width="22.70" height="0.7" fill="#c09060" opacity="0.07"/>
<rect x="107.60" y="258.28" width="22.70" height="0.7" fill="#c09060" opacity="0.03"/>
<rect x="107.60" y="226.67" width="22.70" height="0.7" fill="#c09060" opacity="0.07"/>
<rect x="107.60" y="265.17" width="22.70" height="0.7" fill="#c09060" opacity="0.03"/>
<rect x="107.60" y="242.93" width="22.70" height="0.7" fill="#c09060" opacity="0.08"/>
<rect x="107.60" y="248.00" width="22.70" height="0.7" fill="#c09060" opacity="0.03"/>
<rect x="107.60" y="262.90" width="22.70" height="0.7" fill="#c09060" opacity="0.04"/>
<rect x="107.60" y="256.63" width="22.70" height="0.7" fill="#c09060" opacity="0.06"/>
<rect x="107.60" y="226.72" width="22.70" height="0.7" fill="#c09060" opacity="0.10"/>
<rect x="107.60" y="244.36" width="22.70" height="0.7" fill="#c09060" opacity="0.05"/>
<rect x="107.60" y="248.24" width="22.70" height="0.7" fill="#c09060" opacity="0.06"/>
<rect x="107.60" y="246.84" width="22.70" height="0.7" fill="#c09060" opacity="0.07"/>
<rect x="107.60" y="252.68" width="22.70" height="0.7" fill="#c09060" opacity="0.04"/>
<rect x="107.60" y="231.82" width="22.70" height="0.7" fill="#c09060" opacity="0.04"/>
<rect x="107.60" y="252.32" width="22.70" height="0.7" fill="#c09060" opacity="0.07"/>
<rect x="107.60" y="255.53" width="22.70" height="0.7" fill="#c09060" opacity="0.03"/>
<rect x="107.60" y="234.64" width="22.70" height="0.7" fill="#c09060" opacity="0.07"/>
<rect x="107.60" y="205.87" width="22.70" height="0.7" fill="#c09060" opacity="0.06"/>
<rect x="107.60" y="265.03" width="22.70" height="0.7" fill="#c09060" opacity="0.06"/>
<rect x="107.60" y="214.08" width="22.70" height="0.7" fill="#c09060" opacity="0.11"/>
<rect x="107.60" y="242.65" width="22.70" height="0.7" fill="#c09060" opacity="0.05"/>
<rect x="107.60" y="242.22" width="22.70" height="0.7" fill="#c09060" opacity="0.05"/>
</g></g>
<line x1="107.60" y1="197.60" x2="130.30" y2="197.60" stroke="#aaa6a2" stroke-width="0.8"/>
<line x1="107.60" y1="266.80" x2="130.30" y2="266.80" stroke="#8f8b88" stroke-width="1.0"/>
<line x1="107.60" y1="197.20" x2="107.60" y2="267.30" stroke="#7f7b78" stroke-width="1.1"/>
<line x1="130.30" y1="197.20" x2="130.30" y2="267.30" stroke="#7f7b78" stroke-width="1.1"/>
<line x1="107.60" y1="203.00" x2="130.30" y2="203.00" stroke="#8a8683" stroke-width="0.8"/>
<line x1="107.60" y1="213.40" x2="130.30" y2="213.40" stroke="#8a8683" stroke-width="1.4"/>
<g clip-path="url(#tc5_131)"><g filter="url(#blr)">
<clipPath id="tc5_131"><rect x="131.35" y="197.60" width="22.70" height="69.20"/></clipPath>
<rect x="131.35" y="197.60" width="22.70" height="69.20" fill="#fbf8f3"/>
<rect x="131.35" y="197.60" width="22.70" height="2.75" fill="url(#st)" opacity="0.42"/>
<rect x="131.35" y="200.30" width="22.70" height="2.75" fill="url(#st)" opacity="0.38"/>
<rect x="131.35" y="203.00" width="22.70" height="2.65" fill="url(#st)" opacity="0.50"/>
<rect x="131.35" y="205.60" width="22.70" height="2.65" fill="url(#st)" opacity="0.46"/>
<rect x="131.35" y="208.20" width="22.70" height="2.65" fill="url(#st)" opacity="0.49"/>
<rect x="131.35" y="210.80" width="22.70" height="2.65" fill="url(#st)" opacity="0.41"/>
<rect x="131.35" y="213.40" width="22.70" height="2.27" fill="url(#st)" opacity="0.86"/>
<rect x="131.35" y="215.62" width="22.70" height="2.27" fill="url(#st)" opacity="0.84"/>
<rect x="131.35" y="217.85" width="22.70" height="2.27" fill="url(#st)" opacity="0.71"/>
<rect x="131.35" y="220.08" width="22.70" height="2.27" fill="url(#st)" opacity="0.58"/>
<rect x="131.35" y="222.30" width="22.70" height="2.27" fill="url(#st)" opacity="0.49"/>
<rect x="131.35" y="224.53" width="22.70" height="2.27" fill="url(#st)" opacity="0.47"/>
<rect x="131.35" y="226.75" width="22.70" height="2.27" fill="url(#st)" opacity="0.40"/>
<rect x="131.35" y="228.97" width="22.70" height="2.27" fill="url(#st)" opacity="0.45"/>
<rect x="131.35" y="231.20" width="22.70" height="2.27" fill="url(#st)" opacity="0.43"/>
<rect x="131.35" y="233.43" width="22.70" height="2.27" fill="url(#st)" opacity="0.39"/>
<rect x="131.35" y="235.65" width="22.70" height="2.27" fill="url(#st)" opacity="0.36"/>
<rect x="131.35" y="237.88" width="22.70" height="2.27" fill="url(#st)" opacity="0.32"/>
<rect x="131.35" y="240.10" width="22.70" height="2.27" fill="url(#st)" opacity="0.33"/>
<rect x="131.35" y="242.33" width="22.70" height="2.27" fill="url(#st)" opacity="0.31"/>
<rect x="131.35" y="244.55" width="22.70" height="2.27" fill="url(#st)" opacity="0.30"/>
<rect x="131.35" y="246.78" width="22.70" height="2.27" fill="url(#st)" opacity="0.28"/>
<rect x="131.35" y="249.00" width="22.70" height="2.27" fill="url(#st)" opacity="0.25"/>
<rect x="131.35" y="251.23" width="22.70" height="2.27" fill="url(#st)" opacity="0.29"/>
<rect x="131.35" y="253.45" width="22.70" height="2.27" fill="url(#st)" opacity="0.28"/>
<rect x="131.35" y="255.68" width="22.70" height="2.27" fill="url(#st)" opacity="0.24"/>
<rect x="131.35" y="257.90" width="22.70" height="2.27" fill="url(#st)" opacity="0.26"/>
<rect x="131.35" y="260.12" width="22.70" height="2.27" fill="url(#st)" opacity="0.26"/>
<rect x="131.35" y="262.35" width="22.70" height="2.27" fill="url(#st)" opacity="0.27"/>
<rect x="131.35" y="264.57" width="22.70" height="2.27" fill="url(#st)" opacity="0.22"/>
<rect x="139.02" y="198.18" width="0.87" height="3.44" fill="#c08a50" opacity="0.12"/>
<rect x="139.25" y="198.32" width="0.51" height="3.08" fill="#c08a50" opacity="0.07"/>
<rect x="144.42" y="197.90" width="0.56" height="4.96" fill="#c08a50" opacity="0.07"/>
<rect x="143.33" y="197.95" width="0.50" height="4.57" fill="#c08a50" opacity="0.13"/>
<rect x="141.06" y="198.32" width="1.07" height="3.56" fill="#c08a50" opacity="0.07"/>
<rect x="143.26" y="197.97" width="0.74" height="4.37" fill="#c08a50" opacity="0.05"/>
<rect x="138.30" y="198.30" width="0.92" height="3.60" fill="#c08a50" opacity="0.13"/>
<rect x="143.32" y="198.34" width="1.02" height="3.37" fill="#c08a50" opacity="0.09"/>
<rect x="140.30" y="198.18" width="1.03" height="4.10" fill="#c08a50" opacity="0.07"/>
<rect x="139.39" y="197.80" width="0.70" height="4.09" fill="#c08a50" opacity="0.13"/>
<rect x="143.25" y="203.57" width="1.00" height="9.53" fill="#c08a50" opacity="0.14"/>
<rect x="145.11" y="203.22" width="0.72" height="9.28" fill="#c08a50" opacity="0.06"/>
<rect x="143.92" y="203.01" width="0.56" height="8.67" fill="#c08a50" opacity="0.19"/>
<rect x="144.23" y="203.51" width="1.00" height="7.01" fill="#c08a50" opacity="0.07"/>
<rect x="142.60" y="203.94" width="0.54" height="7.10" fill="#c08a50" opacity="0.13"/>
<rect x="142.44" y="203.70" width="0.98" height="6.83" fill="#c08a50" opacity="0.15"/>
<rect x="140.89" y="203.69" width="0.76" height="7.15" fill="#c08a50" opacity="0.09"/>
<rect x="142.02" y="204.27" width="0.68" height="8.90" fill="#c08a50" opacity="0.14"/>
<rect x="142.95" y="203.15" width="0.86" height="7.97" fill="#c08a50" opacity="0.12"/>
<rect x="145.84" y="204.34" width="0.69" height="6.63" fill="#c08a50" opacity="0.10"/>
<rect x="141.75" y="214.06" width="0.81" height="30.29" fill="#c08a50" opacity="0.24"/>
<rect x="141.15" y="213.73" width="0.88" height="34.03" fill="#c08a50" opacity="0.16"/>
<rect x="141.08" y="217.00" width="0.67" height="42.56" fill="#c08a50" opacity="0.19"/>
<rect x="142.86" y="215.73" width="0.65" height="43.31" fill="#c08a50" opacity="0.13"/>
<rect x="144.23" y="216.17" width="0.56" height="20.06" fill="#c08a50" opacity="0.09"/>
<rect x="141.51" y="215.07" width="0.71" height="28.18" fill="#c08a50" opacity="0.16"/>
<rect x="146.25" y="218.90" width="0.70" height="30.47" fill="#c08a50" opacity="0.23"/>
<rect x="145.20" y="215.23" width="0.53" height="38.61" fill="#c08a50" opacity="0.12"/>
<rect x="143.59" y="217.46" width="0.71" height="21.42" fill="#c08a50" opacity="0.17"/>
<rect x="139.76" y="218.66" width="0.77" height="26.38" fill="#c08a50" opacity="0.15"/>
<rect x="131.35" y="203.00" width="22.70" height="10.40" fill="url(#topband)" opacity="0.30"/>
<rect x="131.35" y="213.40" width="22.70" height="20.00" fill="url(#topband)" opacity="1.00"/>
<rect x="131.35" y="227.10" width="22.70" height="0.7" fill="#c09060" opacity="0.06"/>
<rect x="131.35" y="227.98" width="22.70" height="0.7" fill="#c09060" opacity="0.12"/>
<rect x="131.35" y="218.78" width="22.70" height="0.7" fill="#c09060" opacity="0.08"/>
<rect x="131.35" y="239.35" width="22.70" height="0.7" fill="#c09060" opacity="0.08"/>
<rect x="131.35" y="209.73" width="22.70" height="0.7" fill="#c09060" opacity="0.10"/>
<rect x="131.35" y="248.39" width="22.70" height="0.7" fill="#c09060" opacity="0.04"/>
<rect x="131.35" y="205.13" width="22.70" height="0.7" fill="#c09060" opacity="0.14"/>
<rect x="131.35" y="260.24" width="22.70" height="0.7" fill="#c09060" opacity="0.03"/>
<rect x="131.35" y="203.24" width="22.70" height="0.7" fill="#c09060" opacity="0.12"/>
<rect x="131.35" y="217.29" width="22.70" height="0.7" fill="#c09060" opacity="0.11"/>
<rect x="131.35" y="199.97" width="22.70" height="0.7" fill="#c09060" opacity="0.11"/>
<rect x="131.35" y="208.79" width="22.70" height="0.7" fill="#c09060" opacity="0.09"/>
<rect x="131.35" y="245.59" width="22.70" height="0.7" fill="#c09060" opacity="0.07"/>
<rect x="131.35" y="256.66" width="22.70" height="0.7" fill="#c09060" opacity="0.08"/>
<rect x="131.35" y="240.46" width="22.70" height="0.7" fill="#c09060" opacity="0.10"/>
<rect x="131.35" y="209.88" width="22.70" height="0.7" fill="#c09060" opacity="0.10"/>
<rect x="131.35" y="219.71" width="22.70" height="0.7" fill="#c09060" opacity="0.11"/>
<rect x="131.35" y="205.30" width="22.70" height="0.7" fill="#c09060" opacity="0.15"/>
<rect x="131.35" y="223.24" width="22.70" height="0.7" fill="#c09060" opacity="0.12"/>
<rect x="131.35" y="262.84" width="22.70" height="0.7" fill="#c09060" opacity="0.08"/>
<rect x="131.35" y="224.60" width="22.70" height="0.7" fill="#c09060" opacity="0.12"/>
<rect x="131.35" y="266.59" width="22.70" height="0.7" fill="#c09060" opacity="0.03"/>
<rect x="131.35" y="249.32" width="22.70" height="0.7" fill="#c09060" opacity="0.08"/>
<rect x="131.35" y="229.27" width="22.70" height="0.7" fill="#c09060" opacity="0.07"/>
<rect x="131.35" y="209.60" width="22.70" height="0.7" fill="#c09060" opacity="0.10"/>
<rect x="131.35" y="262.09" width="22.70" height="0.7" fill="#c09060" opacity="0.05"/>
<rect x="131.35" y="215.27" width="22.70" height="0.7" fill="#c09060" opacity="0.11"/>
<rect x="131.35" y="227.87" width="22.70" height="0.7" fill="#c09060" opacity="0.10"/>
<rect x="131.35" y="229.05" width="22.70" height="0.7" fill="#c09060" opacity="0.07"/>
<rect x="131.35" y="200.06" width="22.70" height="0.7" fill="#c09060" opacity="0.15"/>
<rect x="131.35" y="243.20" width="22.70" height="0.7" fill="#c09060" opacity="0.06"/>
<rect x="131.35" y="232.15" width="22.70" height="0.7" fill="#c09060" opacity="0.09"/>
<rect x="131.35" y="232.45" width="22.70" height="0.7" fill="#c09060" opacity="0.12"/>
<rect x="131.35" y="251.48" width="22.70" height="0.7" fill="#c09060" opacity="0.05"/>
<rect x="131.35" y="221.04" width="22.70" height="0.7" fill="#c09060" opacity="0.10"/>
<rect x="131.35" y="208.83" width="22.70" height="0.7" fill="#c09060" opacity="0.15"/>
<rect x="131.35" y="200.74" width="22.70" height="0.7" fill="#c09060" opacity="0.11"/>
<rect x="131.35" y="216.52" width="22.70" height="0.7" fill="#c09060" opacity="0.10"/>
<rect x="131.35" y="200.76" width="22.70" height="0.7" fill="#c09060" opacity="0.08"/>
<rect x="131.35" y="266.04" width="22.70" height="0.7" fill="#c09060" opacity="0.07"/>
<rect x="131.35" y="212.90" width="22.70" height="0.7" fill="#c09060" opacity="0.10"/>
<rect x="131.35" y="199.85" width="22.70" height="0.7" fill="#c09060" opacity="0.07"/>
<rect x="131.35" y="210.88" width="22.70" height="0.7" fill="#c09060" opacity="0.15"/>
<rect x="131.35" y="219.18" width="22.70" height="0.7" fill="#c09060" opacity="0.07"/>
<rect x="131.35" y="202.12" width="22.70" height="0.7" fill="#c09060" opacity="0.07"/>
<rect x="131.35" y="266.48" width="22.70" height="0.7" fill="#c09060" opacity="0.07"/>
<rect x="131.35" y="261.29" width="22.70" height="0.7" fill="#c09060" opacity="0.08"/>
</g></g>
<line x1="131.35" y1="197.60" x2="154.05" y2="197.60" stroke="#aaa6a2" stroke-width="0.8"/>
<line x1="131.35" y1="266.80" x2="154.05" y2="266.80" stroke="#8f8b88" stroke-width="1.0"/>
<line x1="131.35" y1="197.20" x2="131.35" y2="267.30" stroke="#7f7b78" stroke-width="1.1"/>
<line x1="154.05" y1="197.20" x2="154.05" y2="267.30" stroke="#7f7b78" stroke-width="1.1"/>
<line x1="131.35" y1="203.00" x2="154.05" y2="203.00" stroke="#8a8683" stroke-width="0.8"/>
<line x1="131.35" y1="213.40" x2="154.05" y2="213.40" stroke="#8a8683" stroke-width="1.4"/>
<text x="23.9" y="193.6" font-size="7.15" fill="#222" text-anchor="middle" textLength="10.11" lengthAdjust="spacingAndGlyphs">WT</text>
<text x="47.6" y="193.6" font-size="7.15" fill="#222" text-anchor="middle" textLength="10.47" lengthAdjust="spacingAndGlyphs">ITD</text>
<text x="71.2" y="193.6" font-size="7.15" fill="#222" text-anchor="middle" textLength="18.79" lengthAdjust="spacingAndGlyphs">Runx1</text>
<text x="95.0" y="193.6" font-size="7.15" fill="#222" text-anchor="middle" textLength="21.31" lengthAdjust="spacingAndGlyphs">NHD13</text>
<text x="119.0" y="185.2" font-size="7.15" fill="#222" text-anchor="middle" textLength="12.28" lengthAdjust="spacingAndGlyphs">ITD/</text>
<text x="119.0" y="193.6" font-size="7.15" fill="#222" text-anchor="middle" textLength="18.79" lengthAdjust="spacingAndGlyphs">Runx1</text>
<text x="143.2" y="185.2" font-size="7.15" fill="#222" text-anchor="middle" textLength="12.28" lengthAdjust="spacingAndGlyphs">ITD/</text>
<text x="143.2" y="193.6" font-size="7.15" fill="#222" text-anchor="middle" textLength="21.31" lengthAdjust="spacingAndGlyphs">NHD13</text>
<rect x="156.2" y="197.6" width="1.8" height="5.4" fill="#2b5c9a"/>
<rect x="156.2" y="203.0" width="1.8" height="10.4" fill="#d98a3a"/>
<rect x="156.2" y="213.4" width="1.8" height="53.2" fill="#4fb848"/>
<path d="M158.3,197.6 L164.8,186.2" stroke="#2b5c9a" stroke-width="0.6" fill="none"/>
<path d="M158.3,203.6 L165,201.8" stroke="#d98a3a" stroke-width="0.6" fill="none"/>
<path d="M158.3,213.2 L165,216.3" stroke="#d98a3a" stroke-width="0.6" fill="none"/>
<text x="166.5" y="191.0" font-size="8.03" fill="#2b5c9a" textLength="65" lengthAdjust="spacingAndGlyphs">ITD/NHD13 &gt; both</text>
<text x="166.5" y="199.6" font-size="8.03" fill="#2b5c9a" textLength="71.3" lengthAdjust="spacingAndGlyphs">(Cooperative targets)</text>
<text x="166.5" y="208.9" font-size="8.03" fill="#c98752" textLength="90.3" lengthAdjust="spacingAndGlyphs">ITD/NHD13 &gt; NHD13 only</text>
<text x="166.5" y="218.0" font-size="8.03" fill="#c98752" textLength="41.7" lengthAdjust="spacingAndGlyphs">(ITD targets)</text>
<text x="166.5" y="237.3" font-size="8.03" fill="#4f9f50" textLength="76.5" lengthAdjust="spacingAndGlyphs">ITD/NHD13 &gt; ITD only</text>
<text x="166.5" y="246.3" font-size="8.03" fill="#4f9f50" textLength="55.5" lengthAdjust="spacingAndGlyphs">(NHD13 targets)</text>
<line x1="13.2" y1="266.8" x2="34.6" y2="266.8" stroke="#555" stroke-width="0.8"/>
<line x1="13.2" y1="266.8" x2="13.2" y2="270.2" stroke="#555" stroke-width="0.8"/>
<line x1="23.6" y1="266.8" x2="23.6" y2="270.2" stroke="#555" stroke-width="0.8"/>
<line x1="34.6" y1="266.8" x2="34.6" y2="270.2" stroke="#555" stroke-width="0.8"/>
<text x="12.7" y="277.1" font-size="6.93" fill="#222" text-anchor="middle" textLength="7.18" lengthAdjust="spacingAndGlyphs">&#8722;5</text>
<text x="23.6" y="277.1" font-size="6.93" fill="#222" text-anchor="middle" textLength="3.5" lengthAdjust="spacingAndGlyphs">0</text>
<text x="34.9" y="277.1" font-size="6.93" fill="#222" text-anchor="middle" textLength="7.18" lengthAdjust="spacingAndGlyphs">+5</text>
<line x1="12.899999999999999" y1="280.2" x2="34.9" y2="280.2" stroke="#222" stroke-width="0.8"/>
<text x="25.5" y="287.8" font-size="6.93" fill="#222" text-anchor="middle" textLength="39" lengthAdjust="spacingAndGlyphs">distance from</text>
<text x="25.9" y="294.3" font-size="6.93" fill="#222" text-anchor="middle" textLength="27.5" lengthAdjust="spacingAndGlyphs">peak (kb)</text>
<text x="59.599999999999994" y="278.6" font-size="7.04" fill="#333" textLength="25.2" lengthAdjust="spacingAndGlyphs">H3K27ac</text>
<rect x="56.3" y="281.8" width="31.7" height="7.8" fill="url(#hg)"/>
<text x="55.8" y="297.3" font-size="6.93" fill="#222" text-anchor="middle" textLength="3.5" lengthAdjust="spacingAndGlyphs">0</text>
<text x="86.3" y="297.3" font-size="6.93" fill="#222" text-anchor="middle" textLength="7.01" lengthAdjust="spacingAndGlyphs">15</text>
<text x="272.7" y="172.7" font-size="11.8" font-weight="bold" fill="#111" textLength="7.6" lengthAdjust="spacingAndGlyphs">E</text>
<text x="301.9" y="173.1" font-size="8.36" fill="#222" textLength="106.6" lengthAdjust="spacingAndGlyphs">ITD/Runx1 &gt; WT (FDR&lt;0.1)</text>
<g clip-path="url(#tc0_284)"><g filter="url(#blr)">
<clipPath id="tc0_284"><rect x="284.40" y="197.40" width="22.60" height="69.90"/></clipPath>
<rect x="284.40" y="197.40" width="22.60" height="69.90" fill="#fbf8f3"/>
<rect x="284.40" y="197.40" width="22.60" height="2.39" fill="url(#st)" opacity="0.22"/>
<rect x="284.40" y="199.74" width="22.60" height="2.39" fill="url(#st)" opacity="0.21"/>
<rect x="284.40" y="202.09" width="22.60" height="2.39" fill="url(#st)" opacity="0.25"/>
<rect x="284.40" y="204.43" width="22.60" height="2.39" fill="url(#st)" opacity="0.18"/>
<rect x="284.40" y="206.78" width="22.60" height="2.39" fill="url(#st)" opacity="0.22"/>
<rect x="284.40" y="209.12" width="22.60" height="2.39" fill="url(#st)" opacity="0.17"/>
<rect x="284.40" y="211.47" width="22.60" height="2.39" fill="url(#st)" opacity="0.24"/>
<rect x="284.40" y="213.81" width="22.60" height="2.39" fill="url(#st)" opacity="0.21"/>
<rect x="284.40" y="216.16" width="22.60" height="2.39" fill="url(#st)" opacity="0.23"/>
<rect x="284.40" y="218.50" width="22.60" height="2.33" fill="url(#st)" opacity="0.54"/>
<rect x="284.40" y="220.78" width="22.60" height="2.33" fill="url(#st)" opacity="0.53"/>
<rect x="284.40" y="223.06" width="22.60" height="2.33" fill="url(#st)" opacity="0.46"/>
<rect x="284.40" y="225.34" width="22.60" height="2.33" fill="url(#st)" opacity="0.41"/>
<rect x="284.40" y="227.62" width="22.60" height="2.33" fill="url(#st)" opacity="0.43"/>
<rect x="284.40" y="229.91" width="22.60" height="2.33" fill="url(#st)" opacity="0.35"/>
<rect x="284.40" y="232.19" width="22.60" height="2.33" fill="url(#st)" opacity="0.38"/>
<rect x="284.40" y="234.47" width="22.60" height="2.33" fill="url(#st)" opacity="0.41"/>
<rect x="284.40" y="236.75" width="22.60" height="2.33" fill="url(#st)" opacity="0.37"/>
<rect x="284.40" y="239.03" width="22.60" height="2.33" fill="url(#st)" opacity="0.35"/>
<rect x="284.40" y="241.31" width="22.60" height="2.33" fill="url(#st)" opacity="0.44"/>
<rect x="284.40" y="243.59" width="22.60" height="2.33" fill="url(#st)" opacity="0.36"/>
<rect x="284.40" y="245.88" width="22.60" height="2.33" fill="url(#st)" opacity="0.34"/>
<rect x="284.40" y="248.16" width="22.60" height="2.33" fill="url(#st)" opacity="0.36"/>
<rect x="284.40" y="250.44" width="22.60" height="2.33" fill="url(#st)" opacity="0.34"/>
<rect x="284.40" y="252.72" width="22.60" height="2.33" fill="url(#st)" opacity="0.34"/>
<rect x="284.40" y="255.00" width="22.60" height="2.51" fill="url(#st)" opacity="0.28"/>
<rect x="284.40" y="257.46" width="22.60" height="2.51" fill="url(#st)" opacity="0.34"/>
<rect x="284.40" y="259.92" width="22.60" height="2.51" fill="url(#st)" opacity="0.28"/>
<rect x="284.40" y="262.38" width="22.60" height="2.51" fill="url(#st)" opacity="0.27"/>
<rect x="284.40" y="264.84" width="22.60" height="2.51" fill="url(#st)" opacity="0.27"/>
<rect x="300.20" y="200.44" width="0.67" height="14.64" fill="#c08a50" opacity="0.07"/>
<rect x="294.85" y="200.38" width="0.62" height="13.75" fill="#c08a50" opacity="0.09"/>
<rect x="296.93" y="197.93" width="0.72" height="19.65" fill="#c08a50" opacity="0.03"/>
<rect x="294.11" y="199.31" width="0.68" height="19.17" fill="#c08a50" opacity="0.07"/>
<rect x="294.12" y="198.92" width="0.99" height="17.58" fill="#c08a50" opacity="0.06"/>
<rect x="297.00" y="197.58" width="0.92" height="14.75" fill="#c08a50" opacity="0.03"/>
<rect x="295.44" y="199.89" width="0.51" height="16.29" fill="#c08a50" opacity="0.06"/>
<rect x="290.81" y="197.55" width="0.51" height="19.81" fill="#c08a50" opacity="0.09"/>
<rect x="296.50" y="200.38" width="1.06" height="15.94" fill="#c08a50" opacity="0.05"/>
<rect x="299.10" y="199.85" width="0.81" height="17.96" fill="#c08a50" opacity="0.07"/>
<rect x="296.83" y="223.68" width="0.52" height="26.01" fill="#c08a50" opacity="0.10"/>
<rect x="290.72" y="223.53" width="0.87" height="21.62" fill="#c08a50" opacity="0.18"/>
<rect x="293.36" y="219.47" width="0.69" height="30.45" fill="#c08a50" opacity="0.08"/>
<rect x="294.66" y="223.96" width="0.91" height="24.45" fill="#c08a50" opacity="0.06"/>
<rect x="298.28" y="219.80" width="0.74" height="20.71" fill="#c08a50" opacity="0.17"/>
<rect x="295.07" y="220.81" width="0.77" height="29.52" fill="#c08a50" opacity="0.18"/>
<rect x="297.94" y="219.21" width="1.00" height="18.78" fill="#c08a50" opacity="0.18"/>
<rect x="295.83" y="222.81" width="0.88" height="26.59" fill="#c08a50" opacity="0.11"/>
<rect x="298.10" y="220.98" width="0.68" height="12.13" fill="#c08a50" opacity="0.17"/>
<rect x="298.89" y="220.98" width="1.09" height="21.46" fill="#c08a50" opacity="0.15"/>
<rect x="293.36" y="255.27" width="0.74" height="10.64" fill="#c08a50" opacity="0.11"/>
<rect x="295.42" y="256.16" width="1.08" height="9.30" fill="#c08a50" opacity="0.06"/>
<rect x="296.84" y="256.60" width="0.97" height="9.37" fill="#c08a50" opacity="0.09"/>
<rect x="296.23" y="256.28" width="0.96" height="8.57" fill="#c08a50" opacity="0.09"/>
<rect x="292.92" y="255.90" width="0.67" height="8.56" fill="#c08a50" opacity="0.09"/>
<rect x="298.20" y="256.74" width="0.68" height="8.16" fill="#c08a50" opacity="0.08"/>
<rect x="298.39" y="256.24" width="0.65" height="9.35" fill="#c08a50" opacity="0.10"/>
<rect x="295.48" y="256.47" width="0.89" height="9.54" fill="#c08a50" opacity="0.08"/>
<rect x="295.00" y="256.56" width="0.71" height="7.53" fill="#c08a50" opacity="0.09"/>
<rect x="290.67" y="256.76" width="1.09" height="8.62" fill="#c08a50" opacity="0.07"/>
<rect x="284.40" y="197.40" width="22.60" height="20.00" fill="url(#topband)" opacity="0.10"/>
<rect x="284.40" y="218.50" width="22.60" height="20.00" fill="url(#topband)" opacity="0.30"/>
<rect x="284.40" y="209.02" width="22.60" height="0.7" fill="#c09060" opacity="0.12"/>
<rect x="284.40" y="262.92" width="22.60" height="0.7" fill="#c09060" opacity="0.05"/>
<rect x="284.40" y="245.73" width="22.60" height="0.7" fill="#c09060" opacity="0.07"/>
<rect x="284.40" y="248.45" width="22.60" height="0.7" fill="#c09060" opacity="0.04"/>
<rect x="284.40" y="251.95" width="22.60" height="0.7" fill="#c09060" opacity="0.06"/>
<rect x="284.40" y="243.92" width="22.60" height="0.7" fill="#c09060" opacity="0.06"/>
<rect x="284.40" y="241.00" width="22.60" height="0.7" fill="#c09060" opacity="0.08"/>
<rect x="284.40" y="241.92" width="22.60" height="0.7" fill="#c09060" opacity="0.08"/>
<rect x="284.40" y="199.33" width="22.60" height="0.7" fill="#c09060" opacity="0.06"/>
<rect x="284.40" y="228.23" width="22.60" height="0.7" fill="#c09060" opacity="0.08"/>
<rect x="284.40" y="212.71" width="22.60" height="0.7" fill="#c09060" opacity="0.10"/>
<rect x="284.40" y="241.50" width="22.60" height="0.7" fill="#c09060" opacity="0.03"/>
<rect x="284.40" y="230.36" width="22.60" height="0.7" fill="#c09060" opacity="0.05"/>
<rect x="284.40" y="201.18" width="22.60" height="0.7" fill="#c09060" opacity="0.06"/>
<rect x="284.40" y="219.58" width="22.60" height="0.7" fill="#c09060" opacity="0.05"/>
<rect x="284.40" y="210.92" width="22.60" height="0.7" fill="#c09060" opacity="0.05"/>
<rect x="284.40" y="229.93" width="22.60" height="0.7" fill="#c09060" opacity="0.06"/>
<rect x="284.40" y="240.16" width="22.60" height="0.7" fill="#c09060" opacity="0.07"/>
<rect x="284.40" y="214.03" width="22.60" height="0.7" fill="#c09060" opacity="0.12"/>
<rect x="284.40" y="197.45" width="22.60" height="0.7" fill="#c09060" opacity="0.09"/>
<rect x="284.40" y="216.87" width="22.60" height="0.7" fill="#c09060" opacity="0.07"/>
<rect x="284.40" y="205.44" width="22.60" height="0.7" fill="#c09060" opacity="0.12"/>
<rect x="284.40" y="223.53" width="22.60" height="0.7" fill="#c09060" opacity="0.04"/>
<rect x="284.40" y="240.29" width="22.60" height="0.7" fill="#c09060" opacity="0.04"/>
<rect x="284.40" y="235.51" width="22.60" height="0.7" fill="#c09060" opacity="0.06"/>
<rect x="284.40" y="238.00" width="22.60" height="0.7" fill="#c09060" opacity="0.10"/>
<rect x="284.40" y="254.61" width="22.60" height="0.7" fill="#c09060" opacity="0.05"/>
<rect x="284.40" y="254.23" width="22.60" height="0.7" fill="#c09060" opacity="0.06"/>
<rect x="284.40" y="223.22" width="22.60" height="0.7" fill="#c09060" opacity="0.05"/>
<rect x="284.40" y="239.06" width="22.60" height="0.7" fill="#c09060" opacity="0.07"/>
<rect x="284.40" y="264.31" width="22.60" height="0.7" fill="#c09060" opacity="0.07"/>
</g></g>
<line x1="284.40" y1="197.40" x2="307.00" y2="197.40" stroke="#aaa6a2" stroke-width="0.8"/>
<line x1="284.40" y1="267.30" x2="307.00" y2="267.30" stroke="#8f8b88" stroke-width="1.0"/>
<line x1="284.40" y1="197.00" x2="284.40" y2="267.80" stroke="#7f7b78" stroke-width="1.1"/>
<line x1="307.00" y1="197.00" x2="307.00" y2="267.80" stroke="#7f7b78" stroke-width="1.1"/>
<line x1="284.40" y1="218.50" x2="307.00" y2="218.50" stroke="#8a8683" stroke-width="1.2"/>
<line x1="284.40" y1="255.00" x2="307.00" y2="255.00" stroke="#8a8683" stroke-width="1.2"/>
<g clip-path="url(#tc1_308)"><g filter="url(#blr)">
<clipPath id="tc1_308"><rect x="308.02" y="197.40" width="22.60" height="69.90"/></clipPath>
<rect x="308.02" y="197.40" width="22.60" height="69.90" fill="#fbf8f3"/>
<rect x="308.02" y="197.40" width="22.60" height="2.39" fill="url(#st)" opacity="0.28"/>
<rect x="308.02" y="199.74" width="22.60" height="2.39" fill="url(#st)" opacity="0.27"/>
<rect x="308.02" y="202.09" width="22.60" height="2.39" fill="url(#st)" opacity="0.29"/>
<rect x="308.02" y="204.43" width="22.60" height="2.39" fill="url(#st)" opacity="0.28"/>
<rect x="308.02" y="206.78" width="22.60" height="2.39" fill="url(#st)" opacity="0.30"/>
<rect x="308.02" y="209.12" width="22.60" height="2.39" fill="url(#st)" opacity="0.29"/>
<rect x="308.02" y="211.47" width="22.60" height="2.39" fill="url(#st)" opacity="0.25"/>
<rect x="308.02" y="213.81" width="22.60" height="2.39" fill="url(#st)" opacity="0.25"/>
<rect x="308.02" y="216.16" width="22.60" height="2.39" fill="url(#st)" opacity="0.22"/>
<rect x="308.02" y="218.50" width="22.60" height="2.33" fill="url(#st)" opacity="0.79"/>
<rect x="308.02" y="220.78" width="22.60" height="2.33" fill="url(#st)" opacity="0.76"/>
<rect x="308.02" y="223.06" width="22.60" height="2.33" fill="url(#st)" opacity="0.80"/>
<rect x="308.02" y="225.34" width="22.60" height="2.33" fill="url(#st)" opacity="0.69"/>
<rect x="308.02" y="227.62" width="22.60" height="2.33" fill="url(#st)" opacity="0.69"/>
<rect x="308.02" y="229.91" width="22.60" height="2.33" fill="url(#st)" opacity="0.66"/>
<rect x="308.02" y="232.19" width="22.60" height="2.33" fill="url(#st)" opacity="0.57"/>
<rect x="308.02" y="234.47" width="22.60" height="2.33" fill="url(#st)" opacity="0.68"/>
<rect x="308.02" y="236.75" width="22.60" height="2.33" fill="url(#st)" opacity="0.52"/>
<rect x="308.02" y="239.03" width="22.60" height="2.33" fill="url(#st)" opacity="0.50"/>
<rect x="308.02" y="241.31" width="22.60" height="2.33" fill="url(#st)" opacity="0.50"/>
<rect x="308.02" y="243.59" width="22.60" height="2.33" fill="url(#st)" opacity="0.58"/>
<rect x="308.02" y="245.88" width="22.60" height="2.33" fill="url(#st)" opacity="0.51"/>
<rect x="308.02" y="248.16" width="22.60" height="2.33" fill="url(#st)" opacity="0.47"/>
<rect x="308.02" y="250.44" width="22.60" height="2.33" fill="url(#st)" opacity="0.53"/>
<rect x="308.02" y="252.72" width="22.60" height="2.33" fill="url(#st)" opacity="0.56"/>
<rect x="308.02" y="255.00" width="22.60" height="2.51" fill="url(#st)" opacity="0.34"/>
<rect x="308.02" y="257.46" width="22.60" height="2.51" fill="url(#st)" opacity="0.33"/>
<rect x="308.02" y="259.92" width="22.60" height="2.51" fill="url(#st)" opacity="0.36"/>
<rect x="308.02" y="262.38" width="22.60" height="2.51" fill="url(#st)" opacity="0.35"/>
<rect x="308.02" y="264.84" width="22.60" height="2.51" fill="url(#st)" opacity="0.33"/>
<rect x="316.96" y="200.02" width="0.97" height="18.40" fill="#c08a50" opacity="0.07"/>
<rect x="319.68" y="200.36" width="0.66" height="13.19" fill="#c08a50" opacity="0.05"/>
<rect x="318.62" y="198.33" width="1.09" height="16.32" fill="#c08a50" opacity="0.07"/>
<rect x="320.26" y="199.31" width="0.89" height="14.48" fill="#c08a50" opacity="0.04"/>
<rect x="319.04" y="198.46" width="0.82" height="18.16" fill="#c08a50" opacity="0.07"/>
<rect x="316.91" y="198.54" width="0.78" height="15.24" fill="#c08a50" opacity="0.08"/>
<rect x="320.72" y="200.30" width="0.77" height="12.58" fill="#c08a50" opacity="0.08"/>
<rect x="319.48" y="199.86" width="0.51" height="15.93" fill="#c08a50" opacity="0.08"/>
<rect x="318.04" y="200.29" width="0.79" height="15.77" fill="#c08a50" opacity="0.06"/>
<rect x="315.54" y="198.02" width="1.01" height="18.60" fill="#c08a50" opacity="0.10"/>
<rect x="323.04" y="220.87" width="0.92" height="25.25" fill="#c08a50" opacity="0.25"/>
<rect x="320.64" y="219.28" width="1.05" height="23.34" fill="#c08a50" opacity="0.21"/>
<rect x="316.87" y="221.71" width="0.59" height="14.83" fill="#c08a50" opacity="0.10"/>
<rect x="319.03" y="222.99" width="0.64" height="13.91" fill="#c08a50" opacity="0.23"/>
<rect x="322.57" y="223.97" width="1.09" height="14.59" fill="#c08a50" opacity="0.10"/>
<rect x="319.43" y="219.70" width="1.01" height="19.86" fill="#c08a50" opacity="0.29"/>
<rect x="318.68" y="223.53" width="0.68" height="25.09" fill="#c08a50" opacity="0.22"/>
<rect x="317.69" y="219.38" width="0.75" height="20.61" fill="#c08a50" opacity="0.10"/>
<rect x="320.87" y="218.82" width="0.54" height="22.04" fill="#c08a50" opacity="0.25"/>
<rect x="320.28" y="219.24" width="1.03" height="24.24" fill="#c08a50" opacity="0.16"/>
<rect x="316.54" y="255.69" width="1.06" height="11.40" fill="#c08a50" opacity="0.10"/>
<rect x="317.39" y="256.16" width="0.59" height="9.27" fill="#c08a50" opacity="0.12"/>
<rect x="315.85" y="256.02" width="0.66" height="10.34" fill="#c08a50" opacity="0.11"/>
<rect x="317.78" y="255.25" width="0.81" height="11.19" fill="#c08a50" opacity="0.07"/>
<rect x="318.73" y="256.21" width="0.93" height="10.78" fill="#c08a50" opacity="0.10"/>
<rect x="317.54" y="255.23" width="0.55" height="9.88" fill="#c08a50" opacity="0.06"/>
<rect x="320.94" y="256.47" width="0.69" height="10.72" fill="#c08a50" opacity="0.10"/>
<rect x="317.14" y="255.28" width="0.53" height="8.51" fill="#c08a50" opacity="0.10"/>
<rect x="318.98" y="256.23" width="1.08" height="8.04" fill="#c08a50" opacity="0.05"/>
<rect x="320.06" y="255.65" width="0.87" height="10.78" fill="#c08a50" opacity="0.07"/>
<rect x="308.02" y="197.40" width="22.60" height="20.00" fill="url(#topband)" opacity="0.10"/>
<rect x="308.02" y="218.50" width="22.60" height="20.00" fill="url(#topband)" opacity="0.50"/>
<rect x="308.02" y="240.30" width="22.60" height="0.7" fill="#c09060" opacity="0.06"/>
<rect x="308.02" y="224.36" width="22.60" height="0.7" fill="#c09060" opacity="0.05"/>
<rect x="308.02" y="255.49" width="22.60" height="0.7" fill="#c09060" opacity="0.07"/>
<rect x="308.02" y="253.63" width="22.60" height="0.7" fill="#c09060" opacity="0.06"/>
<rect x="308.02" y="256.93" width="22.60" height="0.7" fill="#c09060" opacity="0.06"/>
<rect x="308.02" y="238.82" width="22.60" height="0.7" fill="#c09060" opacity="0.08"/>
<rect x="308.02" y="249.14" width="22.60" height="0.7" fill="#c09060" opacity="0.06"/>
<rect x="308.02" y="204.18" width="22.60" height="0.7" fill="#c09060" opacity="0.05"/>
<rect x="308.02" y="211.55" width="22.60" height="0.7" fill="#c09060" opacity="0.05"/>
<rect x="308.02" y="259.56" width="22.60" height="0.7" fill="#c09060" opacity="0.05"/>
<rect x="308.02" y="250.55" width="22.60" height="0.7" fill="#c09060" opacity="0.03"/>
<rect x="308.02" y="230.27" width="22.60" height="0.7" fill="#c09060" opacity="0.11"/>
<rect x="308.02" y="240.70" width="22.60" height="0.7" fill="#c09060" opacity="0.07"/>
<rect x="308.02" y="229.94" width="22.60" height="0.7" fill="#c09060" opacity="0.05"/>
<rect x="308.02" y="208.21" width="22.60" height="0.7" fill="#c09060" opacity="0.07"/>
<rect x="308.02" y="223.59" width="22.60" height="0.7" fill="#c09060" opacity="0.08"/>
<rect x="308.02" y="258.94" width="22.60" height="0.7" fill="#c09060" opacity="0.04"/>
<rect x="308.02" y="215.16" width="22.60" height="0.7" fill="#c09060" opacity="0.07"/>
<rect x="308.02" y="208.69" width="22.60" height="0.7" fill="#c09060" opacity="0.08"/>
<rect x="308.02" y="213.84" width="22.60" height="0.7" fill="#c09060" opacity="0.09"/>
<rect x="308.02" y="199.64" width="22.60" height="0.7" fill="#c09060" opacity="0.15"/>
<rect x="308.02" y="223.19" width="22.60" height="0.7" fill="#c09060" opacity="0.12"/>
<rect x="308.02" y="245.47" width="22.60" height="0.7" fill="#c09060" opacity="0.08"/>
<rect x="308.02" y="230.37" width="22.60" height="0.7" fill="#c09060" opacity="0.12"/>
<rect x="308.02" y="205.64" width="22.60" height="0.7" fill="#c09060" opacity="0.12"/>
<rect x="308.02" y="217.75" width="22.60" height="0.7" fill="#c09060" opacity="0.11"/>
<rect x="308.02" y="248.38" width="22.60" height="0.7" fill="#c09060" opacity="0.04"/>
<rect x="308.02" y="211.45" width="22.60" height="0.7" fill="#c09060" opacity="0.05"/>
<rect x="308.02" y="213.51" width="22.60" height="0.7" fill="#c09060" opacity="0.05"/>
<rect x="308.02" y="225.43" width="22.60" height="0.7" fill="#c09060" opacity="0.12"/>
<rect x="308.02" y="222.86" width="22.60" height="0.7" fill="#c09060" opacity="0.07"/>
<rect x="308.02" y="230.12" width="22.60" height="0.7" fill="#c09060" opacity="0.06"/>
<rect x="308.02" y="248.59" width="22.60" height="0.7" fill="#c09060" opacity="0.08"/>
<rect x="308.02" y="208.82" width="22.60" height="0.7" fill="#c09060" opacity="0.07"/>
<rect x="308.02" y="244.39" width="22.60" height="0.7" fill="#c09060" opacity="0.10"/>
<rect x="308.02" y="242.55" width="22.60" height="0.7" fill="#c09060" opacity="0.06"/>
<rect x="308.02" y="265.58" width="22.60" height="0.7" fill="#c09060" opacity="0.03"/>
<rect x="308.02" y="201.65" width="22.60" height="0.7" fill="#c09060" opacity="0.13"/>
<rect x="308.02" y="226.07" width="22.60" height="0.7" fill="#c09060" opacity="0.05"/>
<rect x="308.02" y="235.73" width="22.60" height="0.7" fill="#c09060" opacity="0.11"/>
<rect x="308.02" y="233.67" width="22.60" height="0.7" fill="#c09060" opacity="0.07"/>
</g></g>
<line x1="308.02" y1="197.40" x2="330.62" y2="197.40" stroke="#aaa6a2" stroke-width="0.8"/>
<line x1="308.02" y1="267.30" x2="330.62" y2="267.30" stroke="#8f8b88" stroke-width="1.0"/>
<line x1="308.02" y1="197.00" x2="308.02" y2="267.80" stroke="#7f7b78" stroke-width="1.1"/>
<line x1="330.62" y1="197.00" x2="330.62" y2="267.80" stroke="#7f7b78" stroke-width="1.1"/>
<line x1="308.02" y1="218.50" x2="330.62" y2="218.50" stroke="#8a8683" stroke-width="1.2"/>
<line x1="308.02" y1="255.00" x2="330.62" y2="255.00" stroke="#8a8683" stroke-width="1.2"/>
<g clip-path="url(#tc2_331)"><g filter="url(#blr)">
<clipPath id="tc2_331"><rect x="331.64" y="197.40" width="22.60" height="69.90"/></clipPath>
<rect x="331.64" y="197.40" width="22.60" height="69.90" fill="#fbf8f3"/>
<rect x="331.64" y="197.40" width="22.60" height="2.39" fill="url(#st)" opacity="0.26"/>
<rect x="331.64" y="199.74" width="22.60" height="2.39" fill="url(#st)" opacity="0.25"/>
<rect x="331.64" y="202.09" width="22.60" height="2.39" fill="url(#st)" opacity="0.26"/>
<rect x="331.64" y="204.43" width="22.60" height="2.39" fill="url(#st)" opacity="0.21"/>
<rect x="331.64" y="206.78" width="22.60" height="2.39" fill="url(#st)" opacity="0.23"/>
<rect x="331.64" y="209.12" width="22.60" height="2.39" fill="url(#st)" opacity="0.22"/>
<rect x="331.64" y="211.47" width="22.60" height="2.39" fill="url(#st)" opacity="0.21"/>
<rect x="331.64" y="213.81" width="22.60" height="2.39" fill="url(#st)" opacity="0.22"/>
<rect x="331.64" y="216.16" width="22.60" height="2.39" fill="url(#st)" opacity="0.20"/>
<rect x="331.64" y="218.50" width="22.60" height="2.33" fill="url(#st)" opacity="0.53"/>
<rect x="331.64" y="220.78" width="22.60" height="2.33" fill="url(#st)" opacity="0.48"/>
<rect x="331.64" y="223.06" width="22.60" height="2.33" fill="url(#st)" opacity="0.49"/>
<rect x="331.64" y="225.34" width="22.60" height="2.33" fill="url(#st)" opacity="0.42"/>
<rect x="331.64" y="227.62" width="22.60" height="2.33" fill="url(#st)" opacity="0.42"/>
<rect x="331.64" y="229.91" width="22.60" height="2.33" fill="url(#st)" opacity="0.49"/>
<rect x="331.64" y="232.19" width="22.60" height="2.33" fill="url(#st)" opacity="0.41"/>
<rect x="331.64" y="234.47" width="22.60" height="2.33" fill="url(#st)" opacity="0.39"/>
<rect x="331.64" y="236.75" width="22.60" height="2.33" fill="url(#st)" opacity="0.41"/>
<rect x="331.64" y="239.03" width="22.60" height="2.33" fill="url(#st)" opacity="0.33"/>
<rect x="331.64" y="241.31" width="22.60" height="2.33" fill="url(#st)" opacity="0.39"/>
<rect x="331.64" y="243.59" width="22.60" height="2.33" fill="url(#st)" opacity="0.38"/>
<rect x="331.64" y="245.88" width="22.60" height="2.33" fill="url(#st)" opacity="0.37"/>
<rect x="331.64" y="248.16" width="22.60" height="2.33" fill="url(#st)" opacity="0.39"/>
<rect x="331.64" y="250.44" width="22.60" height="2.33" fill="url(#st)" opacity="0.38"/>
<rect x="331.64" y="252.72" width="22.60" height="2.33" fill="url(#st)" opacity="0.39"/>
<rect x="331.64" y="255.00" width="22.60" height="2.51" fill="url(#st)" opacity="0.28"/>
<rect x="331.64" y="257.46" width="22.60" height="2.51" fill="url(#st)" opacity="0.30"/>
<rect x="331.64" y="259.92" width="22.60" height="2.51" fill="url(#st)" opacity="0.26"/>
<rect x="331.64" y="262.38" width="22.60" height="2.51" fill="url(#st)" opacity="0.30"/>
<rect x="331.64" y="264.84" width="22.60" height="2.51" fill="url(#st)" opacity="0.26"/>
<rect x="339.46" y="199.38" width="0.73" height="14.53" fill="#c08a50" opacity="0.08"/>
<rect x="342.86" y="198.82" width="0.68" height="14.45" fill="#c08a50" opacity="0.04"/>
<rect x="344.21" y="199.84" width="0.55" height="13.47" fill="#c08a50" opacity="0.05"/>
<rect x="344.03" y="197.66" width="0.58" height="19.29" fill="#c08a50" opacity="0.03"/>
<rect x="339.78" y="197.59" width="0.65" height="16.47" fill="#c08a50" opacity="0.03"/>
<rect x="343.99" y="198.31" width="0.62" height="17.83" fill="#c08a50" opacity="0.03"/>
<rect x="340.63" y="199.16" width="0.95" height="13.67" fill="#c08a50" opacity="0.07"/>
<rect x="343.46" y="199.22" width="0.96" height="16.48" fill="#c08a50" opacity="0.08"/>
<rect x="339.13" y="199.62" width="0.94" height="17.19" fill="#c08a50" opacity="0.08"/>
<rect x="337.63" y="197.81" width="0.73" height="20.27" fill="#c08a50" opacity="0.04"/>
<rect x="342.32" y="218.85" width="0.67" height="18.56" fill="#c08a50" opacity="0.12"/>
<rect x="346.27" y="218.78" width="0.52" height="30.20" fill="#c08a50" opacity="0.10"/>
<rect x="346.24" y="219.77" width="0.87" height="23.76" fill="#c08a50" opacity="0.10"/>
<rect x="338.07" y="218.57" width="0.70" height="22.12" fill="#c08a50" opacity="0.16"/>
<rect x="342.38" y="219.44" width="0.82" height="18.97" fill="#c08a50" opacity="0.11"/>
<rect x="341.35" y="222.85" width="1.06" height="26.34" fill="#c08a50" opacity="0.09"/>
<rect x="344.86" y="220.92" width="0.76" height="16.43" fill="#c08a50" opacity="0.17"/>
<rect x="341.17" y="223.81" width="0.82" height="16.66" fill="#c08a50" opacity="0.07"/>
<rect x="343.66" y="223.85" width="0.53" height="26.90" fill="#c08a50" opacity="0.13"/>
<rect x="340.24" y="223.33" width="0.79" height="20.86" fill="#c08a50" opacity="0.08"/>
<rect x="342.25" y="255.66" width="0.84" height="8.87" fill="#c08a50" opacity="0.05"/>
<rect x="344.17" y="255.46" width="0.71" height="8.22" fill="#c08a50" opacity="0.10"/>
<rect x="344.52" y="255.26" width="0.74" height="8.97" fill="#c08a50" opacity="0.07"/>
<rect x="339.98" y="255.31" width="0.52" height="11.62" fill="#c08a50" opacity="0.09"/>
<rect x="343.75" y="255.60" width="0.98" height="9.18" fill="#c08a50" opacity="0.10"/>
<rect x="341.56" y="256.48" width="0.87" height="9.43" fill="#c08a50" opacity="0.03"/>
<rect x="339.45" y="255.72" width="0.61" height="10.41" fill="#c08a50" opacity="0.04"/>
<rect x="342.36" y="255.71" width="0.69" height="9.84" fill="#c08a50" opacity="0.09"/>
<rect x="336.95" y="256.70" width="0.99" height="8.04" fill="#c08a50" opacity="0.08"/>
<rect x="346.57" y="256.47" width="0.82" height="9.49" fill="#c08a50" opacity="0.08"/>
<rect x="331.64" y="197.40" width="22.60" height="20.00" fill="url(#topband)" opacity="0.10"/>
<rect x="331.64" y="218.50" width="22.60" height="20.00" fill="url(#topband)" opacity="0.30"/>
<rect x="331.64" y="244.89" width="22.60" height="0.7" fill="#c09060" opacity="0.06"/>
<rect x="331.64" y="217.26" width="22.60" height="0.7" fill="#c09060" opacity="0.05"/>
<rect x="331.64" y="203.50" width="22.60" height="0.7" fill="#c09060" opacity="0.08"/>
<rect x="331.64" y="237.97" width="22.60" height="0.7" fill="#c09060" opacity="0.08"/>
<rect x="331.64" y="247.34" width="22.60" height="0.7" fill="#c09060" opacity="0.05"/>
<rect x="331.64" y="262.35" width="22.60" height="0.7" fill="#c09060" opacity="0.04"/>
<rect x="331.64" y="247.45" width="22.60" height="0.7" fill="#c09060" opacity="0.03"/>
<rect x="331.64" y="250.06" width="22.60" height="0.7" fill="#c09060" opacity="0.07"/>
<rect x="331.64" y="264.29" width="22.60" height="0.7" fill="#c09060" opacity="0.06"/>
<rect x="331.64" y="245.47" width="22.60" height="0.7" fill="#c09060" opacity="0.08"/>
<rect x="331.64" y="249.03" width="22.60" height="0.7" fill="#c09060" opacity="0.06"/>
<rect x="331.64" y="211.99" width="22.60" height="0.7" fill="#c09060" opacity="0.09"/>
<rect x="331.64" y="260.04" width="22.60" height="0.7" fill="#c09060" opacity="0.04"/>
<rect x="331.64" y="265.53" width="22.60" height="0.7" fill="#c09060" opacity="0.05"/>
<rect x="331.64" y="224.90" width="22.60" height="0.7" fill="#c09060" opacity="0.04"/>
<rect x="331.64" y="224.67" width="22.60" height="0.7" fill="#c09060" opacity="0.05"/>
<rect x="331.64" y="243.05" width="22.60" height="0.7" fill="#c09060" opacity="0.09"/>
<rect x="331.64" y="261.02" width="22.60" height="0.7" fill="#c09060" opacity="0.05"/>
<rect x="331.64" y="224.43" width="22.60" height="0.7" fill="#c09060" opacity="0.05"/>
<rect x="331.64" y="245.55" width="22.60" height="0.7" fill="#c09060" opacity="0.06"/>
<rect x="331.64" y="247.40" width="22.60" height="0.7" fill="#c09060" opacity="0.05"/>
<rect x="331.64" y="259.39" width="22.60" height="0.7" fill="#c09060" opacity="0.04"/>
<rect x="331.64" y="218.76" width="22.60" height="0.7" fill="#c09060" opacity="0.06"/>
<rect x="331.64" y="240.89" width="22.60" height="0.7" fill="#c09060" opacity="0.09"/>
<rect x="331.64" y="209.10" width="22.60" height="0.7" fill="#c09060" opacity="0.10"/>
<rect x="331.64" y="250.98" width="22.60" height="0.7" fill="#c09060" opacity="0.04"/>
<rect x="331.64" y="201.78" width="22.60" height="0.7" fill="#c09060" opacity="0.10"/>
<rect x="331.64" y="255.44" width="22.60" height="0.7" fill="#c09060" opacity="0.07"/>
<rect x="331.64" y="248.29" width="22.60" height="0.7" fill="#c09060" opacity="0.05"/>
<rect x="331.64" y="227.13" width="22.60" height="0.7" fill="#c09060" opacity="0.08"/>
<rect x="331.64" y="260.64" width="22.60" height="0.7" fill="#c09060" opacity="0.04"/>
</g></g>
<line x1="331.64" y1="197.40" x2="354.24" y2="197.40" stroke="#aaa6a2" stroke-width="0.8"/>
<line x1="331.64" y1="267.30" x2="354.24" y2="267.30" stroke="#8f8b88" stroke-width="1.0"/>
<line x1="331.64" y1="197.00" x2="331.64" y2="267.80" stroke="#7f7b78" stroke-width="1.1"/>
<line x1="354.24" y1="197.00" x2="354.24" y2="267.80" stroke="#7f7b78" stroke-width="1.1"/>
<line x1="331.64" y1="218.50" x2="354.24" y2="218.50" stroke="#8a8683" stroke-width="1.2"/>
<line x1="331.64" y1="255.00" x2="354.24" y2="255.00" stroke="#8a8683" stroke-width="1.2"/>
<g clip-path="url(#tc3_355)"><g filter="url(#blr)">
<clipPath id="tc3_355"><rect x="355.26" y="197.40" width="22.60" height="69.90"/></clipPath>
<rect x="355.26" y="197.40" width="22.60" height="69.90" fill="#fbf8f3"/>
<rect x="355.26" y="197.40" width="22.60" height="2.39" fill="url(#st)" opacity="0.29"/>
<rect x="355.26" y="199.74" width="22.60" height="2.39" fill="url(#st)" opacity="0.33"/>
<rect x="355.26" y="202.09" width="22.60" height="2.39" fill="url(#st)" opacity="0.30"/>
<rect x="355.26" y="204.43" width="22.60" height="2.39" fill="url(#st)" opacity="0.28"/>
<rect x="355.26" y="206.78" width="22.60" height="2.39" fill="url(#st)" opacity="0.29"/>
<rect x="355.26" y="209.12" width="22.60" height="2.39" fill="url(#st)" opacity="0.27"/>
<rect x="355.26" y="211.47" width="22.60" height="2.39" fill="url(#st)" opacity="0.23"/>
<rect x="355.26" y="213.81" width="22.60" height="2.39" fill="url(#st)" opacity="0.24"/>
<rect x="355.26" y="216.16" width="22.60" height="2.39" fill="url(#st)" opacity="0.26"/>
<rect x="355.26" y="218.50" width="22.60" height="2.33" fill="url(#st)" opacity="0.75"/>
<rect x="355.26" y="220.78" width="22.60" height="2.33" fill="url(#st)" opacity="0.57"/>
<rect x="355.26" y="223.06" width="22.60" height="2.33" fill="url(#st)" opacity="0.55"/>
<rect x="355.26" y="225.34" width="22.60" height="2.33" fill="url(#st)" opacity="0.53"/>
<rect x="355.26" y="227.62" width="22.60" height="2.33" fill="url(#st)" opacity="0.45"/>
<rect x="355.26" y="229.91" width="22.60" height="2.33" fill="url(#st)" opacity="0.57"/>
<rect x="355.26" y="232.19" width="22.60" height="2.33" fill="url(#st)" opacity="0.52"/>
<rect x="355.26" y="234.47" width="22.60" height="2.33" fill="url(#st)" opacity="0.55"/>
<rect x="355.26" y="236.75" width="22.60" height="2.33" fill="url(#st)" opacity="0.37"/>
<rect x="355.26" y="239.03" width="22.60" height="2.33" fill="url(#st)" opacity="0.43"/>
<rect x="355.26" y="241.31" width="22.60" height="2.33" fill="url(#st)" opacity="0.55"/>
<rect x="355.26" y="243.59" width="22.60" height="2.33" fill="url(#st)" opacity="0.40"/>
<rect x="355.26" y="245.88" width="22.60" height="2.33" fill="url(#st)" opacity="0.38"/>
<rect x="355.26" y="248.16" width="22.60" height="2.33" fill="url(#st)" opacity="0.47"/>
<rect x="355.26" y="250.44" width="22.60" height="2.33" fill="url(#st)" opacity="0.52"/>
<rect x="355.26" y="252.72" width="22.60" height="2.33" fill="url(#st)" opacity="0.48"/>
<rect x="355.26" y="255.00" width="22.60" height="2.51" fill="url(#st)" opacity="0.31"/>
<rect x="355.26" y="257.46" width="22.60" height="2.51" fill="url(#st)" opacity="0.35"/>
<rect x="355.26" y="259.92" width="22.60" height="2.51" fill="url(#st)" opacity="0.34"/>
<rect x="355.26" y="262.38" width="22.60" height="2.51" fill="url(#st)" opacity="0.32"/>
<rect x="355.26" y="264.84" width="22.60" height="2.51" fill="url(#st)" opacity="0.32"/>
<rect x="368.20" y="199.80" width="0.56" height="14.04" fill="#c08a50" opacity="0.10"/>
<rect x="368.78" y="199.66" width="0.98" height="12.99" fill="#c08a50" opacity="0.11"/>
<rect x="361.89" y="197.73" width="0.56" height="20.37" fill="#c08a50" opacity="0.05"/>
<rect x="361.80" y="198.85" width="0.72" height="15.34" fill="#c08a50" opacity="0.09"/>
<rect x="368.26" y="198.59" width="0.83" height="19.17" fill="#c08a50" opacity="0.08"/>
<rect x="367.42" y="199.56" width="0.72" height="15.80" fill="#c08a50" opacity="0.11"/>
<rect x="366.96" y="199.68" width="0.96" height="16.94" fill="#c08a50" opacity="0.04"/>
<rect x="365.85" y="198.52" width="0.79" height="15.31" fill="#c08a50" opacity="0.10"/>
<rect x="364.69" y="199.61" width="0.80" height="13.90" fill="#c08a50" opacity="0.08"/>
<rect x="367.56" y="198.47" width="0.68" height="14.67" fill="#c08a50" opacity="0.07"/>
<rect x="368.62" y="222.15" width="0.64" height="27.86" fill="#c08a50" opacity="0.12"/>
<rect x="367.06" y="221.11" width="0.56" height="12.27" fill="#c08a50" opacity="0.16"/>
<rect x="362.06" y="220.45" width="0.56" height="16.11" fill="#c08a50" opacity="0.07"/>
<rect x="369.75" y="220.48" width="0.96" height="30.57" fill="#c08a50" opacity="0.11"/>
<rect x="363.88" y="218.79" width="0.81" height="28.57" fill="#c08a50" opacity="0.24"/>
<rect x="366.79" y="221.08" width="0.77" height="28.71" fill="#c08a50" opacity="0.12"/>
<rect x="369.67" y="218.79" width="0.80" height="25.39" fill="#c08a50" opacity="0.20"/>
<rect x="365.15" y="221.75" width="0.76" height="13.13" fill="#c08a50" opacity="0.18"/>
<rect x="365.88" y="222.71" width="0.51" height="21.09" fill="#c08a50" opacity="0.22"/>
<rect x="365.57" y="223.51" width="1.00" height="20.93" fill="#c08a50" opacity="0.24"/>
<rect x="366.46" y="256.44" width="0.59" height="9.30" fill="#c08a50" opacity="0.13"/>
<rect x="360.95" y="255.40" width="1.10" height="10.35" fill="#c08a50" opacity="0.06"/>
<rect x="364.17" y="255.23" width="0.90" height="11.45" fill="#c08a50" opacity="0.08"/>
<rect x="366.66" y="255.70" width="0.54" height="8.29" fill="#c08a50" opacity="0.12"/>
<rect x="366.21" y="256.77" width="1.00" height="8.32" fill="#c08a50" opacity="0.05"/>
<rect x="366.68" y="256.70" width="0.64" height="7.14" fill="#c08a50" opacity="0.04"/>
<rect x="367.24" y="256.39" width="0.66" height="9.53" fill="#c08a50" opacity="0.11"/>
<rect x="368.60" y="255.96" width="0.59" height="7.75" fill="#c08a50" opacity="0.10"/>
<rect x="367.10" y="255.69" width="0.89" height="10.25" fill="#c08a50" opacity="0.08"/>
<rect x="366.76" y="256.78" width="0.85" height="9.63" fill="#c08a50" opacity="0.09"/>
<rect x="355.26" y="197.40" width="22.60" height="20.00" fill="url(#topband)" opacity="0.10"/>
<rect x="355.26" y="218.50" width="22.60" height="20.00" fill="url(#topband)" opacity="0.30"/>
<rect x="355.26" y="215.79" width="22.60" height="0.7" fill="#c09060" opacity="0.09"/>
<rect x="355.26" y="248.53" width="22.60" height="0.7" fill="#c09060" opacity="0.04"/>
<rect x="355.26" y="231.03" width="22.60" height="0.7" fill="#c09060" opacity="0.09"/>
<rect x="355.26" y="197.97" width="22.60" height="0.7" fill="#c09060" opacity="0.12"/>
<rect x="355.26" y="226.68" width="22.60" height="0.7" fill="#c09060" opacity="0.07"/>
<rect x="355.26" y="240.07" width="22.60" height="0.7" fill="#c09060" opacity="0.08"/>
<rect x="355.26" y="201.32" width="22.60" height="0.7" fill="#c09060" opacity="0.09"/>
<rect x="355.26" y="200.08" width="22.60" height="0.7" fill="#c09060" opacity="0.08"/>
<rect x="355.26" y="221.57" width="22.60" height="0.7" fill="#c09060" opacity="0.04"/>
<rect x="355.26" y="218.21" width="22.60" height="0.7" fill="#c09060" opacity="0.08"/>
<rect x="355.26" y="243.18" width="22.60" height="0.7" fill="#c09060" opacity="0.09"/>
<rect x="355.26" y="223.29" width="22.60" height="0.7" fill="#c09060" opacity="0.08"/>
<rect x="355.26" y="247.25" width="22.60" height="0.7" fill="#c09060" opacity="0.08"/>
<rect x="355.26" y="263.78" width="22.60" height="0.7" fill="#c09060" opacity="0.07"/>
<rect x="355.26" y="218.49" width="22.60" height="0.7" fill="#c09060" opacity="0.05"/>
<rect x="355.26" y="262.54" width="22.60" height="0.7" fill="#c09060" opacity="0.03"/>
<rect x="355.26" y="228.77" width="22.60" height="0.7" fill="#c09060" opacity="0.09"/>
<rect x="355.26" y="234.36" width="22.60" height="0.7" fill="#c09060" opacity="0.06"/>
<rect x="355.26" y="262.02" width="22.60" height="0.7" fill="#c09060" opacity="0.04"/>
<rect x="355.26" y="235.97" width="22.60" height="0.7" fill="#c09060" opacity="0.09"/>
<rect x="355.26" y="207.05" width="22.60" height="0.7" fill="#c09060" opacity="0.08"/>
<rect x="355.26" y="231.95" width="22.60" height="0.7" fill="#c09060" opacity="0.07"/>
<rect x="355.26" y="211.89" width="22.60" height="0.7" fill="#c09060" opacity="0.08"/>
<rect x="355.26" y="201.58" width="22.60" height="0.7" fill="#c09060" opacity="0.05"/>
<rect x="355.26" y="221.31" width="22.60" height="0.7" fill="#c09060" opacity="0.05"/>
<rect x="355.26" y="265.03" width="22.60" height="0.7" fill="#c09060" opacity="0.03"/>
<rect x="355.26" y="216.67" width="22.60" height="0.7" fill="#c09060" opacity="0.10"/>
<rect x="355.26" y="249.21" width="22.60" height="0.7" fill="#c09060" opacity="0.04"/>
<rect x="355.26" y="255.36" width="22.60" height="0.7" fill="#c09060" opacity="0.06"/>
<rect x="355.26" y="224.56" width="22.60" height="0.7" fill="#c09060" opacity="0.09"/>
<rect x="355.26" y="214.58" width="22.60" height="0.7" fill="#c09060" opacity="0.06"/>
</g></g>
<line x1="355.26" y1="197.40" x2="377.86" y2="197.40" stroke="#aaa6a2" stroke-width="0.8"/>
<line x1="355.26" y1="267.30" x2="377.86" y2="267.30" stroke="#8f8b88" stroke-width="1.0"/>
<line x1="355.26" y1="197.00" x2="355.26" y2="267.80" stroke="#7f7b78" stroke-width="1.1"/>
<line x1="377.86" y1="197.00" x2="377.86" y2="267.80" stroke="#7f7b78" stroke-width="1.1"/>
<line x1="355.26" y1="218.50" x2="377.86" y2="218.50" stroke="#8a8683" stroke-width="1.2"/>
<line x1="355.26" y1="255.00" x2="377.86" y2="255.00" stroke="#8a8683" stroke-width="1.2"/>
<g clip-path="url(#tc4_378)"><g filter="url(#blr)">
<clipPath id="tc4_378"><rect x="378.88" y="197.40" width="22.60" height="69.90"/></clipPath>
<rect x="378.88" y="197.40" width="22.60" height="69.90" fill="#fbf8f3"/>
<rect x="378.88" y="197.40" width="22.60" height="2.39" fill="url(#st)" opacity="1.00"/>
<rect x="378.88" y="199.74" width="22.60" height="2.39" fill="url(#st)" opacity="0.90"/>
<rect x="378.88" y="202.09" width="22.60" height="2.39" fill="url(#st)" opacity="1.00"/>
<rect x="378.88" y="204.43" width="22.60" height="2.39" fill="url(#st)" opacity="0.91"/>
<rect x="378.88" y="206.78" width="22.60" height="2.39" fill="url(#st)" opacity="0.94"/>
<rect x="378.88" y="209.12" width="22.60" height="2.39" fill="url(#st)" opacity="0.93"/>
<rect x="378.88" y="211.47" width="22.60" height="2.39" fill="url(#st)" opacity="0.88"/>
<rect x="378.88" y="213.81" width="22.60" height="2.39" fill="url(#st)" opacity="0.76"/>
<rect x="378.88" y="216.16" width="22.60" height="2.39" fill="url(#st)" opacity="0.88"/>
<rect x="378.88" y="218.50" width="22.60" height="2.33" fill="url(#st)" opacity="0.97"/>
<rect x="378.88" y="220.78" width="22.60" height="2.33" fill="url(#st)" opacity="0.96"/>
<rect x="378.88" y="223.06" width="22.60" height="2.33" fill="url(#st)" opacity="0.78"/>
<rect x="378.88" y="225.34" width="22.60" height="2.33" fill="url(#st)" opacity="0.86"/>
<rect x="378.88" y="227.62" width="22.60" height="2.33" fill="url(#st)" opacity="0.80"/>
<rect x="378.88" y="229.91" width="22.60" height="2.33" fill="url(#st)" opacity="0.77"/>
<rect x="378.88" y="232.19" width="22.60" height="2.33" fill="url(#st)" opacity="0.77"/>
<rect x="378.88" y="234.47" width="22.60" height="2.33" fill="url(#st)" opacity="0.76"/>
<rect x="378.88" y="236.75" width="22.60" height="2.33" fill="url(#st)" opacity="0.67"/>
<rect x="378.88" y="239.03" width="22.60" height="2.33" fill="url(#st)" opacity="0.73"/>
<rect x="378.88" y="241.31" width="22.60" height="2.33" fill="url(#st)" opacity="0.73"/>
<rect x="378.88" y="243.59" width="22.60" height="2.33" fill="url(#st)" opacity="0.79"/>
<rect x="378.88" y="245.88" width="22.60" height="2.33" fill="url(#st)" opacity="0.75"/>
<rect x="378.88" y="248.16" width="22.60" height="2.33" fill="url(#st)" opacity="0.86"/>
<rect x="378.88" y="250.44" width="22.60" height="2.33" fill="url(#st)" opacity="0.80"/>
<rect x="378.88" y="252.72" width="22.60" height="2.33" fill="url(#st)" opacity="0.78"/>
<rect x="378.88" y="255.00" width="22.60" height="2.51" fill="url(#st)" opacity="0.45"/>
<rect x="378.88" y="257.46" width="22.60" height="2.51" fill="url(#st)" opacity="0.36"/>
<rect x="378.88" y="259.92" width="22.60" height="2.51" fill="url(#st)" opacity="0.41"/>
<rect x="378.88" y="262.38" width="22.60" height="2.51" fill="url(#st)" opacity="0.43"/>
<rect x="378.88" y="264.84" width="22.60" height="2.51" fill="url(#st)" opacity="0.32"/>
<rect x="392.80" y="197.78" width="1.01" height="15.94" fill="#c08a50" opacity="0.18"/>
<rect x="391.29" y="197.40" width="0.68" height="16.30" fill="#c08a50" opacity="0.24"/>
<rect x="392.08" y="198.08" width="0.59" height="18.75" fill="#c08a50" opacity="0.36"/>
<rect x="388.32" y="197.68" width="0.62" height="18.59" fill="#c08a50" opacity="0.13"/>
<rect x="386.75" y="197.95" width="0.89" height="19.67" fill="#c08a50" opacity="0.24"/>
<rect x="391.24" y="198.82" width="0.91" height="16.06" fill="#c08a50" opacity="0.35"/>
<rect x="390.94" y="199.10" width="0.80" height="13.71" fill="#c08a50" opacity="0.25"/>
<rect x="391.23" y="198.73" width="0.90" height="14.81" fill="#c08a50" opacity="0.33"/>
<rect x="389.54" y="198.53" width="0.66" height="14.34" fill="#c08a50" opacity="0.18"/>
<rect x="390.84" y="199.43" width="0.88" height="13.02" fill="#c08a50" opacity="0.14"/>
<rect x="390.17" y="221.96" width="0.56" height="13.98" fill="#c08a50" opacity="0.25"/>
<rect x="387.76" y="223.82" width="0.53" height="20.52" fill="#c08a50" opacity="0.26"/>
<rect x="389.50" y="220.30" width="0.75" height="29.30" fill="#c08a50" opacity="0.12"/>
<rect x="387.87" y="220.75" width="0.93" height="14.73" fill="#c08a50" opacity="0.12"/>
<rect x="389.17" y="222.83" width="1.07" height="12.16" fill="#c08a50" opacity="0.23"/>
<rect x="391.33" y="220.78" width="0.56" height="26.44" fill="#c08a50" opacity="0.11"/>
<rect x="388.07" y="221.30" width="0.56" height="13.02" fill="#c08a50" opacity="0.34"/>
<rect x="389.00" y="219.06" width="0.78" height="18.26" fill="#c08a50" opacity="0.13"/>
<rect x="388.66" y="221.47" width="1.09" height="21.89" fill="#c08a50" opacity="0.17"/>
<rect x="389.53" y="223.83" width="0.83" height="19.71" fill="#c08a50" opacity="0.16"/>
<rect x="384.47" y="256.17" width="0.73" height="7.74" fill="#c08a50" opacity="0.08"/>
<rect x="389.19" y="255.98" width="0.99" height="10.81" fill="#c08a50" opacity="0.05"/>
<rect x="392.29" y="256.69" width="0.77" height="8.49" fill="#c08a50" opacity="0.10"/>
<rect x="388.84" y="256.37" width="0.67" height="9.98" fill="#c08a50" opacity="0.10"/>
<rect x="390.07" y="255.37" width="0.58" height="9.36" fill="#c08a50" opacity="0.13"/>
<rect x="386.63" y="256.84" width="0.56" height="9.97" fill="#c08a50" opacity="0.07"/>
<rect x="391.95" y="256.58" width="0.87" height="10.12" fill="#c08a50" opacity="0.13"/>
<rect x="391.29" y="256.07" width="0.56" height="10.30" fill="#c08a50" opacity="0.09"/>
<rect x="393.52" y="256.41" width="0.57" height="9.65" fill="#c08a50" opacity="0.11"/>
<rect x="390.98" y="255.90" width="0.88" height="8.17" fill="#c08a50" opacity="0.15"/>
<rect x="378.88" y="197.40" width="22.60" height="20.00" fill="url(#topband)" opacity="0.30"/>
<rect x="378.88" y="218.50" width="22.60" height="20.00" fill="url(#topband)" opacity="0.50"/>
<rect x="378.88" y="255.00" width="22.60" height="12.30" fill="url(#topband)" opacity="0.10"/>
<rect x="378.88" y="217.12" width="22.60" height="0.7" fill="#c09060" opacity="0.08"/>
<rect x="378.88" y="258.70" width="22.60" height="0.7" fill="#c09060" opacity="0.04"/>
<rect x="378.88" y="226.76" width="22.60" height="0.7" fill="#c09060" opacity="0.08"/>
<rect x="378.88" y="265.65" width="22.60" height="0.7" fill="#c09060" opacity="0.03"/>
<rect x="378.88" y="243.19" width="22.60" height="0.7" fill="#c09060" opacity="0.09"/>
<rect x="378.88" y="248.31" width="22.60" height="0.7" fill="#c09060" opacity="0.03"/>
<rect x="378.88" y="263.36" width="22.60" height="0.7" fill="#c09060" opacity="0.04"/>
<rect x="378.88" y="257.03" width="22.60" height="0.7" fill="#c09060" opacity="0.07"/>
<rect x="378.88" y="226.81" width="22.60" height="0.7" fill="#c09060" opacity="0.11"/>
<rect x="378.88" y="244.64" width="22.60" height="0.7" fill="#c09060" opacity="0.06"/>
<rect x="378.88" y="248.56" width="22.60" height="0.7" fill="#c09060" opacity="0.06"/>
<rect x="378.88" y="247.14" width="22.60" height="0.7" fill="#c09060" opacity="0.07"/>
<rect x="378.88" y="253.04" width="22.60" height="0.7" fill="#c09060" opacity="0.04"/>
<rect x="378.88" y="231.97" width="22.60" height="0.7" fill="#c09060" opacity="0.04"/>
<rect x="378.88" y="252.68" width="22.60" height="0.7" fill="#c09060" opacity="0.08"/>
<rect x="378.88" y="255.91" width="22.60" height="0.7" fill="#c09060" opacity="0.03"/>
<rect x="378.88" y="234.81" width="22.60" height="0.7" fill="#c09060" opacity="0.07"/>
<rect x="378.88" y="205.75" width="22.60" height="0.7" fill="#c09060" opacity="0.07"/>
<rect x="378.88" y="265.51" width="22.60" height="0.7" fill="#c09060" opacity="0.07"/>
<rect x="378.88" y="214.05" width="22.60" height="0.7" fill="#c09060" opacity="0.12"/>
<rect x="378.88" y="242.90" width="22.60" height="0.7" fill="#c09060" opacity="0.06"/>
<rect x="378.88" y="242.47" width="22.60" height="0.7" fill="#c09060" opacity="0.05"/>
<rect x="378.88" y="216.54" width="22.60" height="0.7" fill="#c09060" opacity="0.05"/>
<rect x="378.88" y="243.30" width="22.60" height="0.7" fill="#c09060" opacity="0.07"/>
<rect x="378.88" y="249.36" width="22.60" height="0.7" fill="#c09060" opacity="0.06"/>
<rect x="378.88" y="227.80" width="22.60" height="0.7" fill="#c09060" opacity="0.07"/>
<rect x="378.88" y="248.80" width="22.60" height="0.7" fill="#c09060" opacity="0.06"/>
<rect x="378.88" y="239.11" width="22.60" height="0.7" fill="#c09060" opacity="0.09"/>
<rect x="378.88" y="228.47" width="22.60" height="0.7" fill="#c09060" opacity="0.10"/>
<rect x="378.88" y="201.70" width="22.60" height="0.7" fill="#c09060" opacity="0.08"/>
<rect x="378.88" y="256.16" width="22.60" height="0.7" fill="#c09060" opacity="0.04"/>
<rect x="378.88" y="201.37" width="22.60" height="0.7" fill="#c09060" opacity="0.05"/>
<rect x="378.88" y="250.95" width="22.60" height="0.7" fill="#c09060" opacity="0.04"/>
<rect x="378.88" y="229.42" width="22.60" height="0.7" fill="#c09060" opacity="0.08"/>
<rect x="378.88" y="253.52" width="22.60" height="0.7" fill="#c09060" opacity="0.06"/>
<rect x="378.88" y="233.87" width="22.60" height="0.7" fill="#c09060" opacity="0.04"/>
<rect x="378.88" y="252.99" width="22.60" height="0.7" fill="#c09060" opacity="0.08"/>
<rect x="378.88" y="240.98" width="22.60" height="0.7" fill="#c09060" opacity="0.09"/>
<rect x="378.88" y="240.32" width="22.60" height="0.7" fill="#c09060" opacity="0.09"/>
<rect x="378.88" y="256.88" width="22.60" height="0.7" fill="#c09060" opacity="0.06"/>
<rect x="378.88" y="198.82" width="22.60" height="0.7" fill="#c09060" opacity="0.15"/>
</g></g>
<line x1="378.88" y1="197.40" x2="401.48" y2="197.40" stroke="#aaa6a2" stroke-width="0.8"/>
<line x1="378.88" y1="267.30" x2="401.48" y2="267.30" stroke="#8f8b88" stroke-width="1.0"/>
<line x1="378.88" y1="197.00" x2="378.88" y2="267.80" stroke="#7f7b78" stroke-width="1.1"/>
<line x1="401.48" y1="197.00" x2="401.48" y2="267.80" stroke="#7f7b78" stroke-width="1.1"/>
<line x1="378.88" y1="218.50" x2="401.48" y2="218.50" stroke="#8a8683" stroke-width="1.2"/>
<line x1="378.88" y1="255.00" x2="401.48" y2="255.00" stroke="#8a8683" stroke-width="1.2"/>
<g clip-path="url(#tc5_402)"><g filter="url(#blr)">
<clipPath id="tc5_402"><rect x="402.50" y="197.40" width="22.60" height="69.90"/></clipPath>
<rect x="402.50" y="197.40" width="22.60" height="69.90" fill="#fbf8f3"/>
<rect x="402.50" y="197.40" width="22.60" height="2.39" fill="url(#st)" opacity="0.37"/>
<rect x="402.50" y="199.74" width="22.60" height="2.39" fill="url(#st)" opacity="0.34"/>
<rect x="402.50" y="202.09" width="22.60" height="2.39" fill="url(#st)" opacity="0.36"/>
<rect x="402.50" y="204.43" width="22.60" height="2.39" fill="url(#st)" opacity="0.34"/>
<rect x="402.50" y="206.78" width="22.60" height="2.39" fill="url(#st)" opacity="0.35"/>
<rect x="402.50" y="209.12" width="22.60" height="2.39" fill="url(#st)" opacity="0.34"/>
<rect x="402.50" y="211.47" width="22.60" height="2.39" fill="url(#st)" opacity="0.33"/>
<rect x="402.50" y="213.81" width="22.60" height="2.39" fill="url(#st)" opacity="0.32"/>
<rect x="402.50" y="216.16" width="22.60" height="2.39" fill="url(#st)" opacity="0.33"/>
<rect x="402.50" y="218.50" width="22.60" height="2.33" fill="url(#st)" opacity="0.67"/>
<rect x="402.50" y="220.78" width="22.60" height="2.33" fill="url(#st)" opacity="0.58"/>
<rect x="402.50" y="223.06" width="22.60" height="2.33" fill="url(#st)" opacity="0.66"/>
<rect x="402.50" y="225.34" width="22.60" height="2.33" fill="url(#st)" opacity="0.52"/>
<rect x="402.50" y="227.62" width="22.60" height="2.33" fill="url(#st)" opacity="0.54"/>
<rect x="402.50" y="229.91" width="22.60" height="2.33" fill="url(#st)" opacity="0.60"/>
<rect x="402.50" y="232.19" width="22.60" height="2.33" fill="url(#st)" opacity="0.46"/>
<rect x="402.50" y="234.47" width="22.60" height="2.33" fill="url(#st)" opacity="0.47"/>
<rect x="402.50" y="236.75" width="22.60" height="2.33" fill="url(#st)" opacity="0.44"/>
<rect x="402.50" y="239.03" width="22.60" height="2.33" fill="url(#st)" opacity="0.42"/>
<rect x="402.50" y="241.31" width="22.60" height="2.33" fill="url(#st)" opacity="0.49"/>
<rect x="402.50" y="243.59" width="22.60" height="2.33" fill="url(#st)" opacity="0.45"/>
<rect x="402.50" y="245.88" width="22.60" height="2.33" fill="url(#st)" opacity="0.46"/>
<rect x="402.50" y="248.16" width="22.60" height="2.33" fill="url(#st)" opacity="0.38"/>
<rect x="402.50" y="250.44" width="22.60" height="2.33" fill="url(#st)" opacity="0.48"/>
<rect x="402.50" y="252.72" width="22.60" height="2.33" fill="url(#st)" opacity="0.42"/>
<rect x="402.50" y="255.00" width="22.60" height="2.51" fill="url(#st)" opacity="0.24"/>
<rect x="402.50" y="257.46" width="22.60" height="2.51" fill="url(#st)" opacity="0.27"/>
<rect x="402.50" y="259.92" width="22.60" height="2.51" fill="url(#st)" opacity="0.23"/>
<rect x="402.50" y="262.38" width="22.60" height="2.51" fill="url(#st)" opacity="0.31"/>
<rect x="402.50" y="264.84" width="22.60" height="2.51" fill="url(#st)" opacity="0.21"/>
<rect x="414.02" y="199.48" width="0.90" height="13.43" fill="#c08a50" opacity="0.10"/>
<rect x="411.02" y="198.00" width="0.77" height="18.42" fill="#c08a50" opacity="0.06"/>
<rect x="411.79" y="199.09" width="0.62" height="14.09" fill="#c08a50" opacity="0.07"/>
<rect x="409.78" y="199.32" width="0.56" height="16.89" fill="#c08a50" opacity="0.05"/>
<rect x="413.44" y="198.75" width="0.59" height="19.09" fill="#c08a50" opacity="0.04"/>
<rect x="413.66" y="200.43" width="0.83" height="12.79" fill="#c08a50" opacity="0.07"/>
<rect x="414.38" y="197.42" width="0.59" height="20.71" fill="#c08a50" opacity="0.09"/>
<rect x="412.88" y="198.91" width="0.95" height="14.50" fill="#c08a50" opacity="0.08"/>
<rect x="416.25" y="197.94" width="0.82" height="17.86" fill="#c08a50" opacity="0.08"/>
<rect x="411.70" y="198.13" width="0.99" height="18.51" fill="#c08a50" opacity="0.11"/>
<rect x="416.17" y="222.14" width="0.63" height="18.36" fill="#c08a50" opacity="0.08"/>
<rect x="414.61" y="220.73" width="0.94" height="24.77" fill="#c08a50" opacity="0.21"/>
<rect x="413.72" y="219.18" width="0.91" height="22.70" fill="#c08a50" opacity="0.08"/>
<rect x="411.33" y="223.52" width="0.88" height="16.22" fill="#c08a50" opacity="0.08"/>
<rect x="410.72" y="219.33" width="0.77" height="26.94" fill="#c08a50" opacity="0.14"/>
<rect x="413.31" y="222.19" width="0.54" height="24.71" fill="#c08a50" opacity="0.12"/>
<rect x="414.99" y="220.10" width="1.06" height="29.50" fill="#c08a50" opacity="0.12"/>
<rect x="414.37" y="218.98" width="1.07" height="26.12" fill="#c08a50" opacity="0.10"/>
<rect x="412.41" y="223.22" width="0.56" height="22.14" fill="#c08a50" opacity="0.18"/>
<rect x="410.98" y="223.27" width="0.77" height="27.02" fill="#c08a50" opacity="0.11"/>
<rect x="412.89" y="255.93" width="0.99" height="10.09" fill="#c08a50" opacity="0.07"/>
<rect x="415.13" y="256.05" width="1.01" height="9.58" fill="#c08a50" opacity="0.08"/>
<rect x="411.59" y="255.24" width="0.76" height="10.44" fill="#c08a50" opacity="0.10"/>
<rect x="411.84" y="255.67" width="0.68" height="9.40" fill="#c08a50" opacity="0.08"/>
<rect x="414.51" y="255.08" width="0.94" height="11.82" fill="#c08a50" opacity="0.09"/>
<rect x="415.60" y="255.12" width="1.04" height="11.87" fill="#c08a50" opacity="0.08"/>
<rect x="412.78" y="255.84" width="0.52" height="10.86" fill="#c08a50" opacity="0.06"/>
<rect x="416.77" y="255.94" width="0.92" height="8.21" fill="#c08a50" opacity="0.10"/>
<rect x="410.09" y="255.88" width="0.61" height="10.25" fill="#c08a50" opacity="0.08"/>
<rect x="410.34" y="256.63" width="0.57" height="9.30" fill="#c08a50" opacity="0.09"/>
<rect x="402.50" y="197.40" width="22.60" height="20.00" fill="url(#topband)" opacity="0.15"/>
<rect x="402.50" y="218.50" width="22.60" height="20.00" fill="url(#topband)" opacity="0.35"/>
<rect x="402.50" y="263.30" width="22.60" height="0.7" fill="#c09060" opacity="0.07"/>
<rect x="402.50" y="224.68" width="22.60" height="0.7" fill="#c09060" opacity="0.11"/>
<rect x="402.50" y="267.09" width="22.60" height="0.7" fill="#c09060" opacity="0.03"/>
<rect x="402.50" y="249.65" width="22.60" height="0.7" fill="#c09060" opacity="0.07"/>
<rect x="402.50" y="229.39" width="22.60" height="0.7" fill="#c09060" opacity="0.06"/>
<rect x="402.50" y="209.52" width="22.60" height="0.7" fill="#c09060" opacity="0.08"/>
<rect x="402.50" y="262.54" width="22.60" height="0.7" fill="#c09060" opacity="0.04"/>
<rect x="402.50" y="215.25" width="22.60" height="0.7" fill="#c09060" opacity="0.10"/>
<rect x="402.50" y="227.97" width="22.60" height="0.7" fill="#c09060" opacity="0.08"/>
<rect x="402.50" y="229.17" width="22.60" height="0.7" fill="#c09060" opacity="0.06"/>
<rect x="402.50" y="199.88" width="22.60" height="0.7" fill="#c09060" opacity="0.13"/>
<rect x="402.50" y="243.46" width="22.60" height="0.7" fill="#c09060" opacity="0.05"/>
<rect x="402.50" y="232.30" width="22.60" height="0.7" fill="#c09060" opacity="0.08"/>
<rect x="402.50" y="232.60" width="22.60" height="0.7" fill="#c09060" opacity="0.10"/>
<rect x="402.50" y="251.83" width="22.60" height="0.7" fill="#c09060" opacity="0.05"/>
<rect x="402.50" y="221.08" width="22.60" height="0.7" fill="#c09060" opacity="0.09"/>
<rect x="402.50" y="208.75" width="22.60" height="0.7" fill="#c09060" opacity="0.13"/>
<rect x="402.50" y="200.58" width="22.60" height="0.7" fill="#c09060" opacity="0.10"/>
<rect x="402.50" y="216.51" width="22.60" height="0.7" fill="#c09060" opacity="0.09"/>
<rect x="402.50" y="200.59" width="22.60" height="0.7" fill="#c09060" opacity="0.07"/>
<rect x="402.50" y="266.53" width="22.60" height="0.7" fill="#c09060" opacity="0.06"/>
<rect x="402.50" y="212.85" width="22.60" height="0.7" fill="#c09060" opacity="0.08"/>
<rect x="402.50" y="199.67" width="22.60" height="0.7" fill="#c09060" opacity="0.06"/>
<rect x="402.50" y="210.81" width="22.60" height="0.7" fill="#c09060" opacity="0.13"/>
<rect x="402.50" y="219.19" width="22.60" height="0.7" fill="#c09060" opacity="0.06"/>
<rect x="402.50" y="201.97" width="22.60" height="0.7" fill="#c09060" opacity="0.06"/>
<rect x="402.50" y="266.97" width="22.60" height="0.7" fill="#c09060" opacity="0.06"/>
<rect x="402.50" y="261.73" width="22.60" height="0.7" fill="#c09060" opacity="0.07"/>
<rect x="402.50" y="252.11" width="22.60" height="0.7" fill="#c09060" opacity="0.04"/>
<rect x="402.50" y="209.22" width="22.60" height="0.7" fill="#c09060" opacity="0.07"/>
<rect x="402.50" y="201.97" width="22.60" height="0.7" fill="#c09060" opacity="0.07"/>
<rect x="402.50" y="247.72" width="22.60" height="0.7" fill="#c09060" opacity="0.06"/>
<rect x="402.50" y="198.13" width="22.60" height="0.7" fill="#c09060" opacity="0.08"/>
<rect x="402.50" y="256.78" width="22.60" height="0.7" fill="#c09060" opacity="0.07"/>
</g></g>
<line x1="402.50" y1="197.40" x2="425.10" y2="197.40" stroke="#aaa6a2" stroke-width="0.8"/>
<line x1="402.50" y1="267.30" x2="425.10" y2="267.30" stroke="#8f8b88" stroke-width="1.0"/>
<line x1="402.50" y1="197.00" x2="402.50" y2="267.80" stroke="#7f7b78" stroke-width="1.1"/>
<line x1="425.10" y1="197.00" x2="425.10" y2="267.80" stroke="#7f7b78" stroke-width="1.1"/>
<line x1="402.50" y1="218.50" x2="425.10" y2="218.50" stroke="#8a8683" stroke-width="1.2"/>
<line x1="402.50" y1="255.00" x2="425.10" y2="255.00" stroke="#8a8683" stroke-width="1.2"/>
<text x="295.6" y="193.4" font-size="7.15" fill="#222" text-anchor="middle" textLength="10.11" lengthAdjust="spacingAndGlyphs">WT</text>
<text x="318.7" y="193.4" font-size="7.15" fill="#222" text-anchor="middle" textLength="10.47" lengthAdjust="spacingAndGlyphs">ITD</text>
<text x="342.7" y="193.4" font-size="7.15" fill="#222" text-anchor="middle" textLength="18.79" lengthAdjust="spacingAndGlyphs">Runx1</text>
<text x="366.8" y="193.4" font-size="7.15" fill="#222" text-anchor="middle" textLength="21.31" lengthAdjust="spacingAndGlyphs">NHD13</text>
<text x="391.0" y="185.4" font-size="7.15" fill="#222" text-anchor="middle" textLength="12.28" lengthAdjust="spacingAndGlyphs">ITD/</text>
<text x="391.0" y="193.4" font-size="7.15" fill="#222" text-anchor="middle" textLength="18.79" lengthAdjust="spacingAndGlyphs">Runx1</text>
<text x="414.4" y="185.4" font-size="7.15" fill="#222" text-anchor="middle" textLength="12.28" lengthAdjust="spacingAndGlyphs">ITD/</text>
<text x="414.4" y="193.4" font-size="7.15" fill="#222" text-anchor="middle" textLength="21.31" lengthAdjust="spacingAndGlyphs">NHD13</text>
<rect x="428.0" y="197.4" width="1.6" height="21.1" fill="#c8184a"/>
<rect x="428.0" y="218.5" width="1.6" height="36.5" fill="#d98a3a"/>
<rect x="428.0" y="255.0" width="1.6" height="13.3" fill="#5a3a8a"/>
<text x="437.5" y="206.8" font-size="8.03" fill="#c8184a" textLength="61.4" lengthAdjust="spacingAndGlyphs">ITD/Runx1 &gt; both</text>
<text x="437.5" y="215.7" font-size="8.03" fill="#c8184a" textLength="71.9" lengthAdjust="spacingAndGlyphs">(Cooperative targets)</text>
<text x="437.5" y="232.6" font-size="8.03" fill="#c98752" textLength="82.2" lengthAdjust="spacingAndGlyphs">ITD/Runx1 &gt; Runx1 only</text>
<text x="437.5" y="242.5" font-size="8.03" fill="#c98752" textLength="42.3" lengthAdjust="spacingAndGlyphs">(ITD targets)</text>
<text x="437.5" y="260.5" font-size="8.03" fill="#5a3a8a" textLength="73.5" lengthAdjust="spacingAndGlyphs">ITD/Runx1 &gt; ITD only</text>
<text x="437.5" y="268.6" font-size="8.03" fill="#5a3a8a" textLength="51.8" lengthAdjust="spacingAndGlyphs">(Runx1 targets)</text>
<line x1="284.4" y1="267.3" x2="306.2" y2="267.3" stroke="#555" stroke-width="0.8"/>
<line x1="284.4" y1="267.3" x2="284.4" y2="270.7" stroke="#555" stroke-width="0.8"/>
<line x1="295.2" y1="267.3" x2="295.2" y2="270.7" stroke="#555" stroke-width="0.8"/>
<line x1="306.2" y1="267.3" x2="306.2" y2="270.7" stroke="#555" stroke-width="0.8"/>
<text x="283.9" y="277.6" font-size="6.93" fill="#222" text-anchor="middle" textLength="7.18" lengthAdjust="spacingAndGlyphs">&#8722;5</text>
<text x="295.2" y="277.6" font-size="6.93" fill="#222" text-anchor="middle" textLength="3.5" lengthAdjust="spacingAndGlyphs">0</text>
<text x="306.5" y="277.6" font-size="6.93" fill="#222" text-anchor="middle" textLength="7.18" lengthAdjust="spacingAndGlyphs">+5</text>
<line x1="284.09999999999997" y1="280.7" x2="306.5" y2="280.7" stroke="#222" stroke-width="0.8"/>
<text x="296.9" y="288.3" font-size="6.93" fill="#222" text-anchor="middle" textLength="39" lengthAdjust="spacingAndGlyphs">distance from</text>
<text x="297.29999999999995" y="294.8" font-size="6.93" fill="#222" text-anchor="middle" textLength="27.5" lengthAdjust="spacingAndGlyphs">peak (kb)</text>
<text x="331.5" y="279.1" font-size="7.04" fill="#333" textLength="25.2" lengthAdjust="spacingAndGlyphs">H3K27ac</text>
<rect x="328.2" y="282.3" width="31.7" height="7.8" fill="url(#hg)"/>
<text x="327.7" y="297.8" font-size="6.93" fill="#222" text-anchor="middle" textLength="3.5" lengthAdjust="spacingAndGlyphs">0</text>
<text x="358.2" y="297.8" font-size="6.93" fill="#222" text-anchor="middle" textLength="3.5" lengthAdjust="spacingAndGlyphs">8</text>
<text x="0.3" y="323.6" font-size="11.8" font-weight="bold" fill="#111" textLength="6.8" lengthAdjust="spacingAndGlyphs">F</text>
<rect x="24.2" y="328.9" width="96.3" height="78.30000000000001" fill="none" stroke="#222" stroke-width="1.1"/>
<line x1="21.0" y1="398.0" x2="24.2" y2="398.0" stroke="#222" stroke-width="0.8"/>
<text x="18.799999999999997" y="400.8" font-size="8.58" fill="#222" text-anchor="end" textLength="4.34" lengthAdjust="spacingAndGlyphs">1</text>
<line x1="21.0" y1="382.1" x2="24.2" y2="382.1" stroke="#222" stroke-width="0.8"/>
<text x="18.799999999999997" y="384.90000000000003" font-size="8.58" fill="#222" text-anchor="end" textLength="4.34" lengthAdjust="spacingAndGlyphs">2</text>
<line x1="21.0" y1="366.2" x2="24.2" y2="366.2" stroke="#222" stroke-width="0.8"/>
<text x="18.799999999999997" y="369.0" font-size="8.58" fill="#222" text-anchor="end" textLength="4.34" lengthAdjust="spacingAndGlyphs">3</text>
<line x1="21.0" y1="350.3" x2="24.2" y2="350.3" stroke="#222" stroke-width="0.8"/>
<text x="18.799999999999997" y="353.1" font-size="8.58" fill="#222" text-anchor="end" textLength="4.34" lengthAdjust="spacingAndGlyphs">4</text>
<line x1="21.0" y1="334.4" x2="24.2" y2="334.4" stroke="#222" stroke-width="0.8"/>
<text x="18.799999999999997" y="337.2" font-size="8.58" fill="#222" text-anchor="end" textLength="4.34" lengthAdjust="spacingAndGlyphs">5</text>
<line x1="36.9" y1="407.2" x2="36.9" y2="410.2" stroke="#222" stroke-width="0.8"/>
<text x="36.29999999999999" y="420.2" font-size="8.36" fill="#222" text-anchor="middle" textLength="8.67" lengthAdjust="spacingAndGlyphs">&#8722;4</text>
<line x1="54.5" y1="407.2" x2="54.5" y2="410.2" stroke="#222" stroke-width="0.8"/>
<text x="53.89999999999999" y="420.2" font-size="8.36" fill="#222" text-anchor="middle" textLength="8.67" lengthAdjust="spacingAndGlyphs">&#8722;2</text>
<line x1="72.1" y1="407.2" x2="72.1" y2="410.2" stroke="#222" stroke-width="0.8"/>
<text x="72.1" y="420.2" font-size="8.36" fill="#222" text-anchor="middle" textLength="4.23" lengthAdjust="spacingAndGlyphs">0</text>
<line x1="89.7" y1="407.2" x2="89.7" y2="410.2" stroke="#222" stroke-width="0.8"/>
<text x="89.69999999999999" y="420.2" font-size="8.36" fill="#222" text-anchor="middle" textLength="4.23" lengthAdjust="spacingAndGlyphs">2</text>
<line x1="107.3" y1="407.2" x2="107.3" y2="410.2" stroke="#222" stroke-width="0.8"/>
<text x="107.3" y="420.2" font-size="8.36" fill="#222" text-anchor="middle" textLength="4.23" lengthAdjust="spacingAndGlyphs">4</text>
<text x="73.1" y="433.2" font-size="9.24" fill="#222" text-anchor="middle" textLength="80" lengthAdjust="spacingAndGlyphs">Distance from peak (kb)</text>
<text transform="translate(7.199999999999999,378.0) rotate(-90)" font-size="8.8" fill="#222" textLength="20.6" lengthAdjust="spacingAndGlyphs">Signal</text>
<text x="26.5" y="337.0" font-size="7.92" fill="#222" textLength="30.2" lengthAdjust="spacingAndGlyphs">H3K27ac</text>
<polyline points="28.1,394.0 28.8,393.1 29.6,393.6 30.3,394.4 31.0,395.1 31.8,394.5 32.5,394.9 33.2,395.3 34.0,394.2 34.7,393.5 35.4,392.7 36.2,393.2 36.9,392.5 37.6,392.1 38.4,392.8 39.1,391.5 39.8,390.7 40.6,388.5 41.3,388.9 42.0,389.2 42.8,388.1 43.5,388.1 44.2,387.4 45.0,387.9 45.7,387.4 46.4,386.4 47.2,385.9 47.9,385.9 48.6,386.6 49.4,385.4 50.1,384.8 50.8,383.7 51.6,383.2 52.3,381.9 53.0,381.8 53.8,381.3 54.5,380.4 55.2,381.0 56.0,380.5 56.7,380.2 57.4,377.9 58.2,378.1 58.9,377.4 59.6,376.9 60.4,377.2 61.1,377.1 61.8,373.6 62.6,371.8 63.3,369.0 64.0,368.0 64.8,365.3 65.5,360.3 66.2,355.8 67.0,353.8 67.7,351.1 68.4,347.0 69.2,343.2 69.9,340.2 70.6,337.1 71.4,336.2 72.1,336.0 72.8,335.7 73.6,336.9 74.3,339.4 75.0,342.0 75.8,343.4 76.5,347.3 77.2,350.0 78.0,354.2 78.7,357.5 79.4,361.1 80.2,364.6 80.9,366.4 81.6,369.4 82.4,371.6 83.1,375.3 83.8,378.9 84.6,381.0 85.3,384.8 86.0,385.4 86.8,386.2 87.5,388.4 88.2,388.6 89.0,388.6 89.7,390.1 90.4,388.9 91.2,388.8 91.9,388.3 92.6,387.6 93.4,386.0 94.1,386.3 94.8,387.0 95.6,387.3 96.3,389.4 97.0,388.3 97.8,389.8 98.5,389.6 99.2,391.0 100.0,391.7 100.7,391.7 101.4,390.0 102.2,390.2 102.9,391.4 103.6,392.0 104.4,393.1 105.1,393.0 105.8,393.5 106.6,392.8 107.3,394.1 108.0,394.1 108.8,394.5 109.5,394.7 110.2,393.7 111.0,393.7 111.7,393.4 112.4,392.8 113.2,392.2 113.9,393.6 114.6,392.8 115.4,394.0 116.1,393.2" fill="none" stroke="#2aa3d6" stroke-width="1.6" stroke-linejoin="round"/>
<polyline points="28.1,395.9 28.8,397.2 29.6,397.0 30.3,397.1 31.0,396.5 31.8,398.0 32.5,398.0 33.2,398.2 34.0,398.5 34.7,398.5 35.4,398.2 36.2,397.8 36.9,398.0 37.6,397.0 38.4,397.2 39.1,399.3 39.8,396.9 40.6,396.8 41.3,397.0 42.0,396.2 42.8,395.8 43.5,395.6 44.2,396.2 45.0,395.6 45.7,396.5 46.4,394.7 47.2,395.7 47.9,395.4 48.6,394.9 49.4,394.5 50.1,394.5 50.8,393.9 51.6,396.8 52.3,395.6 53.0,394.9 53.8,394.7 54.5,393.0 55.2,393.8 56.0,393.4 56.7,394.6 57.4,393.4 58.2,394.0 58.9,394.3 59.6,391.1 60.4,390.6 61.1,390.7 61.8,390.3 62.6,390.8 63.3,390.3 64.0,388.5 64.8,389.2 65.5,387.2 66.2,387.4 67.0,385.2 67.7,384.4 68.4,381.1 69.2,379.2 69.9,379.8 70.6,381.2 71.4,380.9 72.1,380.0 72.8,380.6 73.6,379.9 74.3,379.1 75.0,380.2 75.8,382.4 76.5,383.4 77.2,385.6 78.0,386.5 78.7,388.2 79.4,388.1 80.2,390.1 80.9,391.9 81.6,392.0 82.4,392.8 83.1,393.7 83.8,393.7 84.6,393.2 85.3,395.4 86.0,395.1 86.8,395.2 87.5,395.5 88.2,394.9 89.0,396.3 89.7,395.5 90.4,395.8 91.2,395.8 91.9,396.1 92.6,396.4 93.4,396.8 94.1,396.3 94.8,394.8 95.6,394.8 96.3,395.0 97.0,395.5 97.8,396.6 98.5,396.4 99.2,395.2 100.0,397.2 100.7,396.6 101.4,396.1 102.2,396.4 102.9,396.2 103.6,395.7 104.4,394.7 105.1,394.9 105.8,394.7 106.6,395.7 107.3,395.9 108.0,396.5 108.8,396.8 109.5,397.5 110.2,397.0 111.0,396.2 111.7,397.0 112.4,397.1 113.2,396.9 113.9,397.3 114.6,396.8 115.4,397.1 116.1,398.4" fill="none" stroke="#1d2f55" stroke-width="1.3" stroke-linejoin="round"/>
<polyline points="28.1,397.7 28.8,396.6 29.6,397.7 30.3,396.8 31.0,397.2 31.8,397.4 32.5,395.7 33.2,396.2 34.0,396.5 34.7,396.1 35.4,395.5 36.2,396.0 36.9,395.8 37.6,396.8 38.4,396.8 39.1,396.8 39.8,397.5 40.6,397.9 41.3,398.2 42.0,397.1 42.8,396.4 43.5,396.1 44.2,395.5 45.0,396.3 45.7,395.6 46.4,394.9 47.2,394.0 47.9,394.8 48.6,394.7 49.4,395.9 50.1,395.3 50.8,396.2 51.6,396.0 52.3,393.9 53.0,395.2 53.8,393.5 54.5,392.9 55.2,392.8 56.0,392.0 56.7,391.4 57.4,390.5 58.2,390.9 58.9,391.2 59.6,391.3 60.4,391.5 61.1,390.7 61.8,390.5 62.6,388.2 63.3,388.8 64.0,388.1 64.8,387.2 65.5,387.1 66.2,383.5 67.0,384.1 67.7,382.0 68.4,380.4 69.2,377.1 69.9,378.6 70.6,376.9 71.4,377.2 72.1,376.8 72.8,377.3 73.6,376.7 74.3,377.8 75.0,378.4 75.8,379.8 76.5,380.3 77.2,384.9 78.0,384.9 78.7,385.7 79.4,387.9 80.2,389.0 80.9,390.3 81.6,389.4 82.4,390.3 83.1,391.3 83.8,392.0 84.6,392.7 85.3,393.2 86.0,394.2 86.8,392.7 87.5,395.2 88.2,398.0 89.0,396.8 89.7,396.2 90.4,395.5 91.2,395.6 91.9,395.7 92.6,395.5 93.4,394.9 94.1,395.8 94.8,396.2 95.6,394.7 96.3,395.1 97.0,396.6 97.8,394.8 98.5,395.1 99.2,396.5 100.0,397.7 100.7,397.1 101.4,397.8 102.2,398.3 102.9,398.8 103.6,398.5 104.4,397.0 105.1,397.5 105.8,398.5 106.6,397.5 107.3,397.4 108.0,396.7 108.8,396.1 109.5,396.8 110.2,397.2 111.0,397.4 111.7,398.4 112.4,397.5 113.2,396.5 113.9,396.9 114.6,397.4 115.4,397.8 116.1,398.4" fill="none" stroke="#5b3c8c" stroke-width="1.3" stroke-linejoin="round"/>
<polyline points="28.1,397.7 28.8,397.2 29.6,397.6 30.3,397.2 31.0,396.5 31.8,396.4 32.5,395.4 33.2,396.8 34.0,396.7 34.7,397.3 35.4,397.6 36.2,397.2 36.9,396.7 37.6,396.1 38.4,395.6 39.1,393.9 39.8,394.0 40.6,395.9 41.3,395.5 42.0,395.8 42.8,395.9 43.5,394.4 44.2,394.6 45.0,396.1 45.7,395.0 46.4,394.8 47.2,395.3 47.9,395.3 48.6,395.0 49.4,394.3 50.1,394.1 50.8,393.5 51.6,391.7 52.3,392.8 53.0,393.2 53.8,393.0 54.5,391.7 55.2,392.2 56.0,390.6 56.7,391.7 57.4,392.0 58.2,391.2 58.9,391.2 59.6,390.9 60.4,389.7 61.1,388.7 61.8,388.2 62.6,387.4 63.3,385.2 64.0,384.3 64.8,383.8 65.5,381.9 66.2,382.0 67.0,380.3 67.7,378.1 68.4,376.8 69.2,375.7 69.9,374.9 70.6,375.0 71.4,374.9 72.1,375.0 72.8,373.7 73.6,374.5 74.3,373.7 75.0,374.7 75.8,377.5 76.5,379.3 77.2,381.5 78.0,383.6 78.7,386.3 79.4,387.3 80.2,387.9 80.9,388.6 81.6,388.6 82.4,388.5 83.1,389.5 83.8,389.0 84.6,391.8 85.3,392.5 86.0,395.0 86.8,393.9 87.5,394.1 88.2,393.1 89.0,394.1 89.7,396.0 90.4,394.5 91.2,395.9 91.9,396.6 92.6,396.3 93.4,395.5 94.1,396.0 94.8,395.9 95.6,397.5 96.3,395.6 97.0,396.0 97.8,396.2 98.5,396.0 99.2,396.3 100.0,396.4 100.7,397.4 101.4,397.3 102.2,396.8 102.9,396.1 103.6,396.6 104.4,396.8 105.1,396.7 105.8,396.5 106.6,396.6 107.3,397.1 108.0,397.6 108.8,396.6 109.5,396.7 110.2,397.0 111.0,394.5 111.7,395.1 112.4,395.5 113.2,396.3 113.9,397.7 114.6,396.8 115.4,397.3 116.1,397.4" fill="none" stroke="#2b7560" stroke-width="1.3" stroke-linejoin="round"/>
<polyline points="28.1,398.6 28.8,399.0 29.6,397.7 30.3,399.3 31.0,398.4 31.8,399.5 32.5,397.4 33.2,396.9 34.0,395.7 34.7,396.4 35.4,396.1 36.2,396.4 36.9,396.8 37.6,396.3 38.4,397.0 39.1,396.6 39.8,395.4 40.6,395.2 41.3,395.4 42.0,393.4 42.8,393.8 43.5,394.5 44.2,394.2 45.0,394.5 45.7,394.4 46.4,394.2 47.2,392.2 47.9,392.5 48.6,392.5 49.4,392.0 50.1,390.6 50.8,391.5 51.6,392.2 52.3,390.0 53.0,391.8 53.8,391.9 54.5,391.0 55.2,388.9 56.0,390.2 56.7,391.9 57.4,390.2 58.2,390.0 58.9,389.6 59.6,388.5 60.4,388.0 61.1,387.4 61.8,387.2 62.6,384.8 63.3,382.7 64.0,382.2 64.8,381.7 65.5,380.0 66.2,378.6 67.0,378.0 67.7,376.3 68.4,373.2 69.2,371.6 69.9,371.5 70.6,370.8 71.4,370.4 72.1,370.0 72.8,371.8 73.6,370.0 74.3,370.3 75.0,372.4 75.8,373.9 76.5,376.5 77.2,379.3 78.0,380.8 78.7,381.1 79.4,383.4 80.2,384.6 80.9,384.9 81.6,387.7 82.4,389.0 83.1,389.0 83.8,391.3 84.6,391.6 85.3,390.9 86.0,390.9 86.8,391.6 87.5,394.2 88.2,392.3 89.0,392.7 89.7,392.8 90.4,393.2 91.2,395.2 91.9,396.2 92.6,396.7 93.4,394.5 94.1,395.6 94.8,395.8 95.6,396.0 96.3,395.6 97.0,395.5 97.8,395.7 98.5,397.1 99.2,399.5 100.0,398.1 100.7,397.3 101.4,396.1 102.2,396.5 102.9,397.2 103.6,396.7 104.4,398.1 105.1,398.4 105.8,398.6 106.6,397.7 107.3,395.8 108.0,395.8 108.8,395.6 109.5,396.1 110.2,396.5 111.0,397.2 111.7,397.5 112.4,399.4 113.2,399.5 113.9,399.7 114.6,398.1 115.4,397.4 116.1,396.6" fill="none" stroke="#4fae4a" stroke-width="1.5" stroke-linejoin="round"/>
<polyline points="28.1,397.3 28.8,398.8 29.6,398.7 30.3,398.0 31.0,396.4 31.8,396.7 32.5,398.1 33.2,397.3 34.0,398.0 34.7,396.4 35.4,396.6 36.2,395.1 36.9,395.7 37.6,396.7 38.4,397.5 39.1,397.0 39.8,396.0 40.6,394.7 41.3,394.7 42.0,395.4 42.8,394.8 43.5,395.9 44.2,394.8 45.0,395.2 45.7,393.5 46.4,392.9 47.2,392.9 47.9,394.0 48.6,393.2 49.4,392.9 50.1,393.3 50.8,393.5 51.6,392.1 52.3,392.5 53.0,392.0 53.8,390.8 54.5,392.4 55.2,390.4 56.0,389.8 56.7,390.6 57.4,391.1 58.2,391.4 58.9,389.7 59.6,391.4 60.4,389.4 61.1,388.8 61.8,388.6 62.6,387.6 63.3,386.4 64.0,385.1 64.8,383.0 65.5,382.7 66.2,380.4 67.0,378.3 67.7,377.3 68.4,375.2 69.2,374.3 69.9,373.7 70.6,373.0 71.4,371.2 72.1,371.6 72.8,372.4 73.6,372.8 74.3,373.2 75.0,375.2 75.8,375.6 76.5,378.9 77.2,381.7 78.0,384.1 78.7,384.7 79.4,383.9 80.2,384.1 80.9,385.9 81.6,387.5 82.4,388.9 83.1,390.7 83.8,390.5 84.6,391.3 85.3,390.3 86.0,391.9 86.8,393.5 87.5,395.4 88.2,396.4 89.0,395.1 89.7,394.6 90.4,395.6 91.2,396.6 91.9,395.7 92.6,395.8 93.4,395.5 94.1,395.6 94.8,396.3 95.6,397.6 96.3,396.9 97.0,396.6 97.8,396.4 98.5,395.8 99.2,395.6 100.0,396.5 100.7,396.2 101.4,398.3 102.2,397.1 102.9,397.1 103.6,396.2 104.4,395.8 105.1,397.1 105.8,397.2 106.6,396.3 107.3,397.2 108.0,397.2 108.8,397.7 109.5,397.1 110.2,397.0 111.0,397.9 111.7,398.8 112.4,400.0 113.2,398.2 113.9,398.3 114.6,398.6 115.4,398.6 116.1,398.9" fill="none" stroke="#dc9a55" stroke-width="1.5" stroke-linejoin="round"/>
<polyline points="28.1,397.9 28.8,397.3 29.6,397.5 30.3,397.6 31.0,398.1 31.8,397.8 32.5,396.5 33.2,396.3 34.0,395.6 34.7,395.9 35.4,395.8 36.2,395.9 36.9,397.4 37.6,396.1 38.4,395.6 39.1,395.2 39.8,396.7 40.6,397.4 41.3,397.1 42.0,396.5 42.8,395.5 43.5,395.1 44.2,394.4 45.0,394.8 45.7,394.2 46.4,393.7 47.2,394.2 47.9,392.4 48.6,392.3 49.4,391.7 50.1,392.7 50.8,393.2 51.6,393.1 52.3,392.8 53.0,391.9 53.8,391.7 54.5,392.0 55.2,392.3 56.0,392.0 56.7,390.2 57.4,390.7 58.2,390.0 58.9,389.3 59.6,390.2 60.4,389.4 61.1,387.7 61.8,389.0 62.6,387.5 63.3,386.0 64.0,385.2 64.8,383.2 65.5,382.0 66.2,382.0 67.0,379.1 67.7,376.8 68.4,374.5 69.2,372.0 69.9,372.0 70.6,372.1 71.4,373.1 72.1,371.9 72.8,372.7 73.6,373.1 74.3,374.1 75.0,375.3 75.8,377.4 76.5,378.2 77.2,382.4 78.0,384.9 78.7,385.4 79.4,385.4 80.2,386.8 80.9,389.7 81.6,391.7 82.4,390.9 83.1,391.5 83.8,392.4 84.6,391.5 85.3,391.1 86.0,391.9 86.8,392.5 87.5,393.0 88.2,392.4 89.0,392.8 89.7,393.2 90.4,393.5 91.2,395.4 91.9,394.2 92.6,394.0 93.4,394.2 94.1,396.4 94.8,396.7 95.6,395.7 96.3,397.4 97.0,397.0 97.8,396.0 98.5,397.4 99.2,395.9 100.0,395.9 100.7,396.4 101.4,396.4 102.2,396.1 102.9,396.4 103.6,395.8 104.4,396.9 105.1,397.3 105.8,396.4 106.6,396.7 107.3,397.6 108.0,396.7 108.8,395.8 109.5,396.9 110.2,398.2 111.0,398.0 111.7,397.9 112.4,397.9 113.2,396.7 113.9,397.9 114.6,396.8 115.4,398.2 116.1,398.6" fill="none" stroke="#c21f2f" stroke-width="2.0" stroke-linejoin="round"/>
<text x="84.9" y="335.9" font-size="7.26" fill="#2b7560" textLength="10.0" lengthAdjust="spacingAndGlyphs">WT</text>
<text x="84.9" y="343.62" font-size="7.26" fill="#dc9a55" textLength="9.8" lengthAdjust="spacingAndGlyphs">ITD</text>
<text x="84.9" y="351.34" font-size="7.26" fill="#5b3c8c" textLength="17.2" lengthAdjust="spacingAndGlyphs">Runx1</text>
<text x="84.9" y="359.06" font-size="7.26" fill="#4fae4a" textLength="21.2" lengthAdjust="spacingAndGlyphs">NHD13</text>
<text x="84.9" y="366.78" font-size="7.26" fill="#c0283f" textLength="29.6" lengthAdjust="spacingAndGlyphs">ITD/Runx1</text>
<text x="84.9" y="374.5" font-size="7.26" fill="#3a6394" textLength="33.9" lengthAdjust="spacingAndGlyphs">ITD/NHD13</text>
<text x="138.4" y="323.7" font-size="11.8" font-weight="bold" fill="#111" textLength="9.5" lengthAdjust="spacingAndGlyphs">G</text>
<rect x="162.6" y="328.9" width="95.1" height="77.90000000000003" fill="none" stroke="#222" stroke-width="1.1"/>
<line x1="159.4" y1="396.7" x2="162.6" y2="396.7" stroke="#222" stroke-width="0.8"/>
<text x="157.2" y="399.5" font-size="8.58" fill="#222" text-anchor="end" textLength="4.34" lengthAdjust="spacingAndGlyphs">1</text>
<line x1="159.4" y1="380.9" x2="162.6" y2="380.9" stroke="#222" stroke-width="0.8"/>
<text x="157.2" y="383.75" font-size="8.58" fill="#222" text-anchor="end" textLength="4.34" lengthAdjust="spacingAndGlyphs">2</text>
<line x1="159.4" y1="365.2" x2="162.6" y2="365.2" stroke="#222" stroke-width="0.8"/>
<text x="157.2" y="368.0" font-size="8.58" fill="#222" text-anchor="end" textLength="4.34" lengthAdjust="spacingAndGlyphs">3</text>
<line x1="159.4" y1="349.4" x2="162.6" y2="349.4" stroke="#222" stroke-width="0.8"/>
<text x="157.2" y="352.25" font-size="8.58" fill="#222" text-anchor="end" textLength="4.34" lengthAdjust="spacingAndGlyphs">4</text>
<line x1="159.4" y1="333.7" x2="162.6" y2="333.7" stroke="#222" stroke-width="0.8"/>
<text x="157.2" y="336.5" font-size="8.58" fill="#222" text-anchor="end" textLength="4.34" lengthAdjust="spacingAndGlyphs">5</text>
<line x1="175.0" y1="406.8" x2="175.0" y2="409.8" stroke="#222" stroke-width="0.8"/>
<text x="174.4" y="419.8" font-size="8.36" fill="#222" text-anchor="middle" textLength="8.67" lengthAdjust="spacingAndGlyphs">&#8722;4</text>
<line x1="193.1" y1="406.8" x2="193.1" y2="409.8" stroke="#222" stroke-width="0.8"/>
<text x="192.5" y="419.8" font-size="8.36" fill="#222" text-anchor="middle" textLength="8.67" lengthAdjust="spacingAndGlyphs">&#8722;2</text>
<line x1="211.2" y1="406.8" x2="211.2" y2="409.8" stroke="#222" stroke-width="0.8"/>
<text x="211.2" y="419.8" font-size="8.36" fill="#222" text-anchor="middle" textLength="4.23" lengthAdjust="spacingAndGlyphs">0</text>
<line x1="229.3" y1="406.8" x2="229.3" y2="409.8" stroke="#222" stroke-width="0.8"/>
<text x="229.29999999999998" y="419.8" font-size="8.36" fill="#222" text-anchor="middle" textLength="4.23" lengthAdjust="spacingAndGlyphs">2</text>
<line x1="247.4" y1="406.8" x2="247.4" y2="409.8" stroke="#222" stroke-width="0.8"/>
<text x="247.39999999999998" y="419.8" font-size="8.36" fill="#222" text-anchor="middle" textLength="4.23" lengthAdjust="spacingAndGlyphs">4</text>
<text x="210.4" y="432.8" font-size="9.24" fill="#222" text-anchor="middle" textLength="78" lengthAdjust="spacingAndGlyphs">Distance from peak (kb)</text>
<text transform="translate(145.6,378.0) rotate(-90)" font-size="8.8" fill="#222" textLength="20.6" lengthAdjust="spacingAndGlyphs">Signal</text>
<text x="164.9" y="337.0" font-size="7.92" fill="#222" textLength="30.2" lengthAdjust="spacingAndGlyphs">H3K27ac</text>
<polyline points="165.9,395.8 166.7,395.2 167.5,394.5 168.2,395.3 169.0,396.5 169.7,396.2 170.5,395.7 171.2,395.0 172.0,396.5 172.7,397.5 173.5,396.5 174.2,396.3 175.0,395.3 175.8,395.1 176.5,395.8 177.3,396.3 178.0,394.3 178.8,395.4 179.5,396.4 180.3,397.2 181.0,396.6 181.8,396.2 182.5,396.4 183.3,396.2 184.0,395.8 184.8,395.3 185.6,394.6 186.3,394.9 187.1,396.6 187.8,395.6 188.6,396.6 189.3,396.2 190.1,397.0 190.8,396.2 191.6,396.4 192.3,395.7 193.1,392.8 193.9,393.9 194.6,393.7 195.4,395.3 196.1,395.3 196.9,394.6 197.6,394.7 198.4,394.2 199.1,393.9 199.9,394.5 200.6,393.5 201.4,393.9 202.1,391.8 202.9,392.5 203.7,391.7 204.4,391.7 205.2,390.8 205.9,391.4 206.7,390.4 207.4,390.5 208.2,389.3 208.9,389.1 209.7,389.1 210.4,389.8 211.2,388.7 212.0,388.3 212.7,387.6 213.5,389.2 214.2,389.5 215.0,390.0 215.7,390.7 216.5,391.3 217.2,391.8 218.0,392.9 218.7,393.9 219.5,394.2 220.2,393.7 221.0,392.9 221.8,393.0 222.5,393.2 223.3,393.7 224.0,394.2 224.8,395.0 225.5,394.9 226.3,394.0 227.0,395.3 227.8,396.2 228.5,394.7 229.3,395.3 230.1,395.0 230.8,395.0 231.6,396.6 232.3,394.7 233.1,394.2 233.8,395.2 234.6,395.3 235.3,395.9 236.1,397.0 236.8,397.1 237.6,396.8 238.3,396.0 239.1,395.9 239.9,396.3 240.6,395.5 241.4,396.6 242.1,396.1 242.9,395.5 243.6,396.2 244.4,397.8 245.1,397.9 245.9,397.1 246.6,396.4 247.4,395.2 248.2,396.5 248.9,396.4 249.7,395.8 250.4,396.1 251.2,398.0 251.9,396.5 252.7,394.5 253.4,394.4 254.2,395.8 254.9,396.2 255.7,395.9 256.4,393.9" fill="none" stroke="#2b7560" stroke-width="1.3" stroke-linejoin="round"/>
<polyline points="165.9,396.6 166.7,396.0 167.5,396.2 168.2,396.5 169.0,395.7 169.7,395.9 170.5,396.4 171.2,395.2 172.0,396.3 172.7,397.6 173.5,398.5 174.2,398.4 175.0,397.5 175.8,396.7 176.5,396.0 177.3,395.0 178.0,394.5 178.8,395.1 179.5,394.8 180.3,395.2 181.0,396.3 181.8,395.8 182.5,396.1 183.3,396.4 184.0,394.8 184.8,394.9 185.6,395.9 186.3,396.1 187.1,394.2 187.8,395.3 188.6,395.0 189.3,394.9 190.1,395.0 190.8,394.9 191.6,395.7 192.3,396.0 193.1,396.0 193.9,396.1 194.6,395.2 195.4,394.1 196.1,395.4 196.9,394.9 197.6,395.9 198.4,395.9 199.1,395.4 199.9,394.7 200.6,394.6 201.4,396.2 202.1,393.7 202.9,393.6 203.7,393.6 204.4,392.5 205.2,392.7 205.9,393.4 206.7,392.1 207.4,391.3 208.2,391.6 208.9,390.4 209.7,389.9 210.4,390.7 211.2,388.7 212.0,388.6 212.7,390.2 213.5,390.2 214.2,390.7 215.0,390.5 215.7,392.5 216.5,391.9 217.2,391.8 218.0,392.0 218.7,392.4 219.5,392.2 220.2,392.8 221.0,393.7 221.8,395.2 222.5,394.6 223.3,394.5 224.0,395.2 224.8,395.8 225.5,395.6 226.3,398.1 227.0,397.2 227.8,399.0 228.5,397.8 229.3,396.6 230.1,395.2 230.8,396.4 231.6,396.4 232.3,396.8 233.1,398.7 233.8,397.5 234.6,397.4 235.3,397.4 236.1,398.2 236.8,397.9 237.6,397.7 238.3,396.6 239.1,396.8 239.9,394.3 240.6,396.0 241.4,396.8 242.1,397.1 242.9,397.8 243.6,396.3 244.4,396.2 245.1,397.6 245.9,397.3 246.6,396.2 247.4,397.7 248.2,397.2 248.9,397.2 249.7,395.2 250.4,395.6 251.2,396.4 251.9,397.0 252.7,395.3 253.4,396.3 254.2,394.6 254.9,396.7 255.7,396.7 256.4,396.8" fill="none" stroke="#1d2f55" stroke-width="1.5" stroke-linejoin="round"/>
<polyline points="165.9,394.6 166.7,393.5 167.5,394.8 168.2,396.4 169.0,395.7 169.7,395.1 170.5,395.0 171.2,394.9 172.0,395.4 172.7,396.1 173.5,396.7 174.2,396.7 175.0,396.9 175.8,395.8 176.5,395.4 177.3,396.6 178.0,395.7 178.8,395.8 179.5,394.9 180.3,394.0 181.0,394.3 181.8,396.3 182.5,395.4 183.3,396.6 184.0,394.8 184.8,395.5 185.6,395.5 186.3,393.9 187.1,395.8 187.8,395.5 188.6,396.1 189.3,396.0 190.1,396.1 190.8,395.0 191.6,395.1 192.3,394.6 193.1,394.1 193.9,395.7 194.6,394.0 195.4,394.4 196.1,395.7 196.9,395.6 197.6,394.3 198.4,393.2 199.1,393.8 199.9,393.4 200.6,392.9 201.4,391.8 202.1,392.1 202.9,391.2 203.7,392.0 204.4,392.2 205.2,391.1 205.9,390.3 206.7,390.3 207.4,389.7 208.2,389.5 208.9,388.8 209.7,387.9 210.4,387.8 211.2,387.4 212.0,388.0 212.7,388.9 213.5,391.3 214.2,390.6 215.0,390.7 215.7,390.6 216.5,392.7 217.2,392.9 218.0,393.2 218.7,394.5 219.5,393.2 220.2,392.4 221.0,394.2 221.8,393.9 222.5,392.9 223.3,394.9 224.0,394.3 224.8,393.7 225.5,393.0 226.3,395.3 227.0,396.3 227.8,395.9 228.5,394.9 229.3,396.3 230.1,396.7 230.8,397.3 231.6,395.8 232.3,396.4 233.1,395.8 233.8,395.5 234.6,394.9 235.3,395.2 236.1,395.5 236.8,395.0 237.6,395.3 238.3,396.9 239.1,397.1 239.9,396.0 240.6,396.0 241.4,396.4 242.1,396.1 242.9,393.5 243.6,394.7 244.4,394.9 245.1,395.1 245.9,395.7 246.6,394.8 247.4,394.6 248.2,394.8 248.9,396.4 249.7,395.1 250.4,394.7 251.2,395.2 251.9,397.6 252.7,396.7 253.4,397.2 254.2,396.6 254.9,396.5 255.7,396.7 256.4,395.2" fill="none" stroke="#5b3c8c" stroke-width="1.3" stroke-linejoin="round"/>
<polyline points="165.9,392.8 166.7,392.6 167.5,393.9 168.2,395.0 169.0,394.5 169.7,393.7 170.5,393.8 171.2,394.7 172.0,394.7 172.7,393.4 173.5,394.5 174.2,393.6 175.0,393.4 175.8,393.4 176.5,393.2 177.3,393.9 178.0,394.1 178.8,393.0 179.5,393.8 180.3,394.2 181.0,395.1 181.8,395.0 182.5,394.2 183.3,393.5 184.0,393.5 184.8,393.4 185.6,393.3 186.3,393.4 187.1,393.0 187.8,393.4 188.6,392.9 189.3,393.3 190.1,394.4 190.8,394.8 191.6,394.2 192.3,394.1 193.1,394.4 193.9,394.3 194.6,393.6 195.4,393.0 196.1,392.4 196.9,393.1 197.6,392.7 198.4,391.4 199.1,390.8 199.9,389.4 200.6,389.6 201.4,389.2 202.1,388.6 202.9,388.3 203.7,387.6 204.4,386.8 205.2,386.2 205.9,385.8 206.7,384.8 207.4,383.6 208.2,383.4 208.9,381.8 209.7,381.2 210.4,380.1 211.2,381.0 212.0,381.0 212.7,381.5 213.5,381.9 214.2,383.0 215.0,384.1 215.7,384.4 216.5,387.3 217.2,388.1 218.0,389.4 218.7,390.7 219.5,391.8 220.2,390.8 221.0,391.3 221.8,391.2 222.5,392.2 223.3,393.1 224.0,392.7 224.8,392.8 225.5,393.4 226.3,393.7 227.0,393.4 227.8,394.1 228.5,394.6 229.3,394.4 230.1,393.6 230.8,393.4 231.6,393.6 232.3,393.1 233.1,393.8 233.8,394.4 234.6,393.0 235.3,394.0 236.1,394.0 236.8,394.0 237.6,394.3 238.3,394.4 239.1,394.2 239.9,394.1 240.6,394.8 241.4,394.8 242.1,393.9 242.9,393.9 243.6,394.6 244.4,394.6 245.1,395.3 245.9,395.9 246.6,395.7 247.4,394.3 248.2,394.9 248.9,396.1 249.7,395.6 250.4,395.6 251.2,394.8 251.9,394.0 252.7,394.6 253.4,394.6 254.2,395.2 254.9,394.3 255.7,395.0 256.4,394.9" fill="none" stroke="#dc9a55" stroke-width="1.4" stroke-linejoin="round"/>
<polyline points="165.9,393.1 166.7,393.2 167.5,393.3 168.2,393.7 169.0,393.5 169.7,393.5 170.5,392.8 171.2,393.8 172.0,392.0 172.7,394.8 173.5,394.2 174.2,393.4 175.0,393.6 175.8,394.2 176.5,394.0 177.3,393.4 178.0,392.8 178.8,394.3 179.5,394.0 180.3,394.4 181.0,393.5 181.8,394.0 182.5,393.9 183.3,393.3 184.0,393.9 184.8,393.7 185.6,394.3 186.3,394.2 187.1,395.2 187.8,395.1 188.6,394.7 189.3,394.6 190.1,392.6 190.8,394.4 191.6,395.3 192.3,394.2 193.1,393.2 193.9,393.0 194.6,392.2 195.4,391.0 196.1,392.1 196.9,393.2 197.6,393.0 198.4,391.4 199.1,390.7 199.9,390.4 200.6,389.6 201.4,388.9 202.1,389.6 202.9,388.2 203.7,388.0 204.4,387.2 205.2,386.6 205.9,385.6 206.7,383.8 207.4,383.1 208.2,382.0 208.9,380.4 209.7,379.3 210.4,379.3 211.2,379.3 212.0,380.3 212.7,380.9 213.5,381.2 214.2,381.1 215.0,383.6 215.7,385.3 216.5,386.5 217.2,388.5 218.0,389.6 218.7,389.7 219.5,391.5 220.2,391.5 221.0,392.2 221.8,390.9 222.5,391.3 223.3,391.7 224.0,392.6 224.8,393.8 225.5,393.6 226.3,393.4 227.0,393.5 227.8,392.4 228.5,392.5 229.3,393.7 230.1,394.0 230.8,393.8 231.6,394.7 232.3,394.6 233.1,394.8 233.8,394.4 234.6,394.3 235.3,394.8 236.1,393.8 236.8,394.5 237.6,394.1 238.3,395.0 239.1,395.5 239.9,395.5 240.6,395.3 241.4,394.5 242.1,395.5 242.9,394.0 243.6,395.1 244.4,393.9 245.1,394.1 245.9,394.6 246.6,394.1 247.4,394.6 248.2,394.6 248.9,394.5 249.7,392.7 250.4,394.2 251.2,393.1 251.9,393.9 252.7,394.7 253.4,395.0 254.2,394.0 254.9,394.4 255.7,395.0 256.4,394.4" fill="none" stroke="#4fae4a" stroke-width="1.4" stroke-linejoin="round"/>
<polyline points="165.9,392.4 166.7,391.7 167.5,392.5 168.2,392.0 169.0,392.9 169.7,392.1 170.5,392.3 171.2,391.4 172.0,391.4 172.7,391.8 173.5,392.3 174.2,392.2 175.0,392.4 175.8,393.1 176.5,392.6 177.3,394.2 178.0,393.6 178.8,392.0 179.5,392.1 180.3,393.4 181.0,392.6 181.8,392.7 182.5,393.3 183.3,393.7 184.0,393.4 184.8,392.7 185.6,392.9 186.3,391.8 187.1,392.7 187.8,392.2 188.6,393.4 189.3,394.3 190.1,393.6 190.8,392.9 191.6,391.5 192.3,392.1 193.1,392.0 193.9,392.9 194.6,392.5 195.4,392.0 196.1,392.2 196.9,391.4 197.6,390.8 198.4,390.2 199.1,389.9 199.9,389.6 200.6,388.5 201.4,388.7 202.1,387.2 202.9,387.0 203.7,386.0 204.4,386.0 205.2,385.6 205.9,384.8 206.7,382.8 207.4,381.4 208.2,380.0 208.9,378.1 209.7,377.7 210.4,376.2 211.2,377.3 212.0,378.4 212.7,379.1 213.5,378.7 214.2,378.8 215.0,381.2 215.7,383.6 216.5,385.9 217.2,386.9 218.0,387.9 218.7,388.8 219.5,389.2 220.2,388.9 221.0,389.8 221.8,390.3 222.5,391.2 223.3,392.3 224.0,393.9 224.8,393.6 225.5,393.7 226.3,393.7 227.0,393.8 227.8,393.5 228.5,393.3 229.3,394.8 230.1,394.4 230.8,393.7 231.6,393.5 232.3,393.7 233.1,393.7 233.8,394.8 234.6,394.2 235.3,394.3 236.1,394.2 236.8,393.8 237.6,394.0 238.3,394.9 239.1,395.9 239.9,395.5 240.6,395.0 241.4,394.5 242.1,393.8 242.9,393.8 243.6,393.8 244.4,395.2 245.1,394.3 245.9,394.2 246.6,393.0 247.4,393.1 248.2,394.1 248.9,394.2 249.7,393.8 250.4,394.6 251.2,395.5 251.9,394.7 252.7,394.9 253.4,394.8 254.2,394.5 254.9,394.6 255.7,394.0 256.4,394.0" fill="none" stroke="#26b2c4" stroke-width="1.9" stroke-linejoin="round"/>
<polyline points="165.9,388.3 166.7,387.9 167.5,386.8 168.2,386.9 169.0,386.7 169.7,387.9 170.5,387.6 171.2,387.5 172.0,386.3 172.7,386.3 173.5,386.4 174.2,387.0 175.0,387.4 175.8,387.0 176.5,385.6 177.3,387.5 178.0,389.2 178.8,386.2 179.5,384.9 180.3,384.9 181.0,385.1 181.8,385.9 182.5,386.2 183.3,387.1 184.0,386.0 184.8,386.1 185.6,387.6 186.3,387.2 187.1,386.9 187.8,386.9 188.6,384.7 189.3,384.2 190.1,387.4 190.8,386.1 191.6,384.9 192.3,384.0 193.1,383.9 193.9,385.8 194.6,384.3 195.4,384.0 196.1,382.5 196.9,382.3 197.6,383.7 198.4,381.5 199.1,382.6 199.9,381.1 200.6,380.0 201.4,378.7 202.1,378.5 202.9,376.2 203.7,374.0 204.4,370.2 205.2,365.9 205.9,360.3 206.7,356.4 207.4,351.9 208.2,350.4 208.9,347.9 209.7,344.1 210.4,341.3 211.2,341.9 212.0,343.5 212.7,345.1 213.5,346.0 214.2,351.0 215.0,355.2 215.7,357.7 216.5,362.1 217.2,366.9 218.0,370.1 218.7,373.4 219.5,373.9 220.2,376.0 221.0,378.3 221.8,377.6 222.5,378.8 223.3,380.6 224.0,381.7 224.8,383.6 225.5,384.1 226.3,385.2 227.0,384.2 227.8,383.6 228.5,384.7 229.3,385.7 230.1,385.7 230.8,386.2 231.6,386.0 232.3,385.8 233.1,385.8 233.8,385.7 234.6,386.9 235.3,386.2 236.1,388.1 236.8,387.4 237.6,387.4 238.3,386.8 239.1,387.0 239.9,386.8 240.6,388.4 241.4,388.2 242.1,388.3 242.9,387.5 243.6,387.2 244.4,387.5 245.1,387.8 245.9,388.2 246.6,387.9 247.4,387.3 248.2,386.9 248.9,387.5 249.7,388.7 250.4,389.2 251.2,388.3 251.9,389.4 252.7,389.5 253.4,391.2 254.2,389.6 254.9,389.6 255.7,390.2 256.4,390.2" fill="none" stroke="#c0102a" stroke-width="1.9" stroke-linejoin="round"/>
<text x="223.6" y="335.4" font-size="7.26" fill="#2b7560" textLength="10.0" lengthAdjust="spacingAndGlyphs">WT</text>
<text x="223.6" y="343.12" font-size="7.26" fill="#dc9a55" textLength="9.8" lengthAdjust="spacingAndGlyphs">ITD</text>
<text x="223.6" y="350.84" font-size="7.26" fill="#5b3c8c" textLength="17.2" lengthAdjust="spacingAndGlyphs">Runx1</text>
<text x="223.6" y="358.56" font-size="7.26" fill="#4fae4a" textLength="21.2" lengthAdjust="spacingAndGlyphs">NHD13</text>
<text x="223.6" y="366.28" font-size="7.26" fill="#c0283f" textLength="29.6" lengthAdjust="spacingAndGlyphs">ITD/Runx1</text>
<text x="223.6" y="374.0" font-size="7.26" fill="#3a6394" textLength="33.9" lengthAdjust="spacingAndGlyphs">ITD/NHD13</text>
<text x="292.4" y="323.6" font-size="11.8" font-weight="bold" fill="#111" textLength="8.6" lengthAdjust="spacingAndGlyphs">H</text>
<text x="328.8" y="331.5" font-size="8.36" fill="#333" textLength="100.8" lengthAdjust="spacingAndGlyphs">Cooperative target enhancers</text>
<circle cx="350.1" cy="383.2" r="29.0" fill="none" stroke="#c0253f" stroke-width="1.3"/>
<circle cx="390.4" cy="382.6" r="14.4" fill="none" stroke="#2d5283" stroke-width="1.3"/>
<text x="351.0" y="385.9" font-size="8.47" fill="#c0253f" text-anchor="middle" textLength="12.6" lengthAdjust="spacingAndGlyphs">242</text>
<text x="390.0" y="385.9" font-size="8.47" fill="#3f6896" text-anchor="middle" textLength="8.7" lengthAdjust="spacingAndGlyphs">88</text>
<text x="380.2" y="347.7" font-size="8.8" fill="#222" text-anchor="middle" textLength="4.45" lengthAdjust="spacingAndGlyphs">2</text>
<line x1="380.2" y1="350.0" x2="380.2" y2="366" stroke="#222" stroke-width="0.9"/>
<path d="M378.3,364.0 L380.2,369.4 L382.1,364.0 Z" fill="#222"/>
<text x="332.1" y="424.5" font-size="8.8" fill="#c0253f" textLength="34.6" lengthAdjust="spacingAndGlyphs">ITD/Runx1</text>
<text x="381.9" y="411.6" font-size="8.8" fill="#3d5a80" textLength="39.3" lengthAdjust="spacingAndGlyphs">ITD/NHD13</text>
</svg></body></html>
